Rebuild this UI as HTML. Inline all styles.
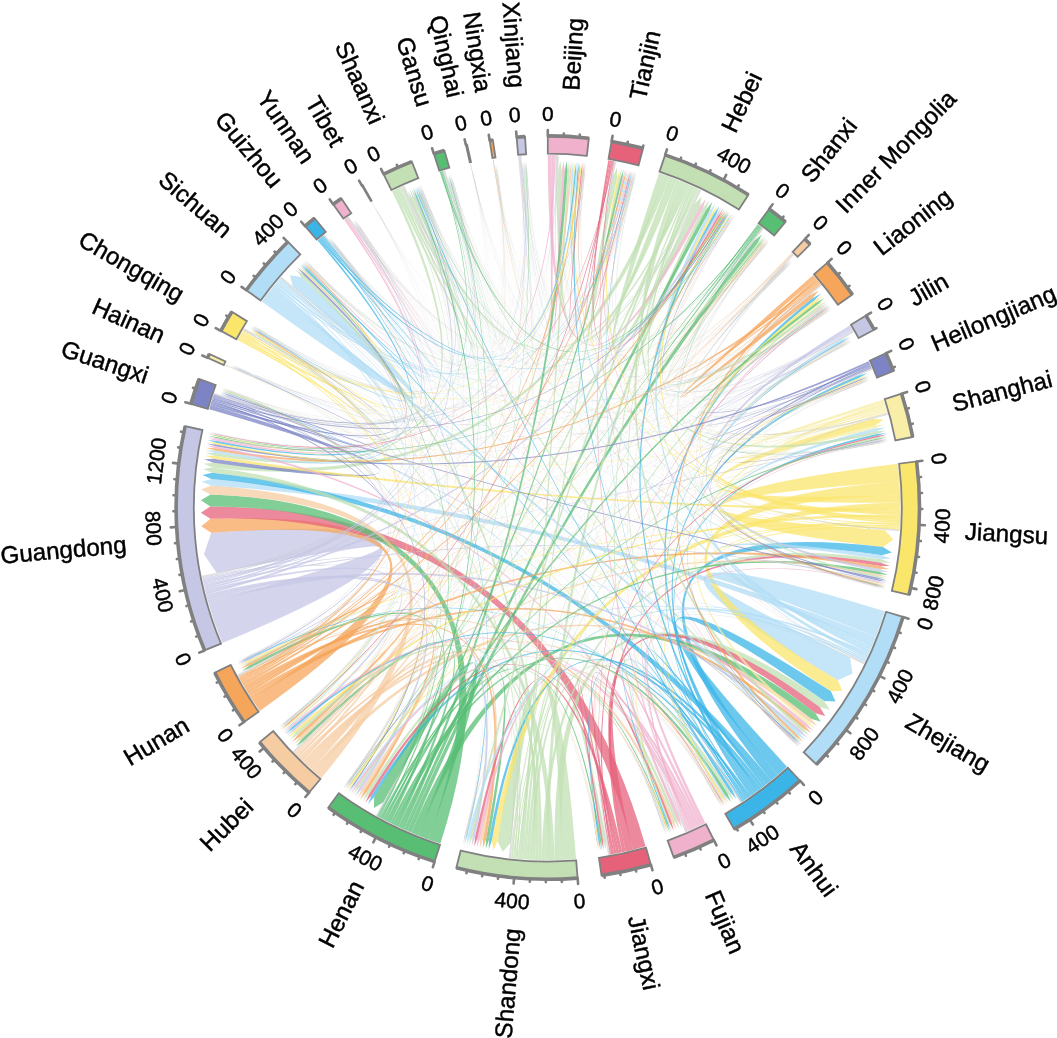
<!DOCTYPE html>
<html><head><meta charset="utf-8"><title>Chord diagram</title>
<style>html,body{margin:0;padding:0;background:#fff;overflow:hidden}svg{display:block}</style>
</head><body>
<svg width="1057" height="1038" viewBox="0 0 1057 1038">
<rect width="1057" height="1038" fill="#fff"/>
<g fill-opacity="0.75" stroke="none">
<path fill="#C6C7E5" d="M222.28 643.1A352.6 352.6 0 0 1 208.35 603.01Q547.48 507.61 216.68 572.91L203.94 554.14L211.23 532.66Q548.12 507.59 222.28 643.1Z"/>
<path fill="#B1DDF6" d="M884.79 611.34A352.6 352.6 0 0 1 875.84 636.89Q547.93 507.7 850.15 657.57L852.51 673.61L837.75 680.32Q547.67 507.5 884.79 611.34Z"/>
<path fill="#FBE66C" d="M897.67 463.83A352.6 352.6 0 0 1 899.44 481.59Q547.93 507.63 884.55 530.08L893.33 539.46L882.98 547.08Q547.67 507.57 897.67 463.83Z"/>
<path fill="#F5A65B" d="M259.75 710.95A352.6 352.6 0 0 1 251.65 698.97Q547.52 507.67 211.23 532.66L201.3 526.27L210.49 518.84Q548.08 507.53 259.75 710.95Z"/>
<path fill="#FBE66C" d="M899.44 481.59A352.6 352.6 0 0 1 900.18 495.11Q548.08 507.69 837.75 680.32L842.45 690.87L830.91 691.32Q547.52 507.51 899.44 481.59Z"/>
<path fill="#C2E0B4" d="M576.08 859.06A352.6 352.6 0 0 1 562.57 859.89Q547.78 507.69 510.48 843.03L502.82 851.67L497.63 841.35Q547.82 507.51 576.08 859.06Z"/>
<path fill="#B1DDF6" d="M261.78 301.39A352.6 352.6 0 0 1 269.91 290.57Q547.78 507.55 292.77 286.54L290.01 275.33L301.45 276.91Q547.82 507.65 261.78 301.39Z"/>
<path fill="#E6627B" d="M645.58 846.37A352.6 352.6 0 0 1 633.1 849.73Q547.34 508.19 210.49 518.84L200.84 512.8L210.3 506.47Q548.26 507.01 645.58 846.37Z"/>
<path fill="#57BE74" d="M440.42 843.45A352.6 352.6 0 0 1 428.48 839.4Q547.34 507.9 210.3 506.47L200.88 500.23L210.56 494.4Q548.26 507.3 440.42 843.45Z"/>
<path fill="#3BB5E7" d="M786.96 766.69A352.6 352.6 0 0 1 777.78 774.88Q547.7 507.54 830.91 691.32L835.54 701.55L824.33 701.09Q547.9 507.66 786.96 766.69Z"/>
<path fill="#57BE74" d="M428.48 839.4A352.6 352.6 0 0 1 418.11 835.48Q547.76 507.65 383.29 802.29L373.93 807.89L374.12 796.98Q547.84 507.55 428.48 839.4Z"/>
<path fill="#F6CCA3" d="M321.39 777.9A352.6 352.6 0 0 1 314.39 771.89Q547.52 507.71 210.56 494.4L201.27 489.49L211.02 485.58Q548.08 507.49 321.39 777.9Z"/>
<path fill="#3BB5E7" d="M777.78 774.88A352.6 352.6 0 0 1 771.18 780.42Q547.59 507.5 882.98 547.08L891.9 552.4L881.92 555.26Q548.01 507.7 777.78 774.88Z"/>
<path fill="#C2E0B4" d="M562.57 859.89A352.6 352.6 0 0 1 554.57 860.14Q547.67 507.38 824.33 701.09L829.83 709.75L819.87 707.32Q547.93 507.82 562.57 859.89Z"/>
<path fill="#E6627B" d="M633.1 849.73A352.6 352.6 0 0 1 625.62 851.51Q547.69 507.45 819.87 707.32L825.27 715.98L815.44 713.2Q547.91 507.75 633.1 849.73Z"/>
<path fill="#FBE66C" d="M900.18 495.11A352.6 352.6 0 0 1 900.36 502.49Q547.74 507.62 873.36 418.63L883.46 419.63L875.15 425.46Q547.86 507.58 900.18 495.11Z"/>
<path fill="#57BE74" d="M418.11 835.48A352.6 352.6 0 0 1 411.28 832.7Q547.71 507.29 815.44 713.2L820.75 721.86L811.08 718.76Q547.89 507.91 418.11 835.48Z"/>
<path fill="#B1DDF6" d="M875.84 636.89A352.6 352.6 0 0 1 873.3 643.16Q547.69 508.08 211.02 485.58L201.77 481.63L211.5 479.12Q547.91 507.12 875.84 636.89Z"/>
<path fill="#3BB5E7" d="M771.18 780.42A352.6 352.6 0 0 1 765.9 784.66Q547.58 508 211.5 479.12L202.34 475L212.11 472.66Q548.02 507.2 771.18 780.42Z"/>
<path fill="#C2E0B4" d="M659.1 173.03A352.6 352.6 0 0 1 664.92 175.02Q547.82 507.58 694.68 203.74L701.53 196.51L699.96 206.35Q547.78 507.62 659.1 173.03Z"/>
<path fill="#FBE66C" d="M900.36 502.49A352.6 352.6 0 0 1 900.4 508.65Q548.02 507.87 497.63 841.35L493.23 850.28L491.82 840.42Q547.58 507.33 900.36 502.49Z"/>
<path fill="#C2E0B4" d="M554.57 860.14A352.6 352.6 0 0 1 549.03 860.2Q547.57 507.8 212.11 472.66L202.96 468.97L212.7 467.4Q548.03 507.4 554.57 860.14Z"/>
<path fill="#C2E0B4" d="M664.92 175.02A352.6 352.6 0 0 1 669.55 176.69Q547.95 507.84 212.7 467.4L203.57 463.86L213.3 462.72Q547.65 507.36 664.92 175.02Z"/>
<path fill="#C2E0B4" d="M669.55 176.69A352.6 352.6 0 0 1 673.59 178.2Q547.8 507.63 613.14 176.48L617.05 167.58L617.18 177.31Q547.8 507.57 669.55 176.69Z"/>
<path fill="#F5A65B" d="M813.02 275.25A352.6 352.6 0 0 1 815.84 278.51Q547.81 507.6 809.9 294.98L818.61 290.64L812.48 298.19Q547.79 507.6 813.02 275.25Z"/>
<path fill="#B1DDF6" d="M873.3 643.16A352.6 352.6 0 0 1 871.62 647.13Q547.76 507.6 881.92 555.26L891.02 558.7L881.31 559.34Q547.84 507.6 873.3 643.16Z"/>
<path fill="#57BE74" d="M411.28 832.7A352.6 352.6 0 0 1 407.31 831Q547.53 507.44 754.35 240.68L761.83 234.47L757.59 243.23Q548.07 507.76 411.28 832.7Z"/>
<path fill="#7C84C6" d="M209.22 409.17A352.6 352.6 0 0 1 210.45 405.04Q547.82 507.6 213.3 462.72L204.17 459.36L213.87 458.64Q547.78 507.6 209.22 409.17Z"/>
<path fill="#F0B1CD" d="M547.8 155L551.49 155.02Q547.82 507.54 699.96 206.35L705.86 198.69L703.1 207.96Q547.78 507.66 547.8 155Z"/>
<path fill="#C2E0B4" d="M673.59 178.2A352.6 352.6 0 0 1 677.03 179.53Q547.8 507.65 558.26 170.26L560.37 160.83L561.79 170.39Q547.8 507.55 673.59 178.2Z"/>
<path fill="#C2E0B4" d="M549.03 860.2L545.34 860.19Q547.54 507.54 703.1 207.96L709.09 200.36L706.23 209.6Q548.06 507.66 549.03 860.2Z"/>
<path fill="#C2E0B4" d="M545.34 860.19L541.65 860.15Q547.68 507.47 881.31 559.34L890.42 562.59L880.75 562.83Q547.92 507.73 545.34 860.19Z"/>
<path fill="#57BE74" d="M407.31 831L403.94 829.52Q547.56 507.48 706.23 209.6L712.3 202.07L709.35 211.27Q548.04 507.72 407.31 831Z"/>
<path fill="#F6CCA3" d="M314.39 771.89L311.64 769.43Q547.78 507.4 811.08 718.76L817.35 726.12L808.85 721.51Q547.82 507.8 314.39 771.89Z"/>
<path fill="#E6627B" d="M625.62 851.51L622.31 852.24Q547.7 507.51 880.75 562.83L889.85 566.03L880.2 566.02Q547.9 507.69 625.62 851.51Z"/>
<path fill="#F0B1CD" d="M551.49 155.02L554.57 155.06Q547.81 507.6 561.79 170.39L563.69 160.96L564.73 170.52Q547.79 507.6 551.49 155.02Z"/>
<path fill="#F8EEA7" d="M883.43 399.52L884.36 402.45Q547.81 507.6 875.15 425.46L884.73 424.62L875.86 428.32Q547.79 507.6 883.43 399.52Z"/>
<path fill="#F8EEA7" d="M884.36 402.45L885.26 405.39Q547.9 507.63 808.85 721.51L815.24 728.7L806.98 723.78Q547.7 507.57 884.36 402.45Z"/>
<path fill="#FBE66C" d="M900.4 508.65L900.38 511.72Q547.78 507.82 213.87 458.64L204.69 455.76L214.31 455.73Q547.82 507.38 900.4 508.65Z"/>
<path fill="#B1DDF6" d="M871.62 647.13L870.39 649.95Q547.73 507.6 875.86 428.32L885.44 427.56L876.54 431.19Q547.87 507.6 871.62 647.13Z"/>
<path fill="#3BB5E7" d="M765.9 784.66L763.47 786.55Q547.8 507.61 732.32 790.19L736.24 798.97L729.85 791.79Q547.8 507.59 765.9 784.66Z"/>
<path fill="#3BB5E7" d="M763.47 786.55L761.03 788.42Q547.82 507.69 491.82 840.42L488.75 849.54L488.91 839.92Q547.78 507.51 763.47 786.55Z"/>
<path fill="#3BB5E7" d="M761.03 788.42L758.57 790.27Q547.8 507.73 374.12 796.98L367.93 804.34L371.6 795.45Q547.8 507.47 761.03 788.42Z"/>
<path fill="#F0B1CD" d="M705.35 823.04L702.59 824.41Q547.77 507.57 806.98 723.78L813.3 731.03L805.08 726.03Q547.83 507.63 705.35 823.04Z"/>
<path fill="#F0B1CD" d="M702.59 824.41L699.82 825.75Q547.8 507.61 679.61 818.3L681.93 827.63L676.9 819.43Q547.8 507.59 702.59 824.41Z"/>
<path fill="#E6627B" d="M622.31 852.24L619.3 852.87Q547.78 507.68 371.6 795.45L365.35 802.76L369.09 793.91Q547.82 507.52 622.31 852.24Z"/>
<path fill="#57BE74" d="M403.94 829.52L401.13 828.25Q547.58 507.55 564.73 170.52L566.72 161.12L567.67 170.69Q548.02 507.65 403.94 829.52Z"/>
<path fill="#57BE74" d="M401.13 828.25L398.34 826.96Q547.8 507.57 488.91 839.92L485.77 849.01L486.02 839.4Q547.8 507.63 401.13 828.25Z"/>
<path fill="#57BE74" d="M398.34 826.96L395.56 825.64Q547.77 507.63 303.95 740.93L296.04 746.4L301.92 738.8Q547.83 507.57 398.34 826.96Z"/>
<path fill="#F6CCA3" d="M311.64 769.43L309.36 767.36Q547.79 507.6 301.92 738.8L293.97 744.2L299.92 736.64Q547.81 507.6 311.64 769.43Z"/>
<path fill="#F5A65B" d="M251.65 698.97L249.99 696.38Q547.76 507.39 880.2 566.02L889.3 569.16L879.68 568.92Q547.84 507.81 251.65 698.97Z"/>
<path fill="#F5A65B" d="M249.99 696.38L248.36 693.77Q547.81 507.42 805.08 726.03L811.34 733.33L803.16 728.27Q547.79 507.78 249.99 696.38Z"/>
<path fill="#F5A65B" d="M248.36 693.77L246.74 691.15Q547.81 507.58 299.92 736.64L291.91 741.97L297.93 734.47Q547.79 507.62 248.36 693.77Z"/>
<path fill="#C2E0B4" d="M677.03 179.53L679.89 180.67Q547.88 507.54 876.54 431.19L886.13 430.51L877.19 434.06Q547.72 507.66 677.03 179.53Z"/>
<path fill="#C2E0B4" d="M679.89 180.67L682.73 181.84Q547.98 507.56 803.16 728.27L809.36 735.62L801.23 730.49Q547.62 507.64 679.89 180.67Z"/>
<path fill="#C2E0B4" d="M541.65 860.15L538.57 860.08Q547.61 507.68 301.45 276.91L295.55 269.32L303.47 274.77Q547.99 507.52 541.65 860.15Z"/>
<path fill="#C6C7E5" d="M208.35 603.01L207.54 600.05Q547.84 507.41 801.23 730.49L807.36 737.9L799.27 732.69Q547.76 507.79 208.35 603.01Z"/>
<path fill="#B1DDF6" d="M269.91 290.57L271.81 288.15Q547.95 507.43 799.27 732.69L805.34 740.16L797.3 734.88Q547.65 507.77 269.91 290.57Z"/>
<path fill="#C2E0B4" d="M538.57 860.08L535.49 859.99Q547.76 507.68 297.93 734.47L289.88 739.73L295.96 732.28Q547.84 507.52 538.57 860.08Z"/>
<path fill="#C2E0B4" d="M535.49 859.99L532.42 859.86Q547.78 507.65 369.09 793.91L362.78 801.16L366.6 792.33Q547.82 507.55 535.49 859.99Z"/>
<path fill="#F5A65B" d="M246.74 691.15L245.15 688.52Q547.83 507.56 366.6 792.33L360.23 799.53L364.13 790.74Q547.77 507.64 246.74 691.15Z"/>
<path fill="#F5A65B" d="M245.15 688.52L243.58 685.87Q547.85 507.52 486.02 839.4L482.79 848.46L483.12 838.84Q547.75 507.68 245.15 688.52Z"/>
<path fill="#C2E0B4" d="M532.42 859.86L529.35 859.72Q547.78 507.54 729.85 791.79L733.69 800.61L727.36 793.37Q547.82 507.66 532.42 859.86Z"/>
<path fill="#C2E0B4" d="M529.35 859.72L526.27 859.54Q547.79 507.55 676.9 819.43L679.13 828.79L674.17 820.55Q547.81 507.65 529.35 859.72Z"/>
<path fill="#F6CCA3" d="M309.36 767.36L307.1 765.27Q547.81 507.58 364.13 790.74L357.69 797.89L361.66 789.13Q547.79 507.62 309.36 767.36Z"/>
<path fill="#3BB5E7" d="M758.57 790.27L756.1 792.1Q547.64 507.58 812.48 298.19L820.87 293.49L814.3 300.51Q547.96 507.62 758.57 790.27Z"/>
<path fill="#C6C7E5" d="M207.54 600.05L206.74 597.08Q547.86 507.55 361.66 789.13L355.16 796.22L359.21 787.49Q547.74 507.65 207.54 600.05Z"/>
<path fill="#F6CCA3" d="M307.1 765.27L304.86 763.16Q547.82 507.54 483.12 838.84L479.82 847.88L480.23 838.27Q547.78 507.66 307.1 765.27Z"/>
<path fill="#FBE66C" d="M900.38 511.72L900.33 514.8Q547.73 507.63 814.3 300.51L822.72 295.88L816.09 302.84Q547.87 507.57 900.38 511.72Z"/>
<path fill="#F6CCA3" d="M304.86 763.16L302.66 761.04Q547.82 507.48 674.17 820.55L676.33 829.92L671.46 821.63Q547.78 507.72 304.86 763.16Z"/>
<path fill="#57BE74" d="M395.56 825.64L392.84 824.32Q547.79 507.49 727.36 793.37L731.15 802.2L724.9 794.9Q547.81 507.71 395.56 825.64Z"/>
<path fill="#C6C7E5" d="M849.72 325.47L851.25 328.03Q547.88 507.59 879.68 568.92L888.75 572.09L879.15 571.73Q547.72 507.61 849.72 325.47Z"/>
<path fill="#B1DDF6" d="M870.39 649.95L869.18 652.65Q547.66 507.65 709.35 211.27L715.17 203.63L711.83 212.64Q547.94 507.55 870.39 649.95Z"/>
<path fill="#C2E0B4" d="M526.27 859.54L523.39 859.35Q547.79 507.58 605.75 840.09L605.98 849.69L603.02 840.55Q547.81 507.62 526.27 859.54Z"/>
<path fill="#C2E0B4" d="M392.01 191.28L394.59 190.03Q547.88 507.65 214.31 455.73L205.14 452.87L214.74 453.02Q547.72 507.55 392.01 191.28Z"/>
<path fill="#F0B1CD" d="M699.82 825.75L697.24 826.97Q547.8 507.67 480.23 838.27L476.96 847.29L477.56 837.71Q547.8 507.53 699.82 825.75Z"/>
<path fill="#57BE74" d="M392.84 824.32L390.35 823.1Q547.73 507.46 879.15 571.73L888.22 574.87L878.64 574.33Q547.87 507.74 392.84 824.32Z"/>
<path fill="#B1DDF6" d="M271.81 288.15L273.55 285.99Q547.85 507.62 214.74 453.02L205.59 450.14L215.18 450.4Q547.75 507.58 271.81 288.15Z"/>
<path fill="#E6627B" d="M619.3 852.87L616.6 853.42Q547.8 507.64 477.56 837.71L474.25 846.72L474.98 837.15Q547.8 507.56 619.3 852.87Z"/>
<path fill="#57BE74" d="M390.35 823.1L387.93 821.87Q547.75 507.64 250.68 667.69L241.69 671.02L249.46 665.39Q547.85 507.56 390.35 823.1Z"/>
<path fill="#C6C7E5" d="M206.74 597.08L206.07 594.46Q547.87 507.52 474.98 837.15L471.63 846.14L472.46 836.58Q547.73 507.68 206.74 597.08Z"/>
<path fill="#3BB5E7" d="M756.1 792.1L754.05 793.58Q547.69 507.57 858.35 375.45L867.58 372.88L859.29 377.68Q547.91 507.63 756.1 792.1Z"/>
<path fill="#FBE66C" d="M900.33 514.8L900.27 517.27Q547.86 507.76 295.96 732.28L288.06 737.7L294.39 730.51Q547.74 507.44 900.33 514.8Z"/>
<path fill="#C2E0B4" d="M682.73 181.84L685.01 182.79Q547.97 507.66 472.46 836.58L469.15 845.57L470.16 836.05Q547.63 507.54 682.73 181.84Z"/>
<path fill="#FBE66C" d="M900.27 517.27L900.19 519.73Q547.72 507.65 711.83 212.64L717.5 204.93L713.89 213.79Q547.88 507.55 900.27 517.27Z"/>
<path fill="#B1DDF6" d="M869.18 652.65L868.16 654.89Q547.85 507.7 470.16 836.05L466.8 845.01L467.87 835.5Q547.75 507.5 869.18 652.65Z"/>
<path fill="#3BB5E7" d="M754.05 793.58L752.05 795.02Q547.65 507.61 713.89 213.79L719.61 206.12L715.93 214.96Q547.95 507.59 754.05 793.58Z"/>
<path fill="#F5A65B" d="M243.58 685.87L242.35 683.74Q547.79 507.6 249.46 665.39L240.5 668.76L248.37 663.31Q547.81 507.6 243.58 685.87Z"/>
<path fill="#C2E0B4" d="M394.59 190.03L396.81 188.96Q547.8 507.6 410.26 199.4L407.49 190.23L412.41 198.45Q547.8 507.6 394.59 190.03Z"/>
<path fill="#C6C7E5" d="M206.07 594.46L205.47 592.1Q547.7 507.47 715.93 214.96L721.7 207.32L717.95 216.13Q547.9 507.73 206.07 594.46Z"/>
<path fill="#C6C7E5" d="M205.47 592.1L204.9 589.73Q547.84 507.58 294.39 730.51L286.47 735.88L292.86 728.75Q547.76 507.62 205.47 592.1Z"/>
<path fill="#C2E0B4" d="M685.01 182.79L687.21 183.73Q547.95 507.68 359.21 787.49L352.93 794.71L357.31 786.2Q547.65 507.52 685.01 182.79Z"/>
<path fill="#57BE74" d="M387.93 821.87L385.83 820.8Q547.67 507.49 816.09 302.84L824.35 298L817.45 304.64Q547.93 507.71 387.93 821.87Z"/>
<path fill="#C2E0B4" d="M687.21 183.73L689.35 184.66Q547.8 507.67 412.41 198.45L409.65 189.28L414.46 197.56Q547.8 507.53 687.21 183.73Z"/>
<path fill="#E6627B" d="M616.6 853.42L614.35 853.86Q547.79 507.59 671.46 821.63L673.89 830.88L669.41 822.43Q547.81 507.61 616.6 853.42Z"/>
<path fill="#F5A65B" d="M815.84 278.51L817.27 280.2Q547.91 507.6 797.3 734.88L803.59 742.08L795.87 736.44Q547.69 507.6 815.84 278.51Z"/>
<path fill="#F5A65B" d="M817.27 280.2L818.66 281.85Q547.84 507.74 215.18 450.4L206 447.75L215.54 448.37Q547.76 507.46 817.27 280.2Z"/>
<path fill="#F0B1CD" d="M697.24 826.97L695.28 827.87Q547.71 507.71 215.54 448.37L206.37 445.66L215.91 446.34Q547.89 507.49 697.24 826.97Z"/>
<path fill="#C2E0B4" d="M523.39 859.35L521.24 859.2Q547.64 507.59 567.67 170.69L569.29 161.27L569.73 170.81Q547.96 507.61 523.39 859.35Z"/>
<path fill="#7C84C6" d="M210.45 405.04L211.06 403.04Q547.77 507.58 303.47 274.77L297.3 267.48L304.85 273.33Q547.83 507.62 210.45 405.04Z"/>
<path fill="#F0B1CD" d="M695.28 827.87L693.43 828.72Q547.79 507.67 357.31 786.2L351.12 793.48L355.7 785.1Q547.81 507.53 695.28 827.87Z"/>
<path fill="#C6C7E5" d="M204.9 589.73L204.44 587.78Q547.76 507.59 228.63 397.88L219.97 393.86L229.26 396.06Q547.84 507.61 204.9 589.73Z"/>
<path fill="#F6CCA3" d="M302.66 761.04L301.25 759.67Q547.68 507.54 569.73 170.81L571.31 161.4L571.61 170.94Q547.92 507.66 302.66 761.04Z"/>
<path fill="#7C84C6" d="M868.58 361.21L869.38 362.98Q547.82 507.73 215.91 446.34L206.74 443.68L216.25 444.52Q547.78 507.47 868.58 361.21Z"/>
<path fill="#B1DDF6" d="M868.16 654.89L867.36 656.63Q547.74 507.61 840.62 339.78L849.33 335.87L841.52 341.37Q547.86 507.59 868.16 654.89Z"/>
<path fill="#C2E0B4" d="M396.81 188.96L398.54 188.15Q547.91 507.52 795.87 736.44L802.21 743.57L794.62 737.78Q547.69 507.68 396.81 188.96Z"/>
<path fill="#C2E0B4" d="M689.35 184.66L691.04 185.41Q547.81 507.59 757.59 243.23L764.21 236.35L758.97 244.33Q547.79 507.61 689.35 184.66Z"/>
<path fill="#FBE66C" d="M900.19 519.73L900.12 521.57Q547.73 507.66 617.18 177.31L620.02 168.2L618.9 177.68Q547.87 507.54 900.19 519.73Z"/>
<path fill="#B1DDF6" d="M867.36 656.63L866.57 658.3Q547.7 507.66 571.61 170.94L573.18 161.53L573.37 171.07Q547.9 507.54 867.36 656.63Z"/>
<path fill="#3BB5E7" d="M752.05 795.02L750.54 796.08Q547.73 507.58 877.19 434.06L886.66 432.88L877.57 435.79Q547.87 507.62 752.05 795.02Z"/>
<path fill="#3BB5E7" d="M750.54 796.08L749.03 797.14Q547.79 507.69 292.86 728.75L285.08 734.29L291.7 727.42Q547.81 507.51 750.54 796.08Z"/>
<path fill="#E6627B" d="M614.35 853.86L612.54 854.21Q547.8 507.6 603.02 840.55L603.68 850.07L601.28 840.84Q547.8 507.6 614.35 853.86Z"/>
<path fill="#C2E0B4" d="M521.24 859.2L519.4 859.05Q547.67 507.58 618.9 177.68L621.79 168.58L620.63 178.05Q547.93 507.62 521.24 859.2Z"/>
<path fill="#57BE74" d="M385.83 820.8L384.2 819.95Q547.67 507.55 620.63 178.05L623.57 168.97L622.36 178.44Q547.93 507.65 385.83 820.8Z"/>
<path fill="#F6CCA3" d="M301.25 759.67L299.93 758.38Q547.76 507.49 878.64 574.33L887.77 577.1L878.28 576.06Q547.84 507.71 301.25 759.67Z"/>
<path fill="#FBE66C" d="M237.64 339.89L238.52 338.27Q547.82 507.6 216.25 444.52L207.09 441.85L216.58 442.78Q547.78 507.6 237.64 339.89Z"/>
<path fill="#3BB5E7" d="M317.5 240.6L318.9 239.4Q547.84 507.62 216.58 442.78L207.44 440.07L216.93 441.05Q547.76 507.58 317.5 240.6Z"/>
<path fill="#C2E0B4" d="M691.04 185.41L692.7 186.15Q547.88 507.56 878.28 576.06L887.4 578.86L877.93 577.76Q547.72 507.64 691.04 185.41Z"/>
<path fill="#F8EEA7" d="M885.26 405.39L885.77 407.1Q547.78 507.61 817.45 304.64L825.57 299.63L818.48 306Q547.82 507.59 885.26 405.39Z"/>
<path fill="#F0B1CD" d="M693.43 828.72L691.86 829.43Q547.78 507.67 291.7 727.42L283.94 732.96L290.63 726.16Q547.82 507.53 693.43 828.72Z"/>
<path fill="#C6C7E5" d="M204.44 587.78L204.05 586.1Q547.73 507.56 414.46 197.56L411.49 188.5L415.97 196.91Q547.87 507.64 204.44 587.78Z"/>
<path fill="#B1DDF6" d="M866.57 658.3L865.85 659.83Q547.82 507.63 724.9 794.9L729.18 803.42L723.52 795.75Q547.78 507.57 866.57 658.3Z"/>
<path fill="#E6627B" d="M608.3 160.23L609.95 160.52Q547.81 507.58 717.95 216.13L723.45 208.34L719.33 216.94Q547.79 507.62 608.3 160.23Z"/>
<path fill="#F0B1CD" d="M344.15 219.76L345.51 218.8Q547.84 507.62 216.93 441.05L207.78 438.37L217.25 439.48Q547.76 507.58 344.15 219.76Z"/>
<path fill="#C2E0B4" d="M519.4 859.05L517.75 858.92Q547.7 507.55 818.48 306L826.58 300.99L819.42 307.28Q547.9 507.65 519.4 859.05Z"/>
<path fill="#C2E0B4" d="M692.7 186.15L694.14 186.8Q547.82 507.58 819.42 307.28L827.53 302.27L820.31 308.5Q547.78 507.62 692.7 186.15Z"/>
<path fill="#FBE66C" d="M900.12 521.57L900.06 523.11Q547.74 507.65 573.37 171.07L574.84 161.66L574.84 171.18Q547.86 507.55 900.12 521.57Z"/>
<path fill="#E6627B" d="M612.54 854.21L611.03 854.48Q547.73 507.56 877.57 435.79L887.01 434.5L877.88 437.23Q547.87 507.64 612.54 854.21Z"/>
<path fill="#B1DDF6" d="M865.85 659.83L865.19 661.19Q547.82 507.68 355.7 785.1L349.68 792.48L354.51 784.27Q547.78 507.52 865.85 659.83Z"/>
<path fill="#57BE74" d="M384.2 819.95L382.87 819.25Q547.8 507.57 601.28 840.84L602.05 850.33L599.86 841.06Q547.8 507.63 384.2 819.95Z"/>
<path fill="#FBE66C" d="M238.52 338.27L239.24 336.96Q547.79 507.59 304.85 273.33L298.52 266.21L305.85 272.3Q547.81 507.61 238.52 338.27Z"/>
<path fill="#F6CCA3" d="M299.93 758.38L298.87 757.32Q547.81 507.53 723.52 795.75L727.84 804.24L722.3 796.49Q547.79 507.67 299.93 758.38Z"/>
<path fill="#3BB5E7" d="M749.03 797.14L747.81 797.98Q547.81 507.62 599.86 841.06L600.6 850.56L598.45 841.28Q547.79 507.58 749.03 797.14Z"/>
<path fill="#F5A65B" d="M242.35 683.74L241.61 682.46Q547.73 507.53 719.33 216.94L724.78 209.13L720.54 217.66Q547.87 507.67 242.35 683.74Z"/>
<path fill="#7C84C6" d="M211.06 403.04L211.49 401.66Q547.83 507.5 877.93 577.76L887.07 580.44L877.63 579.13Q547.77 507.7 211.06 403.04Z"/>
<path fill="#C2E0B4" d="M694.14 186.8L695.45 187.4Q547.9 507.6 669.41 822.43L672.17 831.54L668.12 822.92Q547.7 507.6 694.14 186.8Z"/>
<path fill="#57BE74" d="M382.87 819.25L381.6 818.57Q547.7 507.59 415.97 196.91L412.92 187.89L417.25 196.37Q547.9 507.61 382.87 819.25Z"/>
<path fill="#7C84C6" d="M869.38 362.98L869.97 364.3Q547.83 507.6 877.63 579.13L886.77 581.83L877.34 580.47Q547.77 507.6 869.38 362.98Z"/>
<path fill="#F0B1CD" d="M691.86 829.43L690.54 830.02Q547.7 507.61 622.36 178.44L625.15 169.33L623.7 178.75Q547.9 507.59 691.86 829.43Z"/>
<path fill="#FBE66C" d="M900.06 523.11L899.99 524.54Q547.84 507.63 722.3 796.49L726.61 804.98L721.12 797.2Q547.76 507.57 900.06 523.11Z"/>
<path fill="#3BB5E7" d="M318.9 239.4L319.97 238.49Q547.79 507.56 574.84 171.18L576.29 161.77L576.18 171.3Q547.81 507.64 318.9 239.4Z"/>
<path fill="#C6C7E5" d="M204.05 586.1L203.74 584.75Q547.8 507.5 877.34 580.47L886.47 583.19L877.05 581.77Q547.8 507.7 204.05 586.1Z"/>
<path fill="#B1DDF6" d="M273.55 285.99L274.41 284.92Q547.78 507.56 576.18 171.3L577.65 161.89L577.49 171.41Q547.82 507.64 273.55 285.99Z"/>
<path fill="#C2E0B4" d="M517.75 858.92L516.39 858.8Q547.72 507.64 257.21 335.95L249.37 330.54L257.87 334.83Q547.88 507.56 517.75 858.92Z"/>
<path fill="#B1DDF6" d="M274.41 284.92L275.24 283.91Q547.86 507.6 290.63 726.16L282.98 731.83L289.82 725.21Q547.74 507.6 274.41 284.92Z"/>
<path fill="#F5A65B" d="M241.61 682.46L240.98 681.36Q547.73 507.55 623.7 178.75L626.45 169.63L624.89 179.02Q547.87 507.65 241.61 682.46Z"/>
<path fill="#F0B1CD" d="M554.57 155.06L555.83 155.09Q547.84 507.65 217.25 439.48L208.07 436.96L217.49 438.3Q547.76 507.55 554.57 155.06Z"/>
<path fill="#7C84C6" d="M211.49 401.66L211.87 400.46Q547.85 507.58 354.51 784.27L348.56 791.7L353.53 783.58Q547.75 507.62 211.49 401.66Z"/>
<path fill="#FBE66C" d="M239.24 336.96L239.85 335.87Q547.86 507.58 353.53 783.58L347.56 790.99L352.55 782.89Q547.74 507.62 239.24 336.96Z"/>
<path fill="#3BB5E7" d="M747.81 797.98L746.79 798.68Q547.72 507.62 577.49 171.41L578.93 162L578.66 171.51Q547.88 507.58 747.81 797.98Z"/>
<path fill="#C2E0B4" d="M516.39 858.8L515.17 858.69Q547.74 507.55 877.88 437.23L887.3 435.84L878.12 438.38Q547.86 507.65 516.39 858.8Z"/>
<path fill="#57BE74" d="M381.6 818.57L380.51 817.99Q547.75 507.53 878.12 438.38L887.55 437.02L878.36 439.53Q547.85 507.67 381.6 818.57Z"/>
<path fill="#F5A65B" d="M240.98 681.36L240.38 680.28Q547.73 507.56 578.66 171.51L580.14 162.11L579.84 171.62Q547.87 507.64 240.98 681.36Z"/>
<path fill="#7C84C6" d="M211.87 400.46L212.25 399.29Q547.8 507.6 229.26 396.06L220.5 392.35L229.65 394.95Q547.8 507.6 211.87 400.46Z"/>
<path fill="#FBE66C" d="M239.85 335.87L240.45 334.8Q547.8 507.6 257.87 334.83L250.02 329.45L258.48 333.82Q547.8 507.6 239.85 335.87Z"/>
<path fill="#B1DDF6" d="M275.24 283.91L276.02 282.96Q547.79 507.55 624.89 179.02L627.65 169.91L626.03 179.29Q547.81 507.65 275.24 283.91Z"/>
<path fill="#3BB5E7" d="M746.79 798.68L745.78 799.37Q547.8 507.61 668.12 822.92L670.95 832.01L667.03 823.34Q547.8 507.59 746.79 798.68Z"/>
<path fill="#C2E0B4" d="M695.45 187.4L696.56 187.92Q547.88 507.6 721.12 797.2L725.49 805.65L720.12 797.79Q547.72 507.6 695.45 187.4Z"/>
<path fill="#57BE74" d="M380.51 817.99L379.47 817.42Q547.8 507.56 667.03 823.34L669.84 832.43L665.96 823.74Q547.8 507.64 380.51 817.99Z"/>
<path fill="#57BE74" d="M439.72 171.97L440.85 171.61Q547.81 507.56 720.54 217.66L725.91 209.8L721.52 218.24Q547.79 507.64 439.72 171.97Z"/>
<path fill="#FBE66C" d="M240.45 334.8L241.03 333.76Q547.78 507.56 579.84 171.62L581.32 162.22L580.97 171.73Q547.82 507.64 240.45 334.8Z"/>
<path fill="#C6C7E5" d="M203.74 584.75L203.49 583.6Q547.76 507.58 357.16 229.1L352.27 220.93L358.09 228.46Q547.84 507.62 203.74 584.75Z"/>
<path fill="#F5A65B" d="M818.66 281.85L819.41 282.76Q547.79 507.61 721.52 218.24L726.9 210.39L722.48 218.82Q547.81 507.59 818.66 281.85Z"/>
<path fill="#C2E0B4" d="M515.17 858.69L514.01 858.58Q547.78 507.63 248.37 663.31L239.67 667.18L247.86 662.32Q547.82 507.57 515.17 858.69Z"/>
<path fill="#F6CCA3" d="M298.87 757.32L298.06 756.52Q547.73 507.56 626.03 179.29L628.78 170.18L627.1 179.55Q547.87 507.64 298.87 757.32Z"/>
<path fill="#E6627B" d="M609.95 160.52L611.06 160.72Q547.8 507.6 580.97 171.73L582.46 162.33L582.05 171.84Q547.8 507.6 609.95 160.52Z"/>
<path fill="#F0B1CD" d="M690.54 830.02L689.51 830.47Q547.77 507.58 877.05 581.77L886.19 584.4L876.81 582.82Q547.83 507.62 690.54 830.02Z"/>
<path fill="#C6C7E5" d="M203.49 583.6L203.25 582.52Q547.76 507.59 305.85 272.3L299.41 265.29L306.58 271.55Q547.84 507.61 203.49 583.6Z"/>
<path fill="#3BB5E7" d="M319.97 238.49L320.79 237.8Q547.8 507.6 306.58 271.55L300.16 264.53L307.3 270.82Q547.8 507.6 319.97 238.49Z"/>
<path fill="#FBE66C" d="M899.99 524.54L899.94 525.61Q547.78 507.6 859.29 377.68L868.26 374.51L859.69 378.63Q547.82 507.6 899.99 524.54Z"/>
<path fill="#7C84C6" d="M212.25 399.29L212.58 398.27Q547.78 507.54 722.48 218.82L727.85 210.97L723.36 219.35Q547.82 507.66 212.25 399.29Z"/>
<path fill="#C2E0B4" d="M514.01 858.58L512.95 858.47Q547.75 507.56 859.69 378.63L868.67 375.48L860.07 379.57Q547.85 507.64 514.01 858.58Z"/>
<path fill="#B1DDF6" d="M276.02 282.96L276.7 282.15Q547.79 507.58 417.25 196.37L414.05 187.41L418.18 195.98Q547.81 507.62 276.02 282.96Z"/>
<path fill="#F8EEA7" d="M885.77 407.1L886.07 408.1Q547.84 507.67 289.82 725.21L282.23 730.94L289.18 724.44Q547.76 507.53 885.77 407.1Z"/>
<path fill="#F0B1CD" d="M689.51 830.47L688.56 830.89Q547.74 507.59 820.31 308.5L828.29 303.31L820.9 309.3Q547.86 507.61 689.51 830.47Z"/>
<path fill="#FBE66C" d="M241.03 333.76L241.54 332.86Q547.84 507.59 289.18 724.44L281.57 730.16L288.54 723.68Q547.76 507.61 241.03 333.76Z"/>
<path fill="#FBE66C" d="M899.94 525.61L899.89 526.64Q547.83 507.66 352.55 782.89L346.64 790.34L351.75 782.32Q547.77 507.54 899.94 525.61Z"/>
<path fill="#57BE74" d="M757.78 224.34L758.61 224.96Q547.8 507.6 723.36 219.35L728.73 211.5L724.2 219.87Q547.8 507.6 757.78 224.34Z"/>
<path fill="#F5A65B" d="M240.38 680.28L239.88 679.39Q547.76 507.6 258.48 333.82L250.59 328.5L258.98 332.98Q547.84 507.6 240.38 680.28Z"/>
<path fill="#3BB5E7" d="M745.78 799.37L744.94 799.94Q547.73 507.64 418.18 195.98L414.99 187.02L419.08 195.61Q547.87 507.56 745.78 799.37Z"/>
<path fill="#57BE74" d="M379.47 817.42L378.57 816.94Q547.74 507.61 307.3 270.82L300.88 263.8L307.98 270.13Q547.86 507.59 379.47 817.42Z"/>
<path fill="#57BE74" d="M758.61 224.96L759.42 225.56Q547.82 507.66 217.49 438.3L208.3 435.86L217.69 437.35Q547.78 507.54 758.61 224.96Z"/>
<path fill="#C6C7E5" d="M203.25 582.52L203.04 581.54Q547.76 507.55 627.1 179.55L629.81 170.43L628.04 179.78Q547.84 507.65 203.25 582.52Z"/>
<path fill="#3BB5E7" d="M744.94 799.94L744.13 800.48Q547.75 507.65 307.98 270.13L301.57 263.1L308.64 269.46Q547.85 507.55 744.94 799.94Z"/>
<path fill="#FBE66C" d="M899.89 526.64L899.83 527.61Q547.81 507.67 247.86 662.32L239.19 666.25L247.43 661.5Q547.79 507.53 899.89 526.64Z"/>
<path fill="#B1DDF6" d="M276.7 282.15L277.31 281.41Q547.86 507.58 467.87 835.5L465.16 844.62L466.98 835.28Q547.74 507.62 276.7 282.15Z"/>
<path fill="#F0B1CD" d="M345.51 218.8L346.3 218.25Q547.81 507.6 308.64 269.46L302.24 262.43L309.29 268.82Q547.79 507.6 345.51 218.8Z"/>
<path fill="#C2E0B4" d="M512.95 858.47L512 858.38Q547.73 507.61 419.08 195.61L415.89 186.65L419.93 195.26Q547.87 507.59 512.95 858.47Z"/>
<path fill="#F8EEA7" d="M886.07 408.1L886.34 409.02Q547.8 507.67 217.69 437.35L208.5 434.92L217.88 436.46Q547.8 507.53 886.07 408.1Z"/>
<path fill="#F5A65B" d="M239.88 679.39L239.42 678.57Q547.76 507.59 309.29 268.82L302.9 261.77L309.93 268.18Q547.84 507.61 239.88 679.39Z"/>
<path fill="#3BB5E7" d="M744.13 800.48L743.35 801.01Q547.75 507.59 841.52 341.37L850.02 337.09L841.97 342.15Q547.85 507.61 744.13 800.48Z"/>
<path fill="#F8EEA7" d="M886.34 409.02L886.6 409.91Q547.82 507.6 876.81 582.82L885.97 585.39L876.61 583.69Q547.78 507.6 886.34 409.02Z"/>
<path fill="#B1DDF6" d="M277.31 281.41L277.91 280.7Q547.79 507.58 449.34 184.78L447 175.56L450.19 184.52Q547.81 507.62 277.31 281.41Z"/>
<path fill="#E6627B" d="M611.06 160.72L611.97 160.89Q547.8 507.6 628.04 179.78L630.74 170.66L628.9 179.99Q547.8 507.6 611.06 160.72Z"/>
<path fill="#57BE74" d="M759.42 225.56L760.16 226.12Q547.8 507.6 758.97 244.33L765.27 237.2L759.66 244.88Q547.8 507.6 759.42 225.56Z"/>
<path fill="#C6C7E5" d="M851.25 328.03L851.72 328.83Q547.8 507.6 841.97 342.15L850.47 337.89L842.4 342.92Q547.8 507.6 851.25 328.03Z"/>
<path fill="#7C84C6" d="M869.97 364.3L870.34 365.14Q547.8 507.6 860.07 379.57L869.04 376.39L860.41 380.39Q547.8 507.6 869.97 364.3Z"/>
<path fill="#E6627B" d="M611.97 160.89L612.87 161.06Q547.85 507.63 288.54 723.68L280.96 729.42L287.98 723.01Q547.75 507.57 611.97 160.89Z"/>
<path fill="#C2E0B4" d="M512 858.38L511.1 858.28Q547.74 507.58 759.66 244.88L765.97 237.77L760.34 245.43Q547.86 507.62 512 858.38Z"/>
<path fill="#F8EEA7" d="M886.6 409.91L886.84 410.75Q547.8 507.6 860.41 380.39L869.37 377.21L860.72 381.17Q547.8 507.6 886.6 409.91Z"/>
<path fill="#F6CCA3" d="M298.06 756.52L297.46 755.91Q547.79 507.6 247.43 661.5L238.78 665.45L247.06 660.77Q547.81 507.6 298.06 756.52Z"/>
<path fill="#C6C7E5" d="M203.04 581.54L202.86 580.7Q547.81 507.6 247.06 660.77L238.4 664.7L246.69 660.04Q547.79 507.6 203.04 581.54Z"/>
<path fill="#7C84C6" d="M870.34 365.14L870.68 365.9Q547.79 507.61 724.2 219.87L729.51 211.98L724.88 220.28Q547.81 507.59 870.34 365.14Z"/>
<path fill="#C2E0B4" d="M696.56 187.92L697.31 188.27Q547.8 507.62 450.19 184.52L447.83 175.31L450.95 184.3Q547.8 507.58 696.56 187.92Z"/>
<path fill="#57BE74" d="M440.85 171.61L441.64 171.36Q547.82 507.62 217.88 436.46L208.68 434.06L218.05 435.68Q547.78 507.58 440.85 171.61Z"/>
<path fill="#C2E0B4" d="M697.31 188.27L698.06 188.62Q547.85 507.64 287.98 723.01L280.41 728.76L287.48 722.4Q547.75 507.56 697.31 188.27Z"/>
<path fill="#FBE66C" d="M899.83 527.61L899.78 528.43Q547.83 507.62 665.96 823.74L668.91 832.78L665.23 824.01Q547.77 507.58 899.83 527.61Z"/>
<path fill="#C2E0B4" d="M398.54 188.15L399.25 187.82Q547.8 507.57 724.88 220.28L730.19 212.4L725.52 220.68Q547.8 507.63 398.54 188.15Z"/>
<path fill="#F0B1CD" d="M688.56 830.89L687.84 831.2Q547.77 507.58 878.36 439.53L887.75 437.99L878.51 440.26Q547.83 507.62 688.56 830.89Z"/>
<path fill="#F8EEA7" d="M886.84 410.75L887.05 411.5Q547.78 507.61 725.52 220.68L730.84 212.81L726.15 221.07Q547.82 507.59 886.84 410.75Z"/>
<path fill="#C6C7E5" d="M202.86 580.7L202.7 579.95Q547.78 507.55 842.4 342.92L850.87 338.62L842.76 343.57Q547.82 507.65 202.86 580.7Z"/>
<path fill="#C2E0B4" d="M399.25 187.82L399.94 187.5Q547.84 507.61 287.48 722.4L279.91 728.16L287.01 721.84Q547.76 507.59 399.25 187.82Z"/>
<path fill="#3BB5E7" d="M743.35 801.01L742.72 801.42Q547.79 507.64 246.69 660.04L238.04 664L246.36 659.39Q547.81 507.56 743.35 801.01Z"/>
<path fill="#FBE66C" d="M241.54 332.86L241.92 332.21Q547.79 507.56 726.15 221.07L731.48 213.2L726.76 221.45Q547.81 507.64 241.54 332.86Z"/>
<path fill="#F5A65B" d="M239.42 678.57L239.06 677.91Q547.81 507.57 665.23 824.01L668.19 833.05L664.56 824.26Q547.79 507.63 239.42 678.57Z"/>
<path fill="#7C84C6" d="M212.58 398.27L212.81 397.58Q547.83 507.55 794.62 737.78L801.33 744.52L794.15 738.29Q547.77 507.65 212.58 398.27Z"/>
<path fill="#7C84C6" d="M870.68 365.9L870.96 366.56Q547.83 507.61 794.15 738.29L800.84 745.05L793.68 738.8Q547.77 507.59 870.68 365.9Z"/>
<path fill="#57BE74" d="M760.16 226.12L760.73 226.55Q547.84 507.63 351.75 782.32L345.94 789.84L351.19 781.92Q547.76 507.57 760.16 226.12Z"/>
<path fill="#B1DDF6" d="M277.91 280.7L278.37 280.15Q547.8 507.56 820.9 309.3L828.8 304.01L821.3 309.86Q547.8 507.64 277.91 280.7Z"/>
<path fill="#3BB5E7" d="M320.79 237.8L321.33 237.34Q547.8 507.57 726.76 221.45L732.09 213.59L727.34 221.81Q547.8 507.63 320.79 237.8Z"/>
<path fill="#C6C7E5" d="M202.7 579.95L202.56 579.26Q547.79 507.55 878.51 440.26L887.89 438.71L878.65 440.93Q547.81 507.65 202.7 579.95Z"/>
<path fill="#E6627B" d="M611.03 854.48L610.33 854.61Q547.8 507.59 720.12 797.79L724.67 806.14L719.54 798.14Q547.8 507.61 611.03 854.48Z"/>
<path fill="#7C84C6" d="M212.81 397.58L213.02 396.91Q547.82 507.6 246.36 659.39L237.72 663.36L246.06 658.79Q547.78 507.6 212.81 397.58Z"/>
<path fill="#57BE74" d="M378.57 816.94L377.98 816.61Q547.75 507.59 450.95 184.3L448.54 175.1L451.57 184.11Q547.85 507.61 378.57 816.94Z"/>
<path fill="#3BB5E7" d="M321.33 237.34L321.83 236.92Q547.84 507.59 466.98 835.28L464.39 844.43L466.37 835.13Q547.76 507.61 321.33 237.34Z"/>
<path fill="#7C84C6" d="M213.02 396.91L213.23 396.29Q547.8 507.6 239.35 370.61L230.8 366.46L239.61 370.04Q547.8 507.6 213.02 396.91Z"/>
<path fill="#F5A65B" d="M819.41 282.76L819.83 283.26Q547.82 507.6 876.61 583.69L885.79 586.14L876.47 584.3Q547.78 507.6 819.41 282.76Z"/>
<path fill="#B1DDF6" d="M278.37 280.15L278.79 279.66Q547.81 507.6 229.65 394.95L220.81 391.48L229.86 394.36Q547.79 507.6 278.37 280.15Z"/>
<path fill="#F6CCA3" d="M297.46 755.91L297.02 755.46Q547.77 507.57 783.28 265.82L790.13 259.23L783.71 266.24Q547.83 507.63 297.46 755.91Z"/>
<path fill="#F6CCA3" d="M297.02 755.46L296.58 755.02Q547.81 507.58 598.45 841.28L599.58 850.72L597.87 841.37Q547.79 507.62 297.02 755.46Z"/>
<path fill="#7C84C6" d="M213.23 396.29L213.43 395.71Q547.8 507.6 258.98 332.98L251.01 327.81L259.29 332.48Q547.8 507.6 213.23 396.29Z"/>
<path fill="#F0B1CD" d="M346.3 218.25L346.8 217.9Q547.8 507.6 358.09 228.46L353 220.44L358.58 228.13Q547.8 507.6 346.3 218.25Z"/>
<path fill="#C6C7E5" d="M518.23 156.24L518.85 156.19Q547.8 507.6 522.4 171.06L521.98 161.56L522.98 171.01Q547.8 507.6 518.23 156.24Z"/>
<path fill="#F6CCA3" d="M791.63 252.89L792.07 253.32Q547.8 507.6 727.34 221.81L732.64 213.93L727.83 222.13Q547.8 507.6 791.63 252.89Z"/>
<path fill="#F8EEA7" d="M225.06 365.59L225.31 365.04Q547.8 507.6 218.05 435.68L208.83 433.37L218.18 435.12Q547.8 507.6 225.06 365.59Z"/>
<path fill="#F6CCA3" d="M296.58 755.02L296.16 754.59Q547.76 507.59 522.98 171.01L522.58 161.52L523.55 170.97Q547.84 507.61 296.58 755.02Z"/>
<path fill="#C6C7E5" d="M851.72 328.83L852.02 329.33Q547.79 507.61 628.9 179.99L631.46 170.84L629.44 180.12Q547.81 507.59 851.72 328.83Z"/>
<path fill="#E6627B" d="M612.87 161.06L613.44 161.16Q547.82 507.62 218.18 435.12L208.96 432.79L218.3 434.57Q547.78 507.58 612.87 161.06Z"/>
<path fill="#C2E0B4" d="M698.06 188.62L698.59 188.87Q547.8 507.62 309.93 268.18L303.44 261.24L310.33 267.78Q547.8 507.58 698.06 188.62Z"/>
<path fill="#F5A65B" d="M819.83 283.26L820.19 283.7Q547.79 507.61 582.05 171.84L583.29 162.42L582.6 171.9Q547.81 507.59 819.83 283.26Z"/>
<path fill="#F8EEA7" d="M887.05 411.5L887.21 412.05Q547.82 507.63 351.19 781.92L345.42 789.47L350.74 781.6Q547.78 507.57 887.05 411.5Z"/>
<path fill="#F8EEA7" d="M887.21 412.05L887.36 412.6Q547.83 507.61 664.56 824.26L667.58 833.27L664.04 824.45Q547.77 507.59 887.21 412.05Z"/>
<path fill="#F5A65B" d="M820.19 283.7L820.55 284.15Q547.81 507.6 860.72 381.17L869.64 377.87L860.93 381.67Q547.79 507.6 820.19 283.7Z"/>
<path fill="#FBE66C" d="M241.92 332.21L242.2 331.72Q547.8 507.57 821.3 309.86L829.16 304.52L821.62 310.29Q547.8 507.63 241.92 332.21Z"/>
<path fill="#3BB5E7" d="M321.83 236.92L322.26 236.57Q547.8 507.58 629.44 180.12L632.01 170.97L629.96 180.25Q547.8 507.62 321.83 236.92Z"/>
<path fill="#F0B1CD" d="M687.84 831.2L687.33 831.42Q547.8 507.6 719.54 798.14L724.14 806.45L719.08 798.41Q547.8 507.6 687.84 831.2Z"/>
<path fill="#7C84C6" d="M870.96 366.56L871.18 367.07Q547.8 507.6 821.62 310.29L829.48 304.96L821.92 310.72Q547.8 507.6 870.96 366.56Z"/>
<path fill="#7C84C6" d="M213.43 395.71L213.6 395.19Q547.79 507.59 419.93 195.26L416.58 186.37L420.41 195.07Q547.81 507.61 213.43 395.71Z"/>
<path fill="#F6CCA3" d="M296.16 754.59L295.79 754.21Q547.77 507.58 727.83 222.13L733.12 214.23L728.27 222.4Q547.83 507.62 296.16 754.59Z"/>
<path fill="#7C84C6" d="M871.18 367.07L871.4 367.56Q547.8 507.6 878.65 440.93L888.01 439.31L878.75 441.43Q547.8 507.6 871.18 367.07Z"/>
<path fill="#B1DDF6" d="M865.19 661.19L864.95 661.68Q547.78 507.6 821.92 310.72L829.79 305.39L822.22 311.14Q547.82 507.6 865.19 661.19Z"/>
<path fill="#C2E0B4" d="M511.1 858.28L510.57 858.23Q547.76 507.6 523.55 170.97L523.13 161.48L524.06 170.94Q547.84 507.6 511.1 858.28Z"/>
<path fill="#C6C7E5" d="M202.56 579.26L202.45 578.74Q547.78 507.58 524.06 170.94L523.65 161.44L524.57 170.9Q547.82 507.62 202.56 579.26Z"/>
<path fill="#57BE74" d="M760.73 226.55L761.15 226.87Q547.82 507.59 876.47 584.3L885.66 586.71L876.35 584.79Q547.78 507.61 760.73 226.55Z"/>
<path fill="#B1DDF6" d="M864.95 661.68L864.72 662.16Q547.81 507.61 664.04 824.45L667.07 833.46L663.56 824.63Q547.79 507.59 864.95 661.68Z"/>
<path fill="#F5A65B" d="M239.06 677.91L238.81 677.45Q547.78 507.6 229.86 394.36L221 390.93L230.03 393.89Q547.82 507.6 239.06 677.91Z"/>
<path fill="#B1DDF6" d="M278.79 279.66L279.13 279.26Q547.8 507.57 728.27 222.4L733.57 214.51L728.69 222.67Q547.8 507.63 278.79 279.66Z"/>
<path fill="#3BB5E7" d="M742.72 801.42L742.29 801.71Q547.77 507.61 629.96 180.25L632.52 171.1L630.44 180.37Q547.83 507.59 742.72 801.42Z"/>
<path fill="#F0B1CD" d="M555.83 155.09L556.35 155.1Q547.8 507.6 630.44 180.37L633.02 171.23L630.92 180.5Q547.8 507.6 555.83 155.09Z"/>
<path fill="#B1DDF6" d="M279.13 279.26L279.46 278.86Q547.8 507.6 334.03 246.43L328.21 238.92L334.41 246.12Q547.8 507.6 279.13 279.26Z"/>
<path fill="#C6C7E5" d="M202.45 578.74L202.35 578.23Q547.81 507.57 719.08 798.41L723.69 806.72L718.66 798.66Q547.79 507.63 202.45 578.74Z"/>
<path fill="#57BE74" d="M761.15 226.87L761.56 227.18Q547.8 507.6 822.22 311.14L830.09 305.81L822.51 311.54Q547.8 507.6 761.15 226.87Z"/>
<path fill="#3BB5E7" d="M742.29 801.71L741.86 801.99Q547.78 507.63 230.03 393.89L221.17 390.45L230.2 393.43Q547.82 507.57 742.29 801.71Z"/>
<path fill="#F6CCA3" d="M295.79 754.21L295.43 753.85Q547.78 507.6 230.2 393.43L221.34 389.98L230.36 392.98Q547.82 507.6 295.79 754.21Z"/>
<path fill="#F5A65B" d="M820.55 284.15L820.87 284.53Q547.8 507.6 760.34 245.43L766.51 238.21L760.71 245.73Q547.8 507.6 820.55 284.15Z"/>
<path fill="#C6C7E5" d="M852.02 329.33L852.27 329.77Q547.81 507.63 218.3 434.57L209.08 432.27L218.4 434.1Q547.79 507.57 852.02 329.33Z"/>
<path fill="#C2E0B4" d="M698.59 188.87L699.04 189.08Q547.8 507.61 524.57 170.9L524.16 161.41L525.05 170.87Q547.8 507.59 698.59 188.87Z"/>
<path fill="#E6627B" d="M610.33 854.61L609.84 854.7Q547.77 507.59 822.51 311.54L830.38 306.22L822.78 311.92Q547.83 507.61 610.33 854.61Z"/>
<path fill="#B1DDF6" d="M279.46 278.86L279.78 278.49Q547.79 507.59 525.05 170.87L524.65 161.37L525.52 170.84Q547.81 507.61 279.46 278.86Z"/>
<path fill="#F0B1CD" d="M346.8 217.9L347.21 217.62Q547.83 507.6 350.74 781.6L345 789.17L350.36 781.32Q547.77 507.6 346.8 217.9Z"/>
<path fill="#FBE66C" d="M899.78 528.43L899.76 528.91Q547.82 507.62 597.87 841.37L599.04 850.8L597.41 841.43Q547.78 507.58 899.78 528.43Z"/>
<path fill="#B1DDF6" d="M279.78 278.49L280.09 278.12Q547.8 507.6 239.61 370.04L231.03 365.95L239.79 369.62Q547.8 507.6 279.78 278.49Z"/>
<path fill="#3BB5E7" d="M322.26 236.57L322.62 236.27Q547.83 507.58 793.68 738.8L800.44 745.47L793.36 739.13Q547.77 507.62 322.26 236.57Z"/>
<path fill="#B1DDF6" d="M864.72 662.16L864.51 662.58Q547.8 507.63 246.06 658.79L237.46 662.84L245.86 658.39Q547.8 507.57 864.72 662.16Z"/>
<path fill="#C2E0B4" d="M399.94 187.5L400.37 187.3Q547.8 507.59 525.52 170.84L525.12 161.34L525.97 170.81Q547.8 507.61 399.94 187.5Z"/>
<path fill="#FBE66C" d="M242.2 331.72L242.43 331.31Q547.82 507.57 793.36 739.13L800.12 745.81L793.06 739.45Q547.78 507.63 242.2 331.72Z"/>
<path fill="#F6CCA3" d="M295.43 753.85L295.11 753.51Q547.78 507.6 310.33 267.78L303.8 260.87L310.64 267.47Q547.82 507.6 295.43 753.85Z"/>
<path fill="#C2E0B4" d="M400.37 187.3L400.79 187.11Q547.8 507.59 630.92 180.5L633.49 171.35L631.36 180.61Q547.8 507.61 400.37 187.3Z"/>
<path fill="#F6CCA3" d="M792.07 253.32L792.4 253.64Q547.8 507.6 822.78 311.92L830.66 306.6L823.04 312.28Q547.8 507.6 792.07 253.32Z"/>
<path fill="#C6C7E5" d="M852.27 329.77L852.5 330.17Q547.79 507.61 728.69 222.67L733.98 214.77L729.07 222.91Q547.81 507.59 852.27 329.77Z"/>
<path fill="#FBE66C" d="M242.43 331.31L242.66 330.91Q547.82 507.58 718.66 798.66L723.27 806.96L718.28 798.88Q547.78 507.62 242.43 331.31Z"/>
<path fill="#C6C7E5" d="M852.5 330.17L852.73 330.56Q547.8 507.6 760.71 245.73L766.88 238.51L761.06 246.01Q547.8 507.6 852.5 330.17Z"/>
<path fill="#C2E0B4" d="M699.04 189.08L699.45 189.28Q547.8 507.61 495.86 174.12L494.63 164.7L496.3 174.05Q547.8 507.59 699.04 189.08Z"/>
<path fill="#57BE74" d="M441.64 171.36L442.08 171.22Q547.82 507.58 876.35 584.79L885.55 587.19L876.25 585.22Q547.78 507.62 441.64 171.36Z"/>
<path fill="#3BB5E7" d="M322.62 236.27L322.98 235.97Q547.8 507.6 259.29 332.48L251.29 327.36L259.52 332.1Q547.8 507.6 322.62 236.27Z"/>
<path fill="#E6627B" d="M613.44 161.16L613.89 161.25Q547.82 507.59 876.25 585.22L885.45 587.62L876.15 585.64Q547.78 507.61 613.44 161.16Z"/>
<path fill="#FBE66C" d="M242.66 330.91L242.89 330.52Q547.8 507.58 761.06 246.01L767.23 238.79L761.39 246.29Q547.8 507.62 242.66 330.91Z"/>
<path fill="#C6C7E5" d="M518.85 156.19L519.29 156.15Q547.83 507.59 793.06 739.45L799.81 746.14L792.76 739.77Q547.77 507.61 518.85 156.19Z"/>
<path fill="#E6627B" d="M613.89 161.25L614.32 161.33Q547.83 507.59 792.76 739.77L799.51 746.46L792.47 740.07Q547.77 507.61 613.89 161.25Z"/>
<path fill="#C2E0B4" d="M510.57 858.23L510.13 858.18Q547.77 507.59 783.71 266.24L790.5 259.6L784.01 266.54Q547.83 507.61 510.57 858.23Z"/>
<path fill="#C2E0B4" d="M400.79 187.11L401.19 186.93Q547.8 507.59 582.6 171.9L583.79 162.47L583.01 171.94Q547.8 507.61 400.79 187.11Z"/>
<path fill="#FBE66C" d="M899.76 528.91L899.73 529.35Q547.79 507.6 842.76 343.57L851.16 339.13L842.96 343.93Q547.81 507.6 899.76 528.91Z"/>
<path fill="#F6CCA3" d="M295.11 753.51L294.81 753.21Q547.78 507.58 761.39 246.29L767.56 239.06L761.71 246.54Q547.82 507.62 295.11 753.51Z"/>
<path fill="#57BE74" d="M761.56 227.18L761.9 227.44Q547.8 507.62 420.41 195.07L417.02 186.19L420.79 194.91Q547.8 507.58 761.56 227.18Z"/>
<path fill="#F0B1CD" d="M687.33 831.42L686.94 831.58Q547.77 507.6 729.07 222.91L734.34 215.01L729.41 223.13Q547.83 507.6 687.33 831.42Z"/>
<path fill="#F0B1CD" d="M686.94 831.58L686.56 831.75Q547.77 507.61 420.79 194.91L417.4 186.03L421.16 194.76Q547.83 507.59 686.94 831.58Z"/>
<path fill="#C6C7E5" d="M202.35 578.23L202.26 577.83Q547.79 507.6 259.52 332.1L251.51 326.99L259.72 331.76Q547.81 507.6 202.35 578.23Z"/>
<path fill="#C6C7E5" d="M852.73 330.56L852.94 330.92Q547.8 507.6 823.04 312.28L830.91 306.95L823.27 312.61Q547.8 507.6 852.73 330.56Z"/>
<path fill="#C6C7E5" d="M852.94 330.92L853.15 331.28Q547.82 507.62 350.36 781.32L344.64 788.91L350.04 781.09Q547.78 507.58 852.94 330.92Z"/>
<path fill="#7C84C6" d="M871.4 367.56L871.56 367.93Q547.82 507.62 350.04 781.09L344.31 788.67L349.73 780.87Q547.78 507.58 871.4 367.56Z"/>
<path fill="#F6CCA3" d="M792.4 253.64L792.69 253.92Q547.8 507.61 631.36 180.61L633.9 171.45L631.73 180.7Q547.8 507.59 792.4 253.64Z"/>
<path fill="#F5A65B" d="M238.81 677.45L238.61 677.1Q547.78 507.58 761.71 246.54L767.88 239.32L762 246.78Q547.82 507.62 238.81 677.45Z"/>
<path fill="#C2E0B4" d="M699.45 189.28L699.81 189.45Q547.81 507.59 842.96 343.93L851.36 339.49L843.14 344.26Q547.79 507.61 699.45 189.28Z"/>
<path fill="#57BE74" d="M377.98 816.61L377.64 816.42Q547.78 507.6 259.72 331.76L251.72 326.65L259.92 331.44Q547.82 507.6 377.98 816.61Z"/>
<path fill="#57BE74" d="M442.08 171.22L442.45 171.11Q547.83 507.6 349.73 780.87L344 788.44L349.43 780.65Q547.77 507.6 442.08 171.22Z"/>
<path fill="#FBE66C" d="M899.73 529.35L899.7 529.74Q547.79 507.63 230.36 392.98L221.49 389.57L230.49 392.62Q547.81 507.57 899.73 529.35Z"/>
<path fill="#F5A65B" d="M492.64 159.34L493.03 159.28Q547.8 507.6 583.01 171.94L584.19 162.51L583.38 171.98Q547.8 507.6 492.64 159.34Z"/>
<path fill="#57BE74" d="M377.64 816.42L377.3 816.23Q547.77 507.59 525.97 170.81L525.54 161.31L526.34 170.78Q547.83 507.61 377.64 816.42Z"/>
<path fill="#F6CCA3" d="M294.81 753.21L294.54 752.93Q547.78 507.59 496.3 174.05L495.04 164.64L496.66 174Q547.82 507.61 294.81 753.21Z"/>
<path fill="#7C84C6" d="M871.56 367.93L871.71 368.28Q547.8 507.6 784.01 266.54L790.79 259.88L784.26 266.79Q547.8 507.6 871.56 367.93Z"/>
<path fill="#3BB5E7" d="M322.98 235.97L323.27 235.73Q547.8 507.6 421.16 194.76L417.76 185.89L421.49 194.63Q547.8 507.6 322.98 235.97Z"/>
<path fill="#57BE74" d="M377.3 816.23L376.97 816.06Q547.78 507.61 230.49 392.62L221.62 389.22L230.61 392.29Q547.82 507.59 377.3 816.23Z"/>
<path fill="#7C84C6" d="M213.6 395.19L213.72 394.84Q547.79 507.59 583.38 171.98L584.56 162.55L583.73 172.02Q547.81 507.61 213.6 395.19Z"/>
<path fill="#F6CCA3" d="M294.54 752.93L294.29 752.67Q547.79 507.58 878.75 441.43L888.1 439.74L878.82 441.77Q547.81 507.62 294.54 752.93Z"/>
<path fill="#C2E0B4" d="M699.81 189.45L700.13 189.6Q547.81 507.62 230.61 392.29L221.74 388.88L230.73 391.97Q547.79 507.58 699.81 189.45Z"/>
<path fill="#7C84C6" d="M213.72 394.84L213.83 394.5Q547.79 507.58 631.73 180.7L634.26 171.54L632.06 180.79Q547.81 507.62 213.72 394.84Z"/>
<path fill="#F6CCA3" d="M294.29 752.67L294.05 752.42Q547.78 507.6 421.49 194.63L418.09 185.75L421.8 194.5Q547.82 507.6 294.29 752.67Z"/>
<path fill="#FBE66C" d="M242.89 330.52L243.07 330.22Q547.79 507.59 632.06 180.79L634.6 171.63L632.38 180.87Q547.81 507.61 242.89 330.52Z"/>
<path fill="#F8EEA7" d="M887.36 412.6L887.45 412.93Q547.81 507.61 718.28 798.88L722.93 807.16L718 799.04Q547.79 507.59 887.36 412.6Z"/>
<path fill="#F5A65B" d="M238.61 677.1L238.45 676.8Q547.78 507.6 334.41 246.12L328.54 238.65L334.67 245.91Q547.82 507.6 238.61 677.1Z"/>
<path fill="#F5A65B" d="M238.45 676.8L238.29 676.51Q547.79 507.58 823.27 312.61L831.12 307.25L823.46 312.87Q547.81 507.62 238.45 676.8Z"/>
<path fill="#C6C7E5" d="M519.29 156.15L519.63 156.13Q547.8 507.6 421.8 194.5L418.41 185.63L422.1 194.38Q547.8 507.6 519.29 156.15Z"/>
<path fill="#57BE74" d="M761.9 227.44L762.16 227.64Q547.81 507.6 878.82 441.77L888.17 440.08L878.88 442.08Q547.79 507.6 761.9 227.44Z"/>
<path fill="#57BE74" d="M442.45 171.11L442.76 171.01Q547.8 507.6 422.1 194.38L418.71 185.51L422.39 194.27Q547.8 507.6 442.45 171.11Z"/>
<path fill="#C2E0B4" d="M401.19 186.93L401.48 186.79Q547.82 507.6 466.37 835.13L463.92 844.31L466.07 835.05Q547.78 507.6 401.19 186.93Z"/>
<path fill="#C2E0B4" d="M401.48 186.79L401.77 186.66Q547.8 507.59 823.46 312.87L831.31 307.52L823.63 313.12Q547.8 507.61 401.48 186.79Z"/>
<path fill="#7C84C6" d="M213.83 394.5L213.93 394.21Q547.81 507.6 287.01 721.84L279.58 727.75L286.82 721.6Q547.79 507.6 213.83 394.5Z"/>
<path fill="#C6C7E5" d="M202.26 577.83L202.2 577.52Q547.81 507.58 663.56 824.63L666.68 833.6L663.28 824.73Q547.79 507.62 202.26 577.83Z"/>
<path fill="#F6CCA3" d="M792.69 253.92L792.91 254.13Q547.8 507.6 784.26 266.79L791.03 260.12L784.47 266.99Q547.8 507.6 792.69 253.92Z"/>
<path fill="#3BB5E7" d="M323.27 235.73L323.5 235.54Q547.8 507.6 334.67 245.91L328.78 238.45L334.89 245.73Q547.8 507.6 323.27 235.73Z"/>
<path fill="#57BE74" d="M442.76 171.01L443.06 170.92Q547.8 507.6 451.57 184.11L449.01 174.96L451.85 184.03Q547.8 507.6 442.76 171.01Z"/>
<path fill="#C8C8C8" d="M280.09 278.12L280.29 277.89Q547.81 507.58 876.15 585.64L885.36 587.99L876.08 585.93Q547.79 507.62 280.09 278.12Z"/>
<path fill="#C8C8C8" d="M443.06 170.92L443.35 170.83Q547.8 507.6 310.64 267.47L304.07 260.6L310.85 267.26Q547.8 507.6 443.06 170.92Z"/>
<path fill="#C8C8C8" d="M510.13 858.18L509.83 858.15Q547.79 507.61 230.73 391.97L221.85 388.58L230.82 391.7Q547.81 507.59 510.13 858.18Z"/>
<path fill="#C8C8C8" d="M213.93 394.21L214.03 393.92Q547.79 507.6 358.58 228.13L353.38 220.18L358.82 227.97Q547.81 507.6 213.93 394.21Z"/>
<path fill="#C8C8C8" d="M762.16 227.64L762.4 227.82Q547.8 507.6 632.38 180.87L634.91 171.71L632.66 180.94Q547.8 507.6 762.16 227.64Z"/>
<path fill="#C8C8C8" d="M243.07 330.22L243.22 329.96Q547.8 507.58 860.93 381.67L869.79 378.26L861.03 381.94Q547.8 507.62 243.07 330.22Z"/>
<path fill="#C8C8C8" d="M443.35 170.83L443.63 170.74Q547.8 507.59 632.66 180.94L635.19 171.78L632.93 181.01Q547.8 507.61 443.35 170.83Z"/>
<path fill="#C8C8C8" d="M401.77 186.66L402.04 186.54Q547.8 507.6 451.85 184.03L449.29 174.88L452.12 183.95Q547.8 507.6 401.77 186.66Z"/>
<path fill="#C8C8C8" d="M556.35 155.1L556.64 155.11Q547.81 507.59 876.08 585.93L885.29 588.27L876.02 586.2Q547.79 507.61 556.35 155.1Z"/>
<path fill="#C8C8C8" d="M864.51 662.58L864.39 662.84Q547.78 507.61 526.34 170.78L525.87 161.29L526.61 170.77Q547.82 507.59 864.51 662.58Z"/>
<path fill="#C8C8C8" d="M864.39 662.84L864.26 663.09Q547.79 507.6 762 246.78L768.14 239.53L762.21 246.96Q547.81 507.6 864.39 662.84Z"/>
<path fill="#C8C8C8" d="M280.29 277.89L280.48 277.68Q547.8 507.6 358.82 227.97L353.62 220.02L359.05 227.82Q547.8 507.6 280.29 277.89Z"/>
<path fill="#C8C8C8" d="M376.97 816.06L376.73 815.92Q547.78 507.6 359.05 227.82L353.85 219.87L359.27 227.67Q547.82 507.6 376.97 816.06Z"/>
<path fill="#C8C8C8" d="M347.21 217.62L347.44 217.46Q547.8 507.59 729.41 223.13L734.63 215.19L729.63 223.27Q547.8 507.61 347.21 217.62Z"/>
<path fill="#C8C8C8" d="M762.4 227.82L762.62 227.99Q547.8 507.6 784.47 266.99L791.23 260.32L784.66 267.18Q547.8 507.6 762.4 227.82Z"/>
<path fill="#C8C8C8" d="M402.04 186.54L402.29 186.43Q547.8 507.6 310.85 267.26L304.28 260.4L311.04 267.08Q547.8 507.6 402.04 186.54Z"/>
<path fill="#C8C8C8" d="M294.05 752.42L293.86 752.22Q547.79 507.58 843.14 344.26L851.52 339.78L843.27 344.49Q547.81 507.62 294.05 752.42Z"/>
<path fill="#C8C8C8" d="M238.29 676.51L238.16 676.27Q547.79 507.59 422.39 194.27L418.98 185.4L422.63 194.17Q547.81 507.61 238.29 676.51Z"/>
<path fill="#C8C8C8" d="M509.83 858.15L509.56 858.12Q547.79 507.59 843.27 344.49L851.65 340.01L843.39 344.72Q547.81 507.61 509.83 858.15Z"/>
<path fill="#C8C8C8" d="M509.56 858.12L509.3 858.09Q547.78 507.6 452.12 183.95L449.55 174.8L452.36 183.87Q547.82 507.6 509.56 858.12Z"/>
<path fill="#C8C8C8" d="M376.73 815.92L376.5 815.79Q547.79 507.59 843.39 344.72L851.78 340.24L843.51 344.94Q547.81 507.61 376.73 815.92Z"/>
<path fill="#C8C8C8" d="M609.84 854.7L609.59 854.74Q547.78 507.6 632.93 181.01L635.45 171.85L633.18 181.08Q547.82 507.6 609.84 854.7Z"/>
<path fill="#C8C8C8" d="M741.86 801.99L741.65 802.13Q547.79 507.61 259.92 331.44L251.88 326.38L260.05 331.23Q547.81 507.59 741.86 801.99Z"/>
<path fill="#C8C8C8" d="M519.63 156.13L519.89 156.11Q547.8 507.6 633.18 181.08L635.7 171.92L633.42 181.14Q547.8 507.6 519.63 156.13Z"/>
<path fill="#C8C8C8" d="M202.2 577.52L202.15 577.27Q547.79 507.6 239.79 369.62L231.18 365.62L239.89 369.4Q547.81 507.6 202.2 577.52Z"/>
<path fill="#C8C8C8" d="M238.16 676.27L238.03 676.04Q547.8 507.59 718 799.04L722.68 807.31L717.78 799.17Q547.8 507.61 238.16 676.27Z"/>
<path fill="#C8C8C8" d="M887.45 412.93L887.52 413.18Q547.8 507.6 843.51 344.94L851.9 340.47L843.63 345.15Q547.8 507.6 887.45 412.93Z"/>
<path fill="#C8C8C8" d="M614.32 161.33L614.57 161.38Q547.8 507.61 422.63 194.17L419.22 185.3L422.85 194.08Q547.8 507.59 614.32 161.33Z"/>
<path fill="#C8C8C8" d="M556.64 155.11L556.89 155.12Q547.82 507.59 792.47 740.07L799.27 746.7L792.3 740.24Q547.78 507.61 556.64 155.11Z"/>
<path fill="#C8C8C8" d="M700.13 189.6L700.36 189.71Q547.8 507.6 784.66 267.18L791.42 260.5L784.83 267.35Q547.8 507.6 700.13 189.6Z"/>
<path fill="#C8C8C8" d="M741.65 802.13L741.44 802.27Q547.79 507.61 239.89 369.4L231.28 365.39L239.99 369.18Q547.81 507.59 741.65 802.13Z"/>
<path fill="#C8C8C8" d="M202.15 577.27L202.1 577.03Q547.79 507.59 452.36 183.87L449.8 174.73L452.59 183.81Q547.81 507.61 202.15 577.27Z"/>
<path fill="#C8C8C8" d="M556.89 155.12L557.14 155.12Q547.8 507.59 823.63 313.12L831.47 307.74L823.77 313.31Q547.8 507.61 556.89 155.12Z"/>
<path fill="#C8C8C8" d="M402.29 186.43L402.51 186.33Q547.8 507.6 260.05 331.23L252.01 326.17L260.17 331.04Q547.8 507.6 402.29 186.43Z"/>
<path fill="#C8C8C8" d="M347.44 217.46L347.63 217.32Q547.8 507.6 422.85 194.08L419.45 185.21L423.07 194Q547.8 507.6 347.44 217.46Z"/>
<path fill="#C8C8C8" d="M609.59 854.74L609.35 854.79Q547.78 507.6 762.21 246.96L768.34 239.7L762.39 247.1Q547.82 507.6 609.59 854.74Z"/>
<path fill="#C8C8C8" d="M899.7 529.74L899.69 529.97Q547.79 507.61 311.04 267.08L304.46 260.23L311.2 266.92Q547.81 507.59 899.7 529.74Z"/>
<path fill="#C8C8C8" d="M557.14 155.12L557.37 155.13Q547.81 507.59 878.88 442.08L888.22 440.36L878.92 442.31Q547.79 507.61 557.14 155.12Z"/>
<path fill="#C8C8C8" d="M820.87 284.53L821.02 284.72Q547.8 507.6 784.83 267.35L791.59 260.67L784.99 267.51Q547.8 507.6 820.87 284.53Z"/>
<path fill="#C8C8C8" d="M741.44 802.27L741.24 802.4Q547.79 507.6 762.39 247.1L768.52 239.84L762.56 247.25Q547.81 507.6 741.44 802.27Z"/>
<path fill="#C8C8C8" d="M899.69 529.97L899.67 530.21Q547.79 507.6 784.99 267.51L791.75 260.83L785.16 267.66Q547.81 507.6 899.69 529.97Z"/>
<path fill="#C8C8C8" d="M899.67 530.21L899.66 530.44Q547.79 507.61 423.07 194L419.66 185.12L423.28 193.91Q547.81 507.59 899.67 530.21Z"/>
<path fill="#C8C8C8" d="M509.3 858.09L509.06 858.07Q547.78 507.6 359.27 227.67L354.06 219.72L359.45 227.54Q547.82 507.6 509.3 858.09Z"/>
<path fill="#C8C8C8" d="M864.26 663.09L864.16 663.3Q547.79 507.61 423.28 193.91L419.88 185.04L423.48 193.83Q547.81 507.59 864.26 663.09Z"/>
<path fill="#C8C8C8" d="M243.22 329.96L243.33 329.76Q547.8 507.6 239.99 369.18L231.37 365.18L240.08 368.97Q547.8 507.6 243.22 329.96Z"/>
<path fill="#C8C8C8" d="M280.48 277.68L280.63 277.5Q547.81 507.6 349.43 780.65L343.75 788.26L349.25 780.52Q547.79 507.6 280.48 277.68Z"/>
<path fill="#C8C8C8" d="M792.91 254.13L793.08 254.29Q547.81 507.6 876.02 586.2L885.23 588.52L875.97 586.41Q547.79 507.6 792.91 254.13Z"/>
<path fill="#C8C8C8" d="M293.86 752.22L293.7 752.06Q547.79 507.6 260.17 331.04L252.13 325.97L260.28 330.85Q547.81 507.6 293.86 752.22Z"/>
<path fill="#C8C8C8" d="M238.03 676.04L237.93 675.84Q547.79 507.6 240.08 368.97L231.47 364.97L240.17 368.78Q547.81 507.6 238.03 676.04Z"/>
<path fill="#C8C8C8" d="M614.57 161.38L614.79 161.42Q547.81 507.59 861.03 381.94L869.89 378.5L861.11 382.13Q547.79 507.61 614.57 161.38Z"/>
<path fill="#C8C8C8" d="M243.33 329.76L243.44 329.57Q547.8 507.6 423.48 193.83L420.09 184.96L423.68 193.75Q547.8 507.6 243.33 329.76Z"/>
<path fill="#C8C8C8" d="M323.5 235.54L323.67 235.4Q547.81 507.6 349.25 780.52L343.57 788.13L349.08 780.39Q547.79 507.6 323.5 235.54Z"/>
<path fill="#C8C8C8" d="M871.71 368.28L871.79 368.48Q547.8 507.61 633.42 181.14L635.93 171.98L633.62 181.19Q547.8 507.59 871.71 368.28Z"/>
<path fill="#C8C8C8" d="M243.44 329.57L243.55 329.39Q547.81 507.59 466.07 835.05L463.66 844.25L465.87 835Q547.79 507.61 243.44 329.57Z"/>
<path fill="#C8C8C8" d="M853.15 331.28L853.25 331.46Q547.81 507.6 792.3 740.24L799.11 746.87L792.16 740.39Q547.79 507.6 853.15 331.28Z"/>
<path fill="#C8C8C8" d="M202.1 577.03L202.06 576.82Q547.81 507.59 597.41 841.43L598.7 850.85L597.2 841.46Q547.79 507.61 202.1 577.03Z"/>
<path fill="#C8C8C8" d="M864.16 663.3L864.07 663.49Q547.8 507.61 286.82 721.6L279.41 727.55L286.7 721.45Q547.8 507.59 864.16 663.3Z"/>
<path fill="#C8C8C8" d="M762.62 227.99L762.78 228.12Q547.81 507.6 792.16 740.39L798.97 747.02L792.02 740.54Q547.79 507.6 762.62 227.99Z"/>
<path fill="#C8C8C8" d="M614.79 161.42L614.99 161.46Q547.81 507.61 349.08 780.39L343.4 788.01L348.91 780.27Q547.79 507.59 614.79 161.42Z"/>
<path fill="#C8C8C8" d="M202.06 576.82L202.02 576.61Q547.79 507.59 496.66 174L495.32 164.59L496.86 173.97Q547.81 507.61 202.06 576.82Z"/>
<path fill="#C8C8C8" d="M293.7 752.06L293.56 751.91Q547.79 507.59 823.77 313.31L831.59 307.92L823.88 313.47Q547.81 507.61 293.7 752.06Z"/>
<path fill="#C8C8C8" d="M887.52 413.18L887.58 413.37Q547.8 507.6 762.56 247.25L768.68 239.98L762.71 247.37Q547.8 507.6 887.52 413.18Z"/>
<path fill="#C8C8C8" d="M762.78 228.12L762.94 228.24Q547.8 507.6 583.73 172.02L584.84 162.58L583.92 172.04Q547.8 507.6 762.78 228.12Z"/>
<path fill="#C8C8C8" d="M443.63 170.74L443.82 170.68Q547.8 507.6 334.89 245.73L328.98 238.29L335.04 245.61Q547.8 507.6 443.63 170.74Z"/>
<path fill="#C8C8C8" d="M793.08 254.29L793.22 254.43Q547.8 507.61 218.4 434.1L209.15 431.94L218.44 433.91Q547.8 507.59 793.08 254.29Z"/>
<path fill="#C8C8C8" d="M741.24 802.4L741.08 802.51Q547.79 507.6 785.16 267.66L791.91 260.98L785.29 267.8Q547.81 507.6 741.24 802.4Z"/>
<path fill="#C8C8C8" d="M402.51 186.33L402.69 186.25Q547.81 507.59 878.92 442.31L888.26 440.57L878.96 442.49Q547.79 507.61 402.51 186.33Z"/>
<path fill="#C8C8C8" d="M741.08 802.51L740.91 802.62Q547.79 507.61 496.86 173.97L495.52 164.56L497.05 173.94Q547.81 507.59 741.08 802.51Z"/>
<path fill="#C8C8C8" d="M557.37 155.13L557.57 155.14Q547.81 507.61 286.7 721.45L279.29 727.39L286.58 721.3Q547.79 507.59 557.37 155.13Z"/>
<path fill="#C8C8C8" d="M243.55 329.39L243.65 329.22Q547.81 507.59 663.28 824.73L666.44 833.69L663.11 824.79Q547.79 507.61 243.55 329.39Z"/>
<path fill="#C8C8C8" d="M347.63 217.32L347.79 217.21Q547.8 507.59 762.71 247.37L768.83 240.11L762.85 247.49Q547.8 507.61 347.63 217.32Z"/>
<path fill="#C8C8C8" d="M762.94 228.24L763.09 228.36Q547.81 507.61 465.87 835L463.47 844.2L465.69 834.96Q547.79 507.59 762.94 228.24Z"/>
<path fill="#C8C8C8" d="M243.65 329.22L243.75 329.06Q547.8 507.6 452.59 183.81L450 174.67L452.77 183.76Q547.8 507.6 243.65 329.22Z"/>
<path fill="#C8C8C8" d="M519.89 156.11L520.07 156.09Q547.8 507.6 729.63 223.27L734.83 215.32L729.78 223.37Q547.8 507.6 519.89 156.11Z"/>
<path fill="#C8C8C8" d="M402.69 186.25L402.86 186.17Q547.81 507.59 663.11 824.79L666.27 833.75L662.94 824.85Q547.79 507.61 402.69 186.25Z"/>
<path fill="#C8C8C8" d="M887.58 413.37L887.63 413.55Q547.8 507.61 583.92 172.04L585.03 162.6L584.1 172.06Q547.8 507.59 887.58 413.37Z"/>
<path fill="#C8C8C8" d="M520.07 156.09L520.26 156.08Q547.8 507.59 823.88 313.47L831.7 308.08L823.98 313.62Q547.8 507.61 520.07 156.09Z"/>
<path fill="#C8C8C8" d="M864.07 663.49L863.98 663.66Q547.79 507.6 633.62 181.19L636.12 172.03L633.79 181.24Q547.81 507.6 864.07 663.49Z"/>
<path fill="#C8C8C8" d="M700.36 189.71L700.52 189.79Q547.8 507.6 861.11 382.13L869.96 378.68L861.18 382.3Q547.8 507.6 700.36 189.71Z"/>
<path fill="#C8C8C8" d="M237.93 675.84L237.84 675.68Q547.8 507.59 878.96 442.49L888.3 440.75L878.99 442.67Q547.8 507.61 237.93 675.84Z"/>
<path fill="#C8C8C8" d="M237.84 675.68L237.76 675.53Q547.79 507.59 861.18 382.3L870.03 378.85L861.24 382.46Q547.81 507.61 237.84 675.68Z"/>
<path fill="#C8C8C8" d="M443.82 170.68L443.99 170.63Q547.8 507.59 823.98 313.62L831.81 308.23L824.08 313.76Q547.8 507.61 443.82 170.68Z"/>
<path fill="#C8C8C8" d="M700.52 189.79L700.69 189.87Q547.8 507.61 359.45 227.54L354.23 219.61L359.6 227.45Q547.8 507.59 700.52 189.79Z"/>
<path fill="#C8C8C8" d="M280.63 277.5L280.74 277.36Q547.8 507.6 260.28 330.85L252.24 325.8L260.37 330.71Q547.8 507.6 280.63 277.5Z"/>
<path fill="#C8C8C8" d="M887.63 413.55L887.67 413.72Q547.8 507.61 423.68 193.75L420.27 184.89L423.84 193.69Q547.8 507.59 887.63 413.55Z"/>
<path fill="#C8C8C8" d="M402.86 186.17L403.02 186.1Q547.8 507.59 762.85 247.49L768.97 240.22L762.98 247.6Q547.8 507.61 402.86 186.17Z"/>
<path fill="#C8C8C8" d="M520.26 156.08L520.44 156.06Q547.8 507.6 584.1 172.06L585.21 162.62L584.27 172.08Q547.8 507.6 520.26 156.08Z"/>
<path fill="#C8C8C8" d="M323.67 235.4L323.81 235.29Q547.8 507.6 230.82 391.7L221.93 388.36L230.88 391.54Q547.8 507.6 323.67 235.4Z"/>
<path fill="#C8C8C8" d="M237.76 675.53L237.67 675.37Q547.8 507.59 597.2 841.46L598.51 850.87L597.04 841.49Q547.8 507.61 237.76 675.53Z"/>
<path fill="#C8C8C8" d="M899.66 530.44L899.65 530.62Q547.8 507.61 260.37 330.71L252.33 325.65L260.46 330.56Q547.8 507.59 899.66 530.44Z"/>
<path fill="#C8C8C8" d="M443.99 170.63L444.16 170.58Q547.81 507.59 878.99 442.67L888.33 440.92L879.03 442.83Q547.79 507.61 443.99 170.63Z"/>
<path fill="#C8C8C8" d="M376.5 815.79L376.35 815.71Q547.79 507.59 861.24 382.46L870.1 379.01L861.3 382.61Q547.81 507.61 376.5 815.79Z"/>
<path fill="#C8C8C8" d="M557.57 155.14L557.74 155.14Q547.8 507.6 335.04 245.61L329.12 238.18L335.17 245.5Q547.8 507.6 557.57 155.14Z"/>
<path fill="#C8C8C8" d="M293.56 751.91L293.44 751.79Q547.79 507.59 861.3 382.61L870.16 379.17L861.36 382.76Q547.81 507.61 293.56 751.91Z"/>
<path fill="#C8C8C8" d="M609.35 854.79L609.18 854.82Q547.79 507.6 584.27 172.08L585.38 162.64L584.43 172.09Q547.81 507.6 609.35 854.79Z"/>
<path fill="#C8C8C8" d="M243.75 329.06L243.83 328.91Q547.8 507.6 230.88 391.54L221.99 388.2L230.94 391.39Q547.8 507.6 243.75 329.06Z"/>
<path fill="#C8C8C8" d="M686.56 831.75L686.41 831.81Q547.8 507.61 245.86 658.39L237.32 662.56L245.79 658.24Q547.8 507.59 686.56 831.75Z"/>
<path fill="#C8C8C8" d="M243.83 328.91L243.92 328.77Q547.8 507.6 335.17 245.5L329.25 238.07L335.29 245.4Q547.8 507.6 243.83 328.91Z"/>
<path fill="#C8C8C8" d="M376.35 815.71L376.2 815.63Q547.79 507.59 785.29 267.8L792.03 261.11L785.4 267.91Q547.81 507.61 376.35 815.71Z"/>
<path fill="#C8C8C8" d="M403.02 186.1L403.17 186.03Q547.81 507.59 875.97 586.41L885.19 588.71L875.93 586.56Q547.79 507.61 403.02 186.1Z"/>
<path fill="#C8C8C8" d="M202.02 576.61L201.99 576.45Q547.79 507.59 584.43 172.09L585.54 162.66L584.58 172.11Q547.81 507.61 202.02 576.61Z"/>
<path fill="#C8C8C8" d="M871.79 368.48L871.86 368.63Q547.8 507.6 762.98 247.6L769.1 240.33L763.1 247.69Q547.8 507.6 871.79 368.48Z"/>
<path fill="#C8C8C8" d="M614.99 161.46L615.15 161.49Q547.8 507.6 843.63 345.15L852 340.65L843.7 345.28Q547.8 507.6 614.99 161.46Z"/>
<path fill="#C8C8C8" d="M280.74 277.36L280.85 277.24Q547.8 507.59 843.7 345.28L852.07 340.78L843.78 345.42Q547.8 507.61 280.74 277.36Z"/>
<path fill="#C8C8C8" d="M686.41 831.81L686.26 831.88Q547.79 507.6 584.58 172.11L585.69 162.68L584.73 172.13Q547.81 507.6 686.41 831.81Z"/>
<path fill="#C8C8C8" d="M793.22 254.43L793.33 254.54Q547.8 507.6 763.1 247.69L769.22 240.43L763.22 247.79Q547.8 507.6 793.22 254.43Z"/>
<path fill="#C8C8C8" d="M280.85 277.24L280.95 277.13Q547.81 507.6 245.79 658.24L237.25 662.42L245.72 658.11Q547.79 507.6 280.85 277.24Z"/>
<path fill="#C8C8C8" d="M214.03 393.92L214.08 393.78Q547.8 507.59 879.03 442.83L888.36 441.08L879.05 442.97Q547.8 507.61 214.03 393.92Z"/>
<path fill="#C8C8C8" d="M609.18 854.82L609.03 854.84Q547.79 507.6 861.36 382.76L870.22 379.32L861.42 382.9Q547.81 507.6 609.18 854.82Z"/>
<path fill="#C8C8C8" d="M403.17 186.03L403.31 185.97Q547.81 507.6 348.91 780.27L343.26 787.9L348.8 780.19Q547.79 507.6 403.17 186.03Z"/>
<path fill="#C8C8C8" d="M740.91 802.62L740.78 802.7Q547.79 507.6 452.77 183.76L450.16 174.62L452.91 183.72Q547.81 507.6 740.91 802.62Z"/>
<path fill="#C8C8C8" d="M557.74 155.14L557.89 155.14Q547.8 507.6 763.22 247.79L769.34 240.53L763.33 247.88Q547.8 507.6 557.74 155.14Z"/>
<path fill="#C8C8C8" d="M821.02 284.72L821.12 284.84Q547.8 507.6 843.78 345.42L852.15 340.92L843.85 345.55Q547.8 507.6 821.02 284.72Z"/>
<path fill="#C8C8C8" d="M403.31 185.97L403.44 185.9Q547.81 507.59 717.78 799.17L722.5 807.41L717.66 799.24Q547.79 507.61 403.31 185.97Z"/>
<path fill="#C8C8C8" d="M201.99 576.45L201.96 576.31Q547.8 507.59 861.42 382.9L870.27 379.46L861.47 383.03Q547.8 507.61 201.99 576.45Z"/>
<path fill="#C8C8C8" d="M853.25 331.46L853.33 331.59Q547.81 507.6 662.94 824.85L666.11 833.81L662.81 824.9Q547.79 507.6 853.25 331.46Z"/>
<path fill="#C8C8C8" d="M863.98 663.66L863.92 663.79Q547.8 507.6 861.47 383.03L870.33 379.59L861.52 383.16Q547.8 507.6 863.98 663.66Z"/>
<path fill="#C8C8C8" d="M347.79 217.21L347.92 217.13Q547.8 507.6 260.46 330.56L252.41 325.52L260.54 330.44Q547.8 507.6 347.79 217.21Z"/>
<path fill="#C8C8C8" d="M237.67 675.37L237.6 675.24Q547.79 507.59 785.4 267.91L792.14 261.21L785.5 268.01Q547.81 507.61 237.67 675.37Z"/>
<path fill="#C8C8C8" d="M280.95 277.13L281.05 277.01Q547.81 507.59 662.81 824.9L665.98 833.86L662.67 824.95Q547.79 507.61 280.95 277.13Z"/>
<path fill="#C8C8C8" d="M201.96 576.31L201.93 576.16Q547.8 507.59 824.08 313.76L831.9 308.36L824.16 313.87Q547.8 507.61 201.96 576.31Z"/>
<path fill="#C8C8C8" d="M686.26 831.88L686.13 831.93Q547.79 507.6 861.52 383.16L870.38 379.73L861.57 383.29Q547.81 507.6 686.26 831.88Z"/>
<path fill="#C8C8C8" d="M793.33 254.54L793.43 254.64Q547.81 507.6 792.02 740.54L798.85 747.15L791.93 740.64Q547.79 507.6 793.33 254.54Z"/>
<path fill="#C8C8C8" d="M237.6 675.24L237.53 675.12Q547.79 507.6 497.05 173.94L495.68 164.54L497.18 173.92Q547.81 507.6 237.6 675.24Z"/>
<path fill="#C8C8C8" d="M887.67 413.72L887.71 413.86Q547.8 507.6 633.79 181.24L636.28 172.07L633.92 181.27Q547.8 507.6 887.67 413.72Z"/>
<path fill="#C8C8C8" d="M293.44 751.79L293.34 751.69Q547.79 507.6 335.29 245.4L329.37 237.98L335.4 245.32Q547.81 507.6 293.44 751.79Z"/>
<path fill="#C8C8C8" d="M376.2 815.63L376.08 815.56Q547.79 507.6 335.4 245.32L329.47 237.89L335.5 245.24Q547.81 507.6 376.2 815.63Z"/>
<path fill="#C8C8C8" d="M243.92 328.77L243.99 328.65Q547.8 507.6 245.72 658.11L237.19 662.29L245.66 657.99Q547.8 507.6 243.92 328.77Z"/>
<path fill="#C8C8C8" d="M871.86 368.63L871.91 368.75Q547.81 507.6 662.67 824.95L665.85 833.9L662.55 824.99Q547.79 507.6 871.86 368.63Z"/>
<path fill="#C8C8C8" d="M615.15 161.49L615.28 161.52Q547.8 507.6 311.2 266.92L304.59 260.1L311.29 266.83Q547.8 507.6 615.15 161.49Z"/>
<path fill="#C8C8C8" d="M323.81 235.29L323.91 235.2Q547.8 507.6 452.91 183.72L450.3 174.58L453.03 183.68Q547.8 507.6 323.81 235.29Z"/>
<path fill="#C8C8C8" d="M557.89 155.14L558.02 155.15Q547.8 507.6 423.84 193.69L420.41 184.83L423.96 193.64Q547.8 507.6 557.89 155.14Z"/>
<path fill="#C8C8C8" d="M520.44 156.06L520.57 156.05Q547.81 507.6 465.69 834.96L463.32 844.16L465.57 834.93Q547.79 507.6 520.44 156.06Z"/>
<path fill="#C8C8C8" d="M243.99 328.65L244.05 328.54Q547.8 507.59 875.93 586.56L885.15 588.85L875.9 586.68Q547.8 507.61 243.99 328.65Z"/>
<path fill="#C8C8C8" d="M871.91 368.75L871.96 368.87Q547.8 507.61 286.58 721.3L279.18 727.27L286.5 721.21Q547.8 507.59 871.91 368.75Z"/>
<path fill="#C8C8C8" d="M615.28 161.52L615.41 161.54Q547.8 507.61 230.94 391.39L222.04 388.06L230.98 391.27Q547.8 507.59 615.28 161.52Z"/>
<path fill="#C8C8C8" d="M403.44 185.9L403.56 185.85Q547.8 507.6 359.6 227.45L354.35 219.52L359.7 227.38Q547.8 507.6 403.44 185.9Z"/>
<path fill="#C8C8C8" d="M444.16 170.58L444.28 170.54Q547.81 507.6 662.55 824.99L665.72 833.95L662.44 825.03Q547.79 507.6 444.16 170.58Z"/>
<path fill="#C8C8C8" d="M281.05 277.01L281.13 276.92Q547.8 507.6 379.3 215.17L374.61 206.91L379.41 215.11Q547.8 507.6 281.05 277.01Z"/>
<path fill="#C8C8C8" d="M293.34 751.69L293.26 751.6Q547.79 507.6 453.03 183.68L450.42 174.54L453.14 183.65Q547.81 507.6 293.34 751.69Z"/>
<path fill="#C8C8C8" d="M871.96 368.87L872.01 368.98Q547.81 507.61 465.57 834.93L463.2 844.13L465.46 834.9Q547.79 507.59 871.96 368.87Z"/>
<path fill="#C8C8C8" d="M700.69 189.87L700.8 189.92Q547.8 507.61 260.54 330.44L252.48 325.4L260.6 330.34Q547.8 507.59 700.69 189.87Z"/>
<path fill="#C8C8C8" d="M853.33 331.59L853.39 331.7Q547.8 507.6 785.5 268.01L792.24 261.31L785.59 268.09Q547.8 507.6 853.33 331.59Z"/>
<path fill="#C8C8C8" d="M700.8 189.92L700.91 189.98Q547.8 507.6 474 178.27L471.98 168.99L474.11 178.24Q547.8 507.6 700.8 189.92Z"/>
<path fill="#C8C8C8" d="M887.71 413.86L887.74 413.97Q547.8 507.6 785.59 268.09L792.32 261.39L785.67 268.17Q547.8 507.6 887.71 413.86Z"/>
<path fill="#C8C8C8" d="M214.08 393.78L214.12 393.66Q547.81 507.6 465.46 834.9L463.08 844.1L465.34 834.87Q547.79 507.6 214.08 393.78Z"/>
<path fill="#C8C8C8" d="M281.13 276.92L281.21 276.83Q547.8 507.59 879.05 442.97L888.39 441.21L879.08 443.08Q547.8 507.61 281.13 276.92Z"/>
<path fill="#C8C8C8" d="M444.28 170.54L444.39 170.5Q547.81 507.6 465.34 834.87L462.97 844.07L465.24 834.85Q547.79 507.6 444.28 170.54Z"/>
<path fill="#C8C8C8" d="M470.1 163.67L470.21 163.64Q547.8 507.6 633.92 181.27L636.4 172.1L634.02 181.3Q547.8 507.6 470.1 163.67Z"/>
<path fill="#C8C8C8" d="M615.41 161.54L615.52 161.56Q547.8 507.6 824.16 313.87L831.97 308.47L824.22 313.96Q547.8 507.6 615.41 161.54Z"/>
<path fill="#C8C8C8" d="M293.26 751.6L293.18 751.52Q547.79 507.6 379.41 215.11L374.71 206.85L379.5 215.06Q547.81 507.6 293.26 751.6Z"/>
<path fill="#C8C8C8" d="M853.39 331.7L853.44 331.79Q547.81 507.6 717.66 799.24L722.39 807.48L717.56 799.3Q547.79 507.6 853.39 331.7Z"/>
<path fill="#C8C8C8" d="M872.01 368.98L872.05 369.08Q547.8 507.6 584.73 172.13L585.83 162.69L584.84 172.14Q547.8 507.6 872.01 368.98Z"/>
<path fill="#C8C8C8" d="M863.92 663.79L863.87 663.89Q547.8 507.61 260.6 330.34L252.54 325.31L260.65 330.25Q547.8 507.59 863.92 663.79Z"/>
<path fill="#C8C8C8" d="M201.93 576.16L201.91 576.05Q547.8 507.6 335.5 245.24L329.57 237.82L335.58 245.17Q547.8 507.6 201.93 576.16Z"/>
<path fill="#C8C8C8" d="M821.12 284.84L821.19 284.92Q547.81 507.61 286.5 721.21L279.11 727.18L286.43 721.13Q547.79 507.59 821.12 284.84Z"/>
<path fill="#C8C8C8" d="M872.05 369.08L872.1 369.19Q547.8 507.6 843.85 345.55L852.21 341.03L843.9 345.64Q547.8 507.6 872.05 369.08Z"/>
<path fill="#C8C8C8" d="M403.56 185.85L403.66 185.81Q547.8 507.6 240.17 368.78L231.53 364.82L240.21 368.68Q547.8 507.6 403.56 185.85Z"/>
<path fill="#C8C8C8" d="M347.92 217.13L348.01 217.07Q547.8 507.6 634.02 181.3L636.5 172.13L634.12 181.33Q547.8 507.6 347.92 217.13Z"/>
<path fill="#C8C8C8" d="M686.13 831.93L686.03 831.98Q547.79 507.6 453.14 183.65L450.53 174.51L453.24 183.62Q547.81 507.6 686.13 831.93Z"/>
<path fill="#C8C8C8" d="M558.02 155.15L558.13 155.15Q547.81 507.6 465.24 834.85L462.86 844.04L465.14 834.82Q547.79 507.6 558.02 155.15Z"/>
<path fill="#C8C8C8" d="M509.06 858.07L508.96 858.05Q547.79 507.6 240.21 368.68L231.58 364.73L240.26 368.59Q547.81 507.6 509.06 858.07Z"/>
<path fill="#C8C8C8" d="M686.03 831.98L685.93 832.02Q547.8 507.61 230.98 391.27L222.08 387.95L231.02 391.18Q547.8 507.59 686.03 831.98Z"/>
<path fill="#C8C8C8" d="M214.12 393.66L214.15 393.56Q547.8 507.59 824.22 313.96L832.03 308.55L824.28 314.04Q547.8 507.61 214.12 393.66Z"/>
<path fill="#C8C8C8" d="M323.91 235.2L323.99 235.13Q547.8 507.59 824.28 314.04L832.09 308.64L824.34 314.13Q547.8 507.61 323.91 235.2Z"/>
<path fill="#C8C8C8" d="M899.65 530.62L899.64 530.73Q547.8 507.61 453.24 183.62L450.63 174.48L453.34 183.59Q547.8 507.59 899.65 530.62Z"/>
<path fill="#C8C8C8" d="M609.03 854.84L608.93 854.86Q547.8 507.6 245.66 657.99L237.13 662.18L245.62 657.9Q547.8 507.6 609.03 854.84Z"/>
<path fill="#C8C8C8" d="M608.93 854.86L608.83 854.88Q547.8 507.6 286.43 721.13L279.04 727.1L286.37 721.05Q547.8 507.6 608.93 854.86Z"/>
<path fill="#C8C8C8" d="M899.64 530.73L899.63 530.83Q547.8 507.6 763.33 247.88L769.44 240.61L763.41 247.95Q547.8 507.6 899.64 530.73Z"/>
<path fill="#C8C8C8" d="M887.74 413.97L887.77 414.07Q547.8 507.6 453.34 183.59L450.73 174.45L453.44 183.56Q547.8 507.6 887.74 413.97Z"/>
<path fill="#C8C8C8" d="M887.77 414.07L887.8 414.17Q547.8 507.6 465.14 834.82L462.76 844.02L465.04 834.8Q547.8 507.6 887.77 414.07Z"/>
<path fill="#C8C8C8" d="M403.66 185.81L403.75 185.77Q547.8 507.6 497.18 173.92L495.8 164.52L497.27 173.9Q547.8 507.6 403.66 185.81Z"/>
<path fill="#C8C8C8" d="M863.87 663.89L863.82 663.98Q547.8 507.61 311.29 266.83L304.67 260.02L311.36 266.76Q547.8 507.59 863.87 663.89Z"/>
<path fill="#C8C8C8" d="M520.57 156.05L520.67 156.05Q547.81 507.6 348.8 780.19L343.15 787.83L348.72 780.13Q547.79 507.6 520.57 156.05Z"/>
<path fill="#C8C8C8" d="M685.93 832.02L685.84 832.06Q547.8 507.6 597.04 841.49L598.37 850.89L596.94 841.5Q547.8 507.6 685.93 832.02Z"/>
<path fill="#C8C8C8" d="M376.08 815.56L376 815.51Q547.8 507.6 240.26 368.59L231.62 364.63L240.3 368.5Q547.8 507.6 376.08 815.56Z"/>
<path fill="#C8C8C8" d="M887.8 414.17L887.82 414.26Q547.8 507.61 311.36 266.76L304.74 259.95L311.43 266.7Q547.8 507.59 887.8 414.17Z"/>
<path fill="#C8C8C8" d="M853.44 331.79L853.49 331.88Q547.8 507.6 423.96 193.64L420.51 184.79L424.04 193.61Q547.8 507.6 853.44 331.79Z"/>
<path fill="#C8C8C8" d="M899.63 530.83L899.63 530.92Q547.8 507.61 359.7 227.38L354.44 219.46L359.78 227.33Q547.8 507.59 899.63 530.83Z"/>
<path fill="#C8C8C8" d="M740.78 802.7L740.7 802.75Q547.79 507.6 359.78 227.33L354.52 219.41L359.85 227.28Q547.81 507.6 740.78 802.7Z"/>
<path fill="#C8C8C8" d="M348.01 217.07L348.08 217.01Q547.81 507.6 791.93 740.64L798.77 747.23L791.87 740.7Q547.79 507.6 348.01 217.07Z"/>
<path fill="#C8C8C8" d="M237.53 675.12L237.49 675.03Q547.8 507.6 359.85 227.28L354.6 219.36L359.93 227.23Q547.8 507.6 237.53 675.12Z"/>
<path fill="#C8C8C8" d="M793.43 254.64L793.5 254.7Q547.81 507.6 348.72 780.13L343.08 787.77L348.65 780.08Q547.79 507.6 793.43 254.64Z"/>
<path fill="#C8C8C8" d="M201.91 576.05L201.89 575.96Q547.8 507.59 763.41 247.95L769.51 240.67L763.48 248Q547.8 507.61 201.91 576.05Z"/>
<path fill="#C8C8C8" d="M615.52 161.56L615.61 161.58Q547.8 507.6 879.08 443.08L888.41 441.31L879.09 443.17Q547.8 507.6 615.52 161.56Z"/>
<path fill="#C8C8C8" d="M493.03 159.28L493.12 159.27Q547.8 507.6 311.43 266.7L304.81 259.88L311.49 266.63Q547.8 507.6 493.03 159.28Z"/>
<path fill="#C8C8C8" d="M444.39 170.5L444.48 170.48Q547.8 507.6 359.93 227.23L354.68 219.31L360 227.18Q547.8 507.6 444.39 170.5Z"/>
<path fill="#C8C8C8" d="M700.91 189.98L700.99 190.02Q547.8 507.6 240.3 368.5L231.66 364.55L240.33 368.42Q547.8 507.6 700.91 189.98Z"/>
<path fill="#C8C8C8" d="M700.99 190.02L701.07 190.06Q547.8 507.6 379.5 215.06L374.8 206.8L379.57 215.01Q547.8 507.6 700.99 190.02Z"/>
<path fill="#C8C8C8" d="M493.12 159.27L493.21 159.25Q547.8 507.6 218.44 433.91L209.18 431.8L218.46 433.83Q547.8 507.6 493.12 159.27Z"/>
<path fill="#C8C8C8" d="M403.75 185.77L403.84 185.73Q547.8 507.6 231.02 391.18L222.11 387.86L231.05 391.1Q547.8 507.6 403.75 185.77Z"/>
<path fill="#C8C8C8" d="M701.07 190.06L701.15 190.09Q547.8 507.6 335.58 245.17L329.64 237.75L335.65 245.12Q547.8 507.6 701.07 190.06Z"/>
<path fill="#C8C8C8" d="M608.83 854.88L608.74 854.89Q547.79 507.6 311.49 266.63L304.87 259.82L311.55 266.58Q547.81 507.6 608.83 854.88Z"/>
<path fill="#C8C8C8" d="M214.15 393.56L214.18 393.48Q547.8 507.6 717.56 799.3L722.31 807.53L717.49 799.34Q547.8 507.6 214.15 393.56Z"/>
<path fill="#C8C8C8" d="M558.13 155.15L558.22 155.15Q547.8 507.6 311.55 266.58L304.93 259.76L311.61 266.52Q547.8 507.6 558.13 155.15Z"/>
<path fill="#C8C8C8" d="M323.99 235.13L324.06 235.08Q547.8 507.6 360 227.18L354.75 219.26L360.07 227.13Q547.8 507.6 323.99 235.13Z"/>
<path fill="#C8C8C8" d="M214.18 393.48L214.21 393.4Q547.8 507.6 335.65 245.12L329.71 237.7L335.71 245.06Q547.8 507.6 214.18 393.48Z"/>
<path fill="#C8C8C8" d="M324.06 235.08L324.12 235.03Q547.8 507.6 497.27 173.9L495.89 164.5L497.35 173.89Q547.8 507.6 324.06 235.08Z"/>
<path fill="#C8C8C8" d="M853.49 331.88L853.53 331.95Q547.8 507.6 861.57 383.29L870.42 379.83L861.6 383.36Q547.8 507.6 853.49 331.88Z"/>
<path fill="#C8C8C8" d="M520.67 156.05L520.75 156.04Q547.8 507.6 218.46 433.83L209.2 431.71L218.48 433.75Q547.8 507.6 520.67 156.05Z"/>
<path fill="#C8C8C8" d="M225.31 365.04L225.34 364.96Q547.8 507.6 260.65 330.25L252.59 325.23L260.69 330.19Q547.8 507.6 225.31 365.04Z"/>
<path fill="#C8C8C8" d="M887.82 414.26L887.84 414.34Q547.8 507.61 260.69 330.19L252.63 325.16L260.73 330.12Q547.8 507.59 887.82 414.26Z"/>
<path fill="#C8C8C8" d="M763.09 228.36L763.16 228.41Q547.8 507.6 311.61 266.52L304.99 259.7L311.66 266.46Q547.8 507.6 763.09 228.36Z"/>
<path fill="#C8C8C8" d="M821.19 284.92L821.24 284.98Q547.8 507.6 662.44 825.03L665.63 833.98L662.37 825.06Q547.8 507.6 821.19 284.92Z"/>
<path fill="#C8C8C8" d="M293.18 751.52L293.13 751.46Q547.8 507.6 240.33 368.42L231.69 364.47L240.36 368.36Q547.8 507.6 293.18 751.52Z"/>
<path fill="#C8C8C8" d="M608.74 854.89L608.66 854.91Q547.79 507.6 729.78 223.37L734.94 215.39L729.85 223.41Q547.81 507.6 608.74 854.89Z"/>
<path fill="#C8C8C8" d="M740.7 802.75L740.64 802.79Q547.8 507.6 335.71 245.06L329.77 237.65L335.77 245.02Q547.8 507.6 740.7 802.75Z"/>
<path fill="#C8C8C8" d="M293.13 751.46L293.07 751.41Q547.8 507.6 360.07 227.13L354.81 219.22L360.13 227.09Q547.8 507.6 293.13 751.46Z"/>
<path fill="#C8C8C8" d="M763.16 228.41L763.22 228.45Q547.8 507.6 286.37 721.05L278.99 727.03L286.32 720.99Q547.8 507.6 763.16 228.41Z"/>
<path fill="#C8C8C8" d="M793.5 254.7L793.56 254.75Q547.8 507.6 879.09 443.17L888.43 441.39L879.11 443.24Q547.8 507.6 793.5 254.7Z"/>
<path fill="#C8C8C8" d="M324.12 235.03L324.18 234.98Q547.8 507.6 717.49 799.34L722.24 807.57L717.43 799.37Q547.8 507.6 324.12 235.03Z"/>
<path fill="#C8C8C8" d="M821.24 284.98L821.29 285.04Q547.8 507.6 424.04 193.61L420.59 184.76L424.11 193.58Q547.8 507.6 821.24 284.98Z"/>
<path fill="#C8C8C8" d="M371.5 202.24L371.57 202.2Q547.8 507.6 218.48 433.75L209.22 431.64L218.49 433.68Q547.8 507.6 371.5 202.24Z"/>
<path fill="#C8C8C8" d="M821.29 285.04L821.33 285.1Q547.8 507.6 634.12 181.33L636.59 172.15L634.19 181.34Q547.8 507.6 821.29 285.04Z"/>
<path fill="#C8C8C8" d="M237.49 675.03L237.45 674.97Q547.8 507.6 453.44 183.56L450.82 174.43L453.5 183.54Q547.8 507.6 237.49 675.03Z"/>
<path fill="#C8C8C8" d="M793.56 254.75L793.61 254.81Q547.8 507.6 584.84 172.14L585.92 162.7L584.91 172.15Q547.8 507.6 793.56 254.75Z"/>
<path fill="#C8C8C8" d="M403.84 185.73L403.9 185.7Q547.8 507.6 861.6 383.36L870.45 379.9L861.63 383.43Q547.8 507.6 403.84 185.73Z"/>
<path fill="#C8C8C8" d="M324.18 234.98L324.24 234.93Q547.8 507.6 286.32 720.99L278.94 726.97L286.28 720.94Q547.8 507.6 324.18 234.98Z"/>
<path fill="#C8C8C8" d="M887.84 414.34L887.86 414.41Q547.8 507.6 596.94 841.5L598.29 850.91L596.87 841.51Q547.8 507.6 887.84 414.34Z"/>
<path fill="#C8C8C8" d="M821.33 285.1L821.38 285.16Q547.8 507.6 311.66 266.46L305.04 259.65L311.71 266.42Q547.8 507.6 821.33 285.1Z"/>
<path fill="#C8C8C8" d="M863.82 663.98L863.79 664.05Q547.8 507.6 596.87 841.51L598.22 850.92L596.8 841.52Q547.8 507.6 863.82 663.98Z"/>
<path fill="#C8C8C8" d="M821.38 285.16L821.43 285.21Q547.8 507.6 879.11 443.24L888.44 441.47L879.12 443.31Q547.8 507.6 821.38 285.16Z"/>
<path fill="#C8C8C8" d="M214.21 393.4L214.23 393.33Q547.8 507.6 526.61 170.77L526.05 161.28L526.68 170.76Q547.8 507.6 214.21 393.4Z"/>
<path fill="#C8C8C8" d="M348.08 217.01L348.14 216.97Q547.8 507.6 843.9 345.64L852.25 341.11L843.93 345.7Q547.8 507.6 348.08 217.01Z"/>
<path fill="#C8C8C8" d="M763.22 228.45L763.27 228.5Q547.8 507.6 717.43 799.37L722.17 807.6L717.37 799.41Q547.8 507.6 763.22 228.45Z"/>
<path fill="#C8C8C8" d="M324.24 234.93L324.3 234.89Q547.8 507.6 843.93 345.7L852.28 341.17L843.96 345.76Q547.8 507.6 324.24 234.93Z"/>
<path fill="#C8C8C8" d="M444.48 170.48L444.54 170.46Q547.8 507.6 584.91 172.15L585.99 162.71L584.98 172.15Q547.8 507.6 444.48 170.48Z"/>
<path fill="#C8C8C8" d="M348.14 216.97L348.2 216.93Q547.8 507.6 717.37 799.41L722.11 807.64L717.31 799.44Q547.8 507.6 348.14 216.97Z"/>
<path fill="#C8C8C8" d="M821.43 285.21L821.47 285.27Q547.8 507.6 465.04 834.8L462.68 844L464.98 834.78Q547.8 507.6 821.43 285.21Z"/>
<path fill="#C8C8C8" d="M615.61 161.58L615.68 161.6Q547.8 507.6 453.5 183.54L450.88 174.41L453.57 183.52Q547.8 507.6 615.61 161.58Z"/>
<path fill="#C8C8C8" d="M520.75 156.04L520.81 156.03Q547.8 507.6 453.57 183.52L450.95 174.39L453.63 183.5Q547.8 507.6 520.75 156.04Z"/>
<path fill="#C8C8C8" d="M853.53 331.95L853.57 332.01Q547.8 507.6 879.12 443.31L888.45 441.53L879.13 443.37Q547.8 507.6 853.53 331.95Z"/>
<path fill="#C8C8C8" d="M214.23 393.33L214.25 393.27Q547.8 507.6 453.63 183.5L451.01 174.37L453.69 183.49Q547.8 507.6 214.23 393.33Z"/>
<path fill="#C8C8C8" d="M872.1 369.19L872.12 369.25Q547.8 507.6 717.31 799.44L722.06 807.67L717.26 799.47Q547.8 507.6 872.1 369.19Z"/>
<path fill="#C8C8C8" d="M470.21 163.64L470.28 163.63Q547.8 507.6 791.87 740.7L798.71 747.29L791.82 740.75Q547.8 507.6 470.21 163.64Z"/>
<path fill="#C8C8C8" d="M508.96 858.05L508.89 858.05Q547.8 507.6 497.35 173.89L495.97 164.49L497.42 173.88Q547.8 507.6 508.96 858.05Z"/>
<path fill="#C8C8C8" d="M444.54 170.46L444.61 170.44Q547.8 507.6 763.48 248L769.57 240.72L763.53 248.05Q547.8 507.6 444.54 170.46Z"/>
<path fill="#C8C8C8" d="M214.25 393.27L214.27 393.2Q547.8 507.6 497.42 173.88L496.03 164.48L497.48 173.87Q547.8 507.6 214.25 393.27Z"/>
<path fill="#C8C8C8" d="M201.89 575.96L201.88 575.9Q547.8 507.6 785.67 268.17L792.39 261.46L785.71 268.22Q547.8 507.6 201.89 575.96Z"/>
<path fill="#C8C8C8" d="M887.86 414.41L887.88 414.48Q547.8 507.6 335.77 245.02L329.83 237.61L335.82 244.98Q547.8 507.6 887.86 414.41Z"/>
<path fill="#C8C8C8" d="M348.2 216.93L348.25 216.9Q547.8 507.6 286.28 720.94L278.9 726.92L286.24 720.89Q547.8 507.6 348.2 216.93Z"/>
<path fill="#C8C8C8" d="M701.15 190.09L701.21 190.12Q547.8 507.6 596.8 841.52L598.15 850.93L596.74 841.53Q547.8 507.6 701.15 190.09Z"/>
<path fill="#C8C8C8" d="M520.81 156.03L520.88 156.03Q547.8 507.6 286.24 720.89L278.86 726.87L286.2 720.84Q547.8 507.6 520.81 156.03Z"/>
<path fill="#C8C8C8" d="M863.79 664.05L863.76 664.11Q547.8 507.6 360.13 227.09L354.87 219.18L360.18 227.06Q547.8 507.6 863.79 664.05Z"/>
<path fill="#C8C8C8" d="M348.25 216.9L348.31 216.86Q547.8 507.6 464.98 834.78L462.62 843.98L464.92 834.76Q547.8 507.6 348.25 216.9Z"/>
<path fill="#C8C8C8" d="M685.84 832.06L685.78 832.08Q547.8 507.6 843.96 345.76L852.32 341.23L843.99 345.81Q547.8 507.6 685.84 832.06Z"/>
<path fill="#C8C8C8" d="M608.66 854.91L608.6 854.92Q547.8 507.6 424.11 193.58L420.66 184.73L424.17 193.56Q547.8 507.6 608.66 854.91Z"/>
<path fill="#C8C8C8" d="M281.21 276.83L281.25 276.78Q547.8 507.6 785.71 268.22L792.43 261.5L785.76 268.26Q547.8 507.6 281.21 276.83Z"/>
<path fill="#C8C8C8" d="M225.34 364.96L225.36 364.91Q547.8 507.6 231.05 391.1L222.14 387.79L231.07 391.04Q547.8 507.6 225.34 364.96Z"/>
<path fill="#C8C8C8" d="M214.27 393.2L214.29 393.14Q547.8 507.6 785.76 268.26L792.48 261.55L785.8 268.3Q547.8 507.6 214.27 393.2Z"/>
<path fill="#C8C8C8" d="M470.28 163.63L470.34 163.61Q547.8 507.6 875.9 586.68L885.13 588.94L875.89 586.74Q547.8 507.6 470.28 163.63Z"/>
<path fill="#C8C8C8" d="M470.34 163.61L470.4 163.6Q547.8 507.6 729.85 223.41L735 215.42L729.9 223.44Q547.8 507.6 470.34 163.61Z"/>
<path fill="#C8C8C8" d="M608.6 854.92L608.54 854.93Q547.8 507.6 231.07 391.04L222.16 387.73L231.09 390.98Q547.8 507.6 608.6 854.92Z"/>
<path fill="#C8C8C8" d="M821.47 285.27L821.51 285.31Q547.8 507.6 348.65 780.08L343.02 787.73L348.6 780.04Q547.8 507.6 821.47 285.27Z"/>
<path fill="#C8C8C8" d="M899.63 530.92L899.62 530.99Q547.8 507.6 474.11 178.24L472.06 168.97L474.17 178.23Q547.8 507.6 899.63 530.92Z"/>
<path fill="#C8C8C8" d="M520.88 156.03L520.94 156.02Q547.8 507.6 785.8 268.3L792.52 261.59L785.84 268.34Q547.8 507.6 520.88 156.03Z"/>
<path fill="#C8C8C8" d="M214.29 393.14L214.31 393.09Q547.8 507.6 861.63 383.43L870.47 379.96L861.65 383.48Q547.8 507.6 214.29 393.14Z"/>
<path fill="#C8C8C8" d="M872.12 369.25L872.15 369.3Q547.8 507.6 311.71 266.42L305.09 259.61L311.76 266.38Q547.8 507.6 872.12 369.25Z"/>
<path fill="#C8C8C8" d="M225.36 364.91L225.39 364.85Q547.8 507.6 875.89 586.74L885.12 589L875.88 586.8Q547.8 507.6 225.36 364.91Z"/>
<path fill="#C8C8C8" d="M615.68 161.6L615.73 161.61Q547.8 507.6 717.26 799.47L722 807.7L717.21 799.5Q547.8 507.6 615.68 161.6Z"/>
<path fill="#C8C8C8" d="M887.88 414.48L887.9 414.53Q547.8 507.6 245.62 657.9L237.1 662.11L245.59 657.85Q547.8 507.6 887.88 414.48Z"/>
<path fill="#C8C8C8" d="M685.78 832.08L685.73 832.1Q547.8 507.6 335.82 244.98L329.87 237.57L335.86 244.94Q547.8 507.6 685.78 832.08Z"/>
<path fill="#C8C8C8" d="M225.39 364.85L225.41 364.8Q547.8 507.6 464.92 834.76L462.56 843.97L464.87 834.75Q547.8 507.6 225.39 364.85Z"/>
<path fill="#C8C8C8" d="M763.27 228.5L763.32 228.53Q547.8 507.6 843.99 345.81L852.34 341.28L844.02 345.86Q547.8 507.6 763.27 228.5Z"/>
<path fill="#C8C8C8" d="M558.22 155.15L558.28 155.16Q547.8 507.6 662.37 825.06L665.57 834L662.32 825.08Q547.8 507.6 558.22 155.15Z"/>
<path fill="#C8C8C8" d="M444.61 170.44L444.66 170.42Q547.8 507.6 286.2 720.84L278.82 726.82L286.16 720.8Q547.8 507.6 444.61 170.44Z"/>
<path fill="#C8C8C8" d="M470.4 163.6L470.46 163.59Q547.8 507.6 218.49 433.68L209.23 431.58L218.51 433.63Q547.8 507.6 470.4 163.6Z"/>
<path fill="#C8C8C8" d="M520.94 156.02L520.99 156.02Q547.8 507.6 875.88 586.8L885.1 589.05L875.86 586.85Q547.8 507.6 520.94 156.02Z"/>
<path fill="#C8C8C8" d="M685.73 832.1L685.68 832.13Q547.8 507.6 260.73 330.12L252.67 325.1L260.76 330.08Q547.8 507.6 685.73 832.1Z"/>
<path fill="#C8C8C8" d="M225.41 364.8L225.43 364.75Q547.8 507.6 729.9 223.44L735.05 215.46L729.94 223.47Q547.8 507.6 225.41 364.8Z"/>
<path fill="#C8C8C8" d="M558.28 155.16L558.33 155.16Q547.8 507.6 260.76 330.08L252.7 325.06L260.79 330.03Q547.8 507.6 558.28 155.16Z"/>
<path fill="#C8C8C8" d="M403.9 185.7L403.95 185.68Q547.8 507.6 785.84 268.34L792.56 261.63L785.88 268.38Q547.8 507.6 403.9 185.7Z"/>
<path fill="#C8C8C8" d="M863.76 664.11L863.74 664.16Q547.8 507.6 785.88 268.38L792.6 261.66L785.91 268.42Q547.8 507.6 863.76 664.11Z"/>
<path fill="#C8C8C8" d="M558.33 155.16L558.38 155.16Q547.8 507.6 526.68 170.76L526.11 161.28L526.73 170.76Q547.8 507.6 558.33 155.16Z"/>
<path fill="#C8C8C8" d="M493.21 159.25L493.26 159.24Q547.8 507.6 791.82 740.75L798.67 747.33L791.79 740.79Q547.8 507.6 493.21 159.25Z"/>
<path fill="#C8C8C8" d="M444.66 170.42L444.71 170.41Q547.8 507.6 791.79 740.79L798.64 747.37L791.75 740.82Q547.8 507.6 444.66 170.42Z"/>
<path fill="#C8C8C8" d="M244.05 328.54L244.08 328.49Q547.8 507.6 785.91 268.42L792.63 261.7L785.95 268.45Q547.8 507.6 244.05 328.54Z"/>
<path fill="#C8C8C8" d="M872.15 369.3L872.17 369.35Q547.8 507.6 424.17 193.56L420.71 184.71L424.21 193.54Q547.8 507.6 872.15 369.3Z"/>
<path fill="#C8C8C8" d="M348.31 216.86L348.35 216.83Q547.8 507.6 453.69 183.49L451.07 174.36L453.74 183.47Q547.8 507.6 348.31 216.86Z"/>
<path fill="#C8C8C8" d="M863.74 664.16L863.72 664.2Q547.8 507.6 231.09 390.98L222.18 387.68L231.1 390.94Q547.8 507.6 863.74 664.16Z"/>
<path fill="#C8C8C8" d="M348.35 216.83L348.39 216.8Q547.8 507.6 231.1 390.94L222.2 387.63L231.12 390.89Q547.8 507.6 348.35 216.83Z"/>
<path fill="#C8C8C8" d="M348.39 216.8L348.43 216.77Q547.8 507.6 335.86 244.94L329.92 237.53L335.9 244.91Q547.8 507.6 348.39 216.8Z"/>
<path fill="#C8C8C8" d="M740.64 802.79L740.6 802.82Q547.8 507.6 526.73 170.76L526.16 161.28L526.78 170.76Q547.8 507.6 740.64 802.79Z"/>
<path fill="#C8C8C8" d="M237.45 674.97L237.43 674.92Q547.8 507.6 474.17 178.23L472.12 168.95L474.21 178.22Q547.8 507.6 237.45 674.97Z"/>
<path fill="#C8C8C8" d="M214.31 393.09L214.33 393.04Q547.8 507.6 763.53 248.05L769.62 240.75L763.56 248.08Q547.8 507.6 214.31 393.09Z"/>
<path fill="#C8C8C8" d="M348.43 216.77L348.47 216.75Q547.8 507.6 245.59 657.85L237.07 662.06L245.57 657.81Q547.8 507.6 348.43 216.77Z"/>
<path fill="#C8C8C8" d="M763.32 228.53L763.36 228.56Q547.8 507.6 526.78 170.76L526.21 161.27L526.83 170.75Q547.8 507.6 763.32 228.53Z"/>
<path fill="#C8C8C8" d="M281.25 276.78L281.28 276.75Q547.8 507.6 497.48 173.87L496.09 164.48L497.52 173.87Q547.8 507.6 281.25 276.78Z"/>
<path fill="#C8C8C8" d="M201.88 575.9L201.87 575.85Q547.8 507.6 379.57 215.01L374.86 206.77L379.61 214.99Q547.8 507.6 201.88 575.9Z"/>
<path fill="#C8C8C8" d="M225.43 364.75L225.45 364.71Q547.8 507.6 634.19 181.34L636.65 172.17L634.24 181.36Q547.8 507.6 225.43 364.75Z"/>
<path fill="#C8C8C8" d="M244.08 328.49L244.1 328.45Q547.8 507.6 360.18 227.06L354.92 219.15L360.22 227.03Q547.8 507.6 244.08 328.49Z"/>
<path fill="#C8C8C8" d="M293.07 751.41L293.04 751.37Q547.8 507.6 474.21 178.22L472.16 168.94L474.26 178.21Q547.8 507.6 293.07 751.41Z"/>
<path fill="#C8C8C8" d="M615.73 161.61L615.78 161.62Q547.8 507.6 260.79 330.03L252.72 325.01L260.81 329.99Q547.8 507.6 615.73 161.61Z"/>
<path fill="#C8C8C8" d="M821.51 285.31L821.54 285.35Q547.8 507.6 260.81 329.99L252.75 324.98L260.83 329.96Q547.8 507.6 821.51 285.31Z"/>
<path fill="#C8C8C8" d="M225.45 364.71L225.47 364.67Q547.8 507.6 791.75 740.82L798.6 747.4L791.72 740.85Q547.8 507.6 225.45 364.71Z"/>
<path fill="#C8C8C8" d="M853.57 332.01L853.59 332.05Q547.8 507.6 260.83 329.96L252.77 324.94L260.86 329.92Q547.8 507.6 853.57 332.01Z"/>
<path fill="#C8C8C8" d="M558.38 155.16L558.43 155.16Q547.8 507.6 240.36 368.36L231.72 364.42L240.38 368.32Q547.8 507.6 558.38 155.16Z"/>
<path fill="#C8C8C8" d="M887.9 414.53L887.91 414.58Q547.8 507.6 360.22 227.03L354.96 219.12L360.25 227.01Q547.8 507.6 887.9 414.53Z"/>
<path fill="#C8C8C8" d="M608.54 854.93L608.5 854.94Q547.8 507.6 526.83 170.75L526.26 161.27L526.87 170.75Q547.8 507.6 608.54 854.93Z"/>
<path fill="#C8C8C8" d="M281.28 276.75L281.31 276.71Q547.8 507.6 717.21 799.5L721.96 807.73L717.17 799.52Q547.8 507.6 281.28 276.75Z"/>
<path fill="#C8C8C8" d="M508.89 858.05L508.85 858.04Q547.8 507.6 379.61 214.99L374.9 206.75L379.65 214.97Q547.8 507.6 508.89 858.05Z"/>
<path fill="#C8C8C8" d="M793.61 254.81L793.64 254.84Q547.8 507.6 526.87 170.75L526.3 161.27L526.91 170.75Q547.8 507.6 793.61 254.81Z"/>
<path fill="#C8C8C8" d="M872.17 369.35L872.18 369.39Q547.8 507.6 453.74 183.47L451.11 174.34L453.78 183.46Q547.8 507.6 872.17 369.35Z"/>
<path fill="#C8C8C8" d="M763.36 228.56L763.39 228.59Q547.8 507.6 231.12 390.89L222.21 387.59L231.13 390.85Q547.8 507.6 763.36 228.56Z"/>
<path fill="#C8C8C8" d="M701.21 190.12L701.25 190.14Q547.8 507.6 245.57 657.81L237.05 662.02L245.55 657.77Q547.8 507.6 701.21 190.12Z"/>
<path fill="#C8C8C8" d="M558.43 155.16L558.47 155.16Q547.8 507.6 360.25 227.01L354.99 219.1L360.29 226.98Q547.8 507.6 558.43 155.16Z"/>
<path fill="#C8C8C8" d="M403.95 185.68L403.99 185.66Q547.8 507.6 335.9 244.91L329.95 237.51L335.93 244.89Q547.8 507.6 403.95 185.68Z"/>
<path fill="#C8C8C8" d="M244.1 328.45L244.12 328.42Q547.8 507.6 526.91 170.75L526.34 161.26L526.95 170.74Q547.8 507.6 244.1 328.45Z"/>
<path fill="#C8C8C8" d="M444.71 170.41L444.75 170.39Q547.8 507.6 260.86 329.92L252.79 324.9L260.88 329.89Q547.8 507.6 444.71 170.41Z"/>
<path fill="#C8C8C8" d="M763.39 228.59L763.42 228.61Q547.8 507.6 861.65 383.48L870.49 380.01L861.66 383.52Q547.8 507.6 763.39 228.59Z"/>
<path fill="#C8C8C8" d="M853.59 332.05L853.61 332.08Q547.8 507.6 464.87 834.75L462.51 843.96L464.83 834.74Q547.8 507.6 853.59 332.05Z"/>
<path fill="#C8C8C8" d="M214.33 393.04L214.34 393Q547.8 507.6 662.32 825.08L665.52 834.02L662.28 825.09Q547.8 507.6 214.33 393.04Z"/>
<path fill="#C8C8C8" d="M493.26 159.24L493.3 159.24Q547.8 507.6 634.24 181.36L636.69 172.18L634.28 181.37Q547.8 507.6 493.26 159.24Z"/>
<path fill="#C8C8C8" d="M324.3 234.89L324.33 234.86Q547.8 507.6 879.13 443.37L888.46 441.59L879.14 443.41Q547.8 507.6 324.3 234.89Z"/>
<path fill="#C8C8C8" d="M237.43 674.92L237.41 674.89Q547.8 507.6 844.02 345.86L852.37 341.32L844.04 345.89Q547.8 507.6 237.43 674.92Z"/>
<path fill="#C8C8C8" d="M763.42 228.61L763.46 228.64Q547.8 507.6 497.52 173.87L496.13 164.47L497.56 173.86Q547.8 507.6 763.42 228.61Z"/>
<path fill="#C8C8C8" d="M558.47 155.16L558.51 155.16Q547.8 507.6 348.6 780.04L342.98 787.7L348.57 780.02Q547.8 507.6 558.47 155.16Z"/>
<path fill="#C8C8C8" d="M493.3 159.24L493.34 159.23Q547.8 507.6 824.34 314.13L832.14 308.7L824.36 314.16Q547.8 507.6 493.3 159.24Z"/>
<path fill="#C8C8C8" d="M558.51 155.16L558.55 155.16Q547.8 507.6 474.26 178.21L472.2 168.93L474.29 178.2Q547.8 507.6 558.51 155.16Z"/>
<path fill="#C8C8C8" d="M887.91 414.58L887.92 414.61Q547.8 507.6 231.13 390.85L222.23 387.55L231.15 390.82Q547.8 507.6 887.91 414.58Z"/>
<path fill="#C8C8C8" d="M685.68 832.13L685.64 832.14Q547.8 507.6 497.56 173.86L496.17 164.46L497.6 173.85Q547.8 507.6 685.68 832.13Z"/>
<path fill="#C8C8C8" d="M763.46 228.64L763.48 228.66Q547.8 507.6 596.74 841.53L598.1 850.93L596.71 841.54Q547.8 507.6 763.46 228.64Z"/>
<path fill="#C8C8C8" d="M872.18 369.39L872.2 369.42Q547.8 507.6 231.15 390.82L222.24 387.52L231.16 390.79Q547.8 507.6 872.18 369.39Z"/>
<path fill="#C8C8C8" d="M281.31 276.71L281.33 276.69Q547.8 507.6 861.66 383.52L870.5 380.04L861.68 383.55Q547.8 507.6 281.31 276.71Z"/>
<path fill="#C8C8C8" d="M872.2 369.42L872.21 369.46Q547.8 507.6 497.6 173.85L496.2 164.46L497.63 173.85Q547.8 507.6 872.2 369.42Z"/>
<path fill="#C8C8C8" d="M853.61 332.08L853.63 332.11Q547.8 507.6 584.98 172.15L586.04 162.71L585.01 172.16Q547.8 507.6 853.61 332.08Z"/>
<path fill="#C8C8C8" d="M244.12 328.42L244.14 328.39Q547.8 507.6 474.29 178.2L472.24 168.93L474.33 178.19Q547.8 507.6 244.12 328.42Z"/>
<path fill="#C8C8C8" d="M615.78 161.62L615.82 161.62Q547.8 507.6 474.33 178.19L472.27 168.92L474.36 178.19Q547.8 507.6 615.78 161.62Z"/>
<path fill="#C8C8C8" d="M244.14 328.39L244.16 328.35Q547.8 507.6 497.63 173.85L496.24 164.45L497.67 173.84Q547.8 507.6 244.14 328.39Z"/>
<path fill="#C8C8C8" d="M558.55 155.16L558.58 155.16Q547.8 507.6 497.67 173.84L496.27 164.45L497.7 173.84Q547.8 507.6 558.55 155.16Z"/>
<path fill="#C8C8C8" d="M444.75 170.39L444.79 170.38Q547.8 507.6 717.17 799.52L721.92 807.75L717.14 799.54Q547.8 507.6 444.75 170.39Z"/>
<path fill="#C8C8C8" d="M470.46 163.59L470.49 163.58Q547.8 507.6 424.21 193.54L420.75 184.7L424.24 193.53Q547.8 507.6 470.46 163.59Z"/>
<path fill="#C8C8C8" d="M685.64 832.14L685.61 832.15Q547.8 507.6 360.29 226.98L355.02 219.08L360.31 226.97Q547.8 507.6 685.64 832.14Z"/>
<path fill="#C8C8C8" d="M615.82 161.62L615.85 161.63Q547.8 507.6 245.55 657.77L237.04 661.99L245.54 657.75Q547.8 507.6 615.82 161.62Z"/>
<path fill="#C8C8C8" d="M793.64 254.84L793.66 254.86Q547.8 507.6 424.24 193.53L420.78 184.68L424.27 193.52Q547.8 507.6 793.64 254.84Z"/>
<path fill="#C8C8C8" d="M403.99 185.66L404.02 185.65Q547.8 507.6 379.65 214.97L374.93 206.73L379.68 214.96Q547.8 507.6 403.99 185.66Z"/>
<path fill="#C8C8C8" d="M493.34 159.23L493.37 159.23Q547.8 507.6 729.94 223.47L735.08 215.48L729.97 223.49Q547.8 507.6 493.34 159.23Z"/>
<path fill="#C8C8C8" d="M444.79 170.38L444.82 170.37Q547.8 507.6 474.36 178.19L472.31 168.91L474.39 178.18Q547.8 507.6 444.79 170.38Z"/>
<path fill="#C8C8C8" d="M872.21 369.46L872.23 369.49Q547.8 507.6 245.54 657.75L237.02 661.96L245.52 657.72Q547.8 507.6 872.21 369.46Z"/>
<path fill="#C8C8C8" d="M793.66 254.86L793.69 254.88Q547.8 507.6 861.68 383.55L870.52 380.07L861.69 383.58Q547.8 507.6 793.66 254.86Z"/>
<path fill="#C8C8C8" d="M853.63 332.11L853.64 332.14Q547.8 507.6 311.76 266.38L305.12 259.57L311.78 266.35Q547.8 507.6 853.63 332.11Z"/>
<path fill="#C8C8C8" d="M470.49 163.58L470.52 163.57Q547.8 507.6 286.16 720.8L278.79 726.79L286.14 720.77Q547.8 507.6 470.49 163.58Z"/>
<path fill="#C8C8C8" d="M685.61 832.15L685.58 832.17Q547.8 507.6 311.78 266.35L305.15 259.55L311.8 266.33Q547.8 507.6 685.61 832.15Z"/>
<path fill="#C8C8C8" d="M615.85 161.63L615.88 161.64Q547.8 507.6 785.95 268.45L792.66 261.73L785.97 268.47Q547.8 507.6 615.85 161.63Z"/>
<path fill="#C8C8C8" d="M520.99 156.02L521.03 156.02Q547.8 507.6 662.28 825.09L665.49 834.03L662.25 825.1Q547.8 507.6 520.99 156.02Z"/>
<path fill="#C8C8C8" d="M685.58 832.17L685.55 832.18Q547.8 507.6 763.56 248.08L769.65 240.78L763.59 248.1Q547.8 507.6 685.58 832.17Z"/>
<path fill="#C8C8C8" d="M324.33 234.86L324.35 234.84Q547.8 507.6 763.59 248.1L769.67 240.8L763.61 248.12Q547.8 507.6 324.33 234.86Z"/>
<path fill="#C8C8C8" d="M404.02 185.65L404.05 185.63Q547.8 507.6 844.04 345.89L852.38 341.35L844.05 345.92Q547.8 507.6 404.02 185.65Z"/>
<path fill="#C8C8C8" d="M558.58 155.16L558.61 155.17Q547.8 507.6 844.05 345.92L852.4 341.38L844.07 345.95Q547.8 507.6 558.58 155.16Z"/>
<path fill="#C8C8C8" d="M376 815.51L375.97 815.5Q547.8 507.6 497.7 173.84L496.3 164.44L497.73 173.84Q547.8 507.6 376 815.51Z"/>
<path fill="#C8C8C8" d="M608.5 854.94L608.46 854.94Q547.8 507.6 844.07 345.95L852.41 341.41L844.08 345.97Q547.8 507.6 608.5 854.94Z"/>
<path fill="#C8C8C8" d="M853.64 332.14L853.66 332.17Q547.8 507.6 286.14 720.77L278.77 726.76L286.13 720.75Q547.8 507.6 853.64 332.14Z"/>
<path fill="#C8C8C8" d="M821.54 285.35L821.56 285.37Q547.8 507.6 453.78 183.46L451.15 174.33L453.81 183.45Q547.8 507.6 821.54 285.35Z"/>
<path fill="#C8C8C8" d="M444.82 170.37L444.85 170.37Q547.8 507.6 245.52 657.72L237.01 661.93L245.51 657.69Q547.8 507.6 444.82 170.37Z"/>
<path fill="#C8C8C8" d="M225.47 364.67L225.48 364.64Q547.8 507.6 424.27 193.52L420.81 184.67L424.3 193.51Q547.8 507.6 225.47 364.67Z"/>
<path fill="#C8C8C8" d="M615.88 161.64L615.91 161.64Q547.8 507.6 497.73 173.84L496.33 164.44L497.76 173.83Q547.8 507.6 615.88 161.64Z"/>
<path fill="#C8C8C8" d="M763.48 228.66L763.51 228.68Q547.8 507.6 662.25 825.1L665.46 834.04L662.22 825.11Q547.8 507.6 763.48 228.66Z"/>
<path fill="#C8C8C8" d="M558.61 155.17L558.64 155.17Q547.8 507.6 245.51 657.69L236.99 661.9L245.5 657.67Q547.8 507.6 558.61 155.17Z"/>
<path fill="#C8C8C8" d="M521.03 156.02L521.06 156.02Q547.8 507.6 311.8 266.33L305.17 259.53L311.82 266.31Q547.8 507.6 521.03 156.02Z"/>
<path fill="#C8C8C8" d="M521.06 156.02L521.09 156.01Q547.8 507.6 335.93 244.89L329.98 237.48L335.95 244.87Q547.8 507.6 521.06 156.02Z"/>
<path fill="#C8C8C8" d="M493.37 159.23L493.4 159.22Q547.8 507.6 464.83 834.74L462.48 843.95L464.8 834.73Q547.8 507.6 493.37 159.23Z"/>
<path fill="#C8C8C8" d="M225.48 364.64L225.49 364.61Q547.8 507.6 286.13 720.75L278.75 726.74L286.11 720.73Q547.8 507.6 225.48 364.64Z"/>
<path fill="#C8C8C8" d="M615.91 161.64L615.94 161.65Q547.8 507.6 464.8 834.73L462.45 843.94L464.77 834.73Q547.8 507.6 615.91 161.64Z"/>
<path fill="#C8C8C8" d="M615.94 161.65L615.97 161.65Q547.8 507.6 360.31 226.97L355.05 219.06L360.34 226.95Q547.8 507.6 615.94 161.65Z"/>
<path fill="#C8C8C8" d="M348.47 216.75L348.5 216.73Q547.8 507.6 879.14 443.41L888.47 441.62L879.15 443.44Q547.8 507.6 348.47 216.75Z"/>
<path fill="#C8C8C8" d="M348.5 216.73L348.52 216.71Q547.8 507.6 875.86 586.85L885.1 589.09L875.86 586.87Q547.8 507.6 348.5 216.73Z"/>
<path fill="#C8C8C8" d="M763.51 228.68L763.53 228.7Q547.8 507.6 453.81 183.45L451.18 174.32L453.84 183.44Q547.8 507.6 763.51 228.68Z"/>
<path fill="#C8C8C8" d="M608.46 854.94L608.44 854.95Q547.8 507.6 360.34 226.95L355.07 219.04L360.36 226.94Q547.8 507.6 608.46 854.94Z"/>
<path fill="#C8C8C8" d="M853.66 332.17L853.67 332.19Q547.8 507.6 231.16 390.79L222.25 387.49L231.17 390.76Q547.8 507.6 853.66 332.17Z"/>
<path fill="#C8C8C8" d="M863.72 664.2L863.7 664.23Q547.8 507.6 497.76 173.83L496.36 164.43L497.78 173.83Q547.8 507.6 863.72 664.2Z"/>
<path fill="#C8C8C8" d="M470.52 163.57L470.55 163.57Q547.8 507.6 464.77 834.73L462.42 843.93L464.75 834.72Q547.8 507.6 470.52 163.57Z"/>
<path fill="#C8C8C8" d="M899.62 530.99L899.62 531.01Q547.8 507.6 526.95 170.74L526.38 161.26L526.97 170.74Q547.8 507.6 899.62 530.99Z"/>
<path fill="#C8C8C8" d="M244.16 328.35L244.17 328.33Q547.8 507.6 596.71 841.54L598.07 850.94L596.68 841.54Q547.8 507.6 244.16 328.35Z"/>
<path fill="#C8C8C8" d="M324.35 234.84L324.37 234.82Q547.8 507.6 526.97 170.74L526.4 161.26L527 170.74Q547.8 507.6 324.35 234.84Z"/>
<path fill="#C8C8C8" d="M558.64 155.17L558.67 155.17Q547.8 507.6 717.14 799.54L721.9 807.76L717.12 799.55Q547.8 507.6 558.64 155.17Z"/>
<path fill="#C8C8C8" d="M324.37 234.82L324.39 234.81Q547.8 507.6 379.68 214.96L374.96 206.71L379.7 214.94Q547.8 507.6 324.37 234.82Z"/>
<path fill="#C8C8C8" d="M521.09 156.01L521.11 156.01Q547.8 507.6 717.12 799.55L721.88 807.78L717.1 799.57Q547.8 507.6 521.09 156.01Z"/>
<path fill="#C8C8C8" d="M470.55 163.57L470.57 163.56Q547.8 507.6 348.57 780.02L342.95 787.68L348.55 780.01Q547.8 507.6 470.55 163.57Z"/>
<path fill="#C8C8C8" d="M793.69 254.88L793.71 254.9Q547.8 507.6 844.08 345.97L852.43 341.43L844.09 345.99Q547.8 507.6 793.69 254.88Z"/>
<path fill="#C8C8C8" d="M793.71 254.9L793.73 254.92Q547.8 507.6 286.11 720.73L278.73 726.72L286.09 720.71Q547.8 507.6 793.71 254.9Z"/>
<path fill="#C8C8C8" d="M371.57 202.2L371.59 202.19Q547.8 507.6 585.01 172.16L586.07 162.72L585.03 172.16Q547.8 507.6 371.57 202.2Z"/>
<path fill="#C8C8C8" d="M244.17 328.33L244.19 328.31Q547.8 507.6 844.09 345.99L852.44 341.46L844.1 346.02Q547.8 507.6 244.17 328.33Z"/>
<path fill="#C8C8C8" d="M821.56 285.37L821.57 285.39Q547.8 507.6 360.36 226.94L355.09 219.03L360.38 226.92Q547.8 507.6 821.56 285.37Z"/>
<path fill="#C8C8C8" d="M237.41 674.89L237.4 674.87Q547.8 507.6 527 170.74L526.43 161.26L527.02 170.74Q547.8 507.6 237.41 674.89Z"/>
<path fill="#C8C8C8" d="M793.73 254.92L793.74 254.94Q547.8 507.6 662.22 825.11L665.43 834.05L662.2 825.12Q547.8 507.6 793.73 254.92Z"/>
<path fill="#C8C8C8" d="M375.97 815.5L375.95 815.49Q547.8 507.6 474.39 178.18L472.34 168.91L474.41 178.18Q547.8 507.6 375.97 815.5Z"/>
<path fill="#C8C8C8" d="M404.05 185.63L404.07 185.62Q547.8 507.6 474.41 178.18L472.36 168.9L474.44 178.17Q547.8 507.6 404.05 185.63Z"/>
<path fill="#C8C8C8" d="M371.59 202.19L371.61 202.18Q547.8 507.6 634.28 181.37L636.72 172.19L634.3 181.37Q547.8 507.6 371.59 202.19Z"/>
<path fill="#C8C8C8" d="M371.61 202.18L371.63 202.16Q547.8 507.6 286.09 720.71L278.72 726.7L286.08 720.69Q547.8 507.6 371.61 202.18Z"/>
<path fill="#C8C8C8" d="M324.39 234.81L324.41 234.79Q547.8 507.6 875.86 586.87L885.09 589.12L875.85 586.9Q547.8 507.6 324.39 234.81Z"/>
<path fill="#C8C8C8" d="M821.57 285.39L821.59 285.41Q547.8 507.6 717.1 799.57L721.85 807.79L717.08 799.58Q547.8 507.6 821.57 285.39Z"/>
<path fill="#C8C8C8" d="M225.49 364.61L225.5 364.59Q547.8 507.6 824.36 314.16L832.15 308.72L824.37 314.18Q547.8 507.6 225.49 364.61Z"/>
<path fill="#C8C8C8" d="M348.52 216.71L348.54 216.7Q547.8 507.6 497.78 173.83L496.39 164.43L497.8 173.82Q547.8 507.6 348.52 216.71Z"/>
<path fill="#C8C8C8" d="M608.44 854.95L608.41 854.95Q547.8 507.6 260.88 329.89L252.81 324.87L260.89 329.87Q547.8 507.6 608.44 854.95Z"/>
<path fill="#C8C8C8" d="M348.54 216.7L348.56 216.69Q547.8 507.6 824.37 314.18L832.17 308.74L824.39 314.19Q547.8 507.6 348.54 216.7Z"/>
<path fill="#C8C8C8" d="M244.19 328.31L244.2 328.29Q547.8 507.6 379.7 214.94L374.98 206.7L379.72 214.93Q547.8 507.6 244.19 328.31Z"/>
<path fill="#C8C8C8" d="M615.97 161.65L615.99 161.66Q547.8 507.6 763.61 248.12L769.69 240.82L763.63 248.13Q547.8 507.6 615.97 161.65Z"/>
<path fill="#C8C8C8" d="M740.6 802.82L740.58 802.83Q547.8 507.6 379.72 214.93L375 206.69L379.74 214.92Q547.8 507.6 740.6 802.82Z"/>
<path fill="#C8C8C8" d="M237.4 674.87L237.39 674.85Q547.8 507.6 379.74 214.92L375.01 206.68L379.75 214.91Q547.8 507.6 237.4 674.87Z"/>
<path fill="#C8C8C8" d="M281.33 276.69L281.34 276.67Q547.8 507.6 474.44 178.17L472.38 168.89L474.46 178.17Q547.8 507.6 281.33 276.69Z"/>
<path fill="#C8C8C8" d="M225.5 364.59L225.51 364.57Q547.8 507.6 311.82 266.31L305.19 259.51L311.84 266.3Q547.8 507.6 225.5 364.59Z"/>
<path fill="#C8C8C8" d="M558.67 155.17L558.69 155.17Q547.8 507.6 785.97 268.47L792.68 261.75L785.98 268.49Q547.8 507.6 558.67 155.17Z"/>
<path fill="#C8C8C8" d="M521.11 156.01L521.13 156.01Q547.8 507.6 240.38 368.32L231.73 364.39L240.39 368.3Q547.8 507.6 521.11 156.01Z"/>
<path fill="#C8C8C8" d="M244.2 328.29L244.21 328.27Q547.8 507.6 879.15 443.44L888.47 441.64L879.15 443.46Q547.8 507.6 244.2 328.29Z"/>
<path fill="#C8C8C8" d="M615.99 161.66L616.01 161.66Q547.8 507.6 335.95 244.87L330 237.47L335.97 244.86Q547.8 507.6 615.99 161.66Z"/>
<path fill="#C8C8C8" d="M793.74 254.94L793.76 254.95Q547.8 507.6 311.84 266.3L305.2 259.5L311.85 266.28Q547.8 507.6 793.74 254.94Z"/>
<path fill="#C8C8C8" d="M616.01 161.66L616.03 161.66Q547.8 507.6 662.2 825.12L665.41 834.06L662.18 825.13Q547.8 507.6 616.01 161.66Z"/>
<path fill="#C8C8C8" d="M521.13 156.01L521.15 156.01Q547.8 507.6 360.38 226.92L355.11 219.02L360.4 226.91Q547.8 507.6 521.13 156.01Z"/>
<path fill="#C8C8C8" d="M444.85 170.37L444.87 170.36Q547.8 507.6 527.02 170.74L526.45 161.26L527.04 170.74Q547.8 507.6 444.85 170.37Z"/>
<path fill="#C8C8C8" d="M899.62 531.01L899.62 531.03Q547.8 507.6 379.75 214.91L375.03 206.67L379.77 214.9Q547.8 507.6 899.62 531.01Z"/>
<path fill="#C8C8C8" d="M225.51 364.57L225.52 364.55Q547.8 507.6 662.18 825.13L665.39 834.07L662.17 825.13Q547.8 507.6 225.51 364.57Z"/>
<path fill="#C8C8C8" d="M608.41 854.95L608.4 854.95Q547.8 507.6 785.98 268.49L792.7 261.76L786 268.5Q547.8 507.6 608.41 854.95Z"/>
<path fill="#C8C8C8" d="M853.67 332.19L853.68 332.21Q547.8 507.6 453.84 183.44L451.2 174.32L453.85 183.44Q547.8 507.6 853.67 332.19Z"/>
<path fill="#C8C8C8" d="M324.41 234.79L324.43 234.78Q547.8 507.6 240.39 368.3L231.74 364.37L240.4 368.28Q547.8 507.6 324.41 234.79Z"/>
<path fill="#C8C8C8" d="M763.53 228.7L763.55 228.71Q547.8 507.6 245.5 657.67L236.98 661.88L245.49 657.65Q547.8 507.6 763.53 228.7Z"/>
<path fill="#C8C8C8" d="M404.07 185.62L404.09 185.61Q547.8 507.6 596.68 841.54L598.05 850.94L596.66 841.54Q547.8 507.6 404.07 185.62Z"/>
<path fill="#C8C8C8" d="M371.63 202.16L371.65 202.16Q547.8 507.6 311.85 266.28L305.21 259.48L311.86 266.27Q547.8 507.6 371.63 202.16Z"/>
<path fill="#C8C8C8" d="M348.56 216.69L348.57 216.68Q547.8 507.6 662.17 825.13L665.38 834.07L662.15 825.14Q547.8 507.6 348.56 216.69Z"/>
<path fill="#C8C8C8" d="M899.62 531.03L899.62 531.05Q547.8 507.6 240.4 368.28L231.75 364.35L240.4 368.27Q547.8 507.6 899.62 531.03Z"/>
<path fill="#C8C8C8" d="M863.7 664.23L863.7 664.24Q547.8 507.6 453.85 183.44L451.22 174.31L453.87 183.43Q547.8 507.6 863.7 664.23Z"/>
<path fill="#C8C8C8" d="M371.65 202.16L371.66 202.15Q547.8 507.6 729.97 223.49L735.1 215.49L729.98 223.49Q547.8 507.6 371.65 202.16Z"/>
<path fill="#C8C8C8" d="M508.85 858.04L508.83 858.04Q547.8 507.6 335.97 244.86L330.01 237.46L335.98 244.85Q547.8 507.6 508.85 858.04Z"/>
<path fill="#C8C8C8" d="M608.4 854.95L608.38 854.96Q547.8 507.6 453.87 183.43L451.23 174.31L453.89 183.43Q547.8 507.6 608.4 854.95Z"/>
<path fill="#C8C8C8" d="M899.62 531.05L899.62 531.07Q547.8 507.6 497.8 173.82L496.41 164.43L497.82 173.82Q547.8 507.6 899.62 531.05Z"/>
<path fill="#C8C8C8" d="M863.7 664.24L863.69 664.26Q547.8 507.6 240.4 368.27L231.75 364.34L240.41 368.25Q547.8 507.6 863.7 664.24Z"/>
<path fill="#C8C8C8" d="M225.52 364.55L225.53 364.54Q547.8 507.6 348.55 780.01L342.93 787.67L348.53 780Q547.8 507.6 225.52 364.55Z"/>
<path fill="#C8C8C8" d="M324.43 234.78L324.44 234.77Q547.8 507.6 245.49 657.65L236.98 661.87L245.48 657.63Q547.8 507.6 324.43 234.78Z"/>
<path fill="#C8C8C8" d="M821.59 285.41L821.6 285.43Q547.8 507.6 245.48 657.63L236.97 661.85L245.47 657.62Q547.8 507.6 821.59 285.41Z"/>
<path fill="#C8C8C8" d="M521.15 156.01L521.17 156.01Q547.8 507.6 879.15 443.46L888.48 441.66L879.15 443.48Q547.8 507.6 521.15 156.01Z"/>
<path fill="#C8C8C8" d="M470.57 163.56L470.59 163.56Q547.8 507.6 311.86 266.27L305.23 259.47L311.87 266.26Q547.8 507.6 470.57 163.56Z"/>
<path fill="#C8C8C8" d="M281.34 276.67L281.36 276.66Q547.8 507.6 596.66 841.54L598.03 850.95L596.65 841.55Q547.8 507.6 281.34 276.67Z"/>
<path fill="#C8C8C8" d="M470.59 163.56L470.61 163.55Q547.8 507.6 245.47 657.62L236.96 661.83L245.47 657.6Q547.8 507.6 470.59 163.56Z"/>
<path fill="#C8C8C8" d="M793.76 254.95L793.77 254.96Q547.8 507.6 245.47 657.6L236.95 661.82L245.46 657.59Q547.8 507.6 793.76 254.95Z"/>
<path fill="#C8C8C8" d="M348.57 216.68L348.59 216.67Q547.8 507.6 585.03 172.16L586.09 162.72L585.05 172.16Q547.8 507.6 348.57 216.68Z"/>
<path fill="#C8C8C8" d="M521.17 156.01L521.19 156.01Q547.8 507.6 763.63 248.13L769.71 240.83L763.64 248.14Q547.8 507.6 521.17 156.01Z"/>
<path fill="#C8C8C8" d="M508.83 858.04L508.81 858.04Q547.8 507.6 474.46 178.17L472.4 168.89L474.47 178.16Q547.8 507.6 508.83 858.04Z"/>
<path fill="#C8C8C8" d="M201.87 575.85L201.87 575.84Q547.8 507.6 474.47 178.16L472.41 168.89L474.49 178.16Q547.8 507.6 201.87 575.85Z"/>
<path fill="#C8C8C8" d="M887.92 414.61L887.92 414.63Q547.8 507.6 497.82 173.82L496.42 164.42L497.84 173.82Q547.8 507.6 887.92 414.61Z"/>
<path fill="#C8C8C8" d="M616.03 161.66L616.04 161.67Q547.8 507.6 527.04 170.74L526.47 161.26L527.06 170.74Q547.8 507.6 616.03 161.66Z"/>
<path fill="#C8C8C8" d="M793.77 254.96L793.78 254.97Q547.8 507.6 497.84 173.82L496.44 164.42L497.85 173.82Q547.8 507.6 793.77 254.96Z"/>
<path fill="#C8C8C8" d="M853.68 332.21L853.69 332.22Q547.8 507.6 527.06 170.74L526.48 161.26L527.07 170.74Q547.8 507.6 853.68 332.21Z"/>
<path fill="#C8C8C8" d="M493.4 159.22L493.41 159.22Q547.8 507.6 424.3 193.51L420.83 184.66L424.31 193.5Q547.8 507.6 493.4 159.22Z"/>
<path fill="#C8C8C8" d="M444.87 170.36L444.88 170.35Q547.8 507.6 861.69 383.58L870.53 380.1L861.69 383.59Q547.8 507.6 444.87 170.36Z"/>
<path fill="#C8C8C8" d="M763.55 228.71L763.56 228.72Q547.8 507.6 360.4 226.91L355.13 219.01L360.41 226.9Q547.8 507.6 763.55 228.71Z"/>
<path fill="#C8C8C8" d="M371.66 202.15L371.67 202.14Q547.8 507.6 360.41 226.9L355.14 219L360.42 226.9Q547.8 507.6 371.66 202.15Z"/>
<path fill="#C8C8C8" d="M375.95 815.49L375.93 815.48Q547.8 507.6 379.77 214.9L375.05 206.66L379.78 214.89Q547.8 507.6 375.95 815.49Z"/>
<path fill="#C8C8C8" d="M324.44 234.77L324.45 234.76Q547.8 507.6 662.15 825.14L665.36 834.08L662.14 825.14Q547.8 507.6 324.44 234.77Z"/>
<path fill="#C8C8C8" d="M763.56 228.72L763.57 228.73Q547.8 507.6 335.98 244.85L330.02 237.45L335.99 244.84Q547.8 507.6 763.56 228.72Z"/>
<path fill="#C8C8C8" d="M853.69 332.22L853.7 332.24Q547.8 507.6 596.65 841.55L598.01 850.95L596.63 841.55Q547.8 507.6 853.69 332.22Z"/>
<path fill="#C8C8C8" d="M444.88 170.35L444.89 170.35Q547.8 507.6 240.41 368.25L231.76 364.32L240.42 368.24Q547.8 507.6 444.88 170.35Z"/>
<path fill="#C8C8C8" d="M821.6 285.43L821.61 285.44Q547.8 507.6 497.85 173.82L496.45 164.42L497.86 173.81Q547.8 507.6 821.6 285.43Z"/>
<path fill="#C8C8C8" d="M470.61 163.55L470.62 163.55Q547.8 507.6 260.89 329.87L252.82 324.86L260.9 329.86Q547.8 507.6 470.61 163.55Z"/>
<path fill="#C8C8C8" d="M371.67 202.14L371.69 202.13Q547.8 507.6 424.31 193.5L420.84 184.66L424.33 193.5Q547.8 507.6 371.67 202.14Z"/>
<path fill="#C8C8C8" d="M225.53 364.54L225.53 364.52Q547.8 507.6 585.05 172.16L586.11 162.72L585.06 172.16Q547.8 507.6 225.53 364.54Z"/>
<path fill="#C8C8C8" d="M371.69 202.13L371.7 202.13Q547.8 507.6 464.75 834.72L462.4 843.93L464.74 834.72Q547.8 507.6 371.69 202.13Z"/>
<path fill="#C8C8C8" d="M348.59 216.67L348.6 216.66Q547.8 507.6 861.69 383.59L870.53 380.11L861.7 383.61Q547.8 507.6 348.59 216.67Z"/>
<path fill="#C8C8C8" d="M404.09 185.61L404.1 185.61Q547.8 507.6 245.46 657.59L236.95 661.81L245.46 657.58Q547.8 507.6 404.09 185.61Z"/>
<path fill="#C8C8C8" d="M608.38 854.96L608.36 854.96Q547.8 507.6 497.86 173.81L496.47 164.42L497.88 173.81Q547.8 507.6 608.38 854.96Z"/>
<path fill="#C8C8C8" d="M493.41 159.22L493.43 159.22Q547.8 507.6 527.07 170.74L526.5 161.25L527.09 170.74Q547.8 507.6 493.41 159.22Z"/>
<path fill="#C8C8C8" d="M470.62 163.55L470.63 163.55Q547.8 507.6 824.39 314.19L832.18 308.76L824.39 314.2Q547.8 507.6 470.62 163.55Z"/>
<path fill="#C8C8C8" d="M521.19 156.01L521.2 156Q547.8 507.6 497.88 173.81L496.48 164.42L497.89 173.81Q547.8 507.6 521.19 156.01Z"/>
<path fill="#C8C8C8" d="M872.23 369.49L872.23 369.5Q547.8 507.6 527.09 170.74L526.51 161.25L527.1 170.74Q547.8 507.6 872.23 369.49Z"/>
<path fill="#C8C8C8" d="M685.55 832.18L685.54 832.18Q547.8 507.6 786 268.5L792.71 261.78L786.01 268.51Q547.8 507.6 685.55 832.18Z"/>
<path fill="#C8C8C8" d="M872.23 369.5L872.24 369.51Q547.8 507.6 260.9 329.86L252.82 324.85L260.9 329.85Q547.8 507.6 872.23 369.5Z"/>
<path fill="#C8C8C8" d="M521.2 156L521.21 156Q547.8 507.6 474.49 178.16L472.43 168.88L474.5 178.16Q547.8 507.6 521.2 156Z"/>
<path fill="#C8C8C8" d="M493.43 159.22L493.44 159.22Q547.8 507.6 260.9 329.85L252.83 324.84L260.91 329.84Q547.8 507.6 493.43 159.22Z"/>
<path fill="#C8C8C8" d="M493.44 159.22L493.45 159.21Q547.8 507.6 335.99 244.84L330.03 237.44L336 244.83Q547.8 507.6 493.44 159.22Z"/>
<path fill="#C8C8C8" d="M793.78 254.97L793.79 254.98Q547.8 507.6 464.74 834.72L462.39 843.92L464.72 834.72Q547.8 507.6 793.78 254.97Z"/>
<path fill="#C8C8C8" d="M899.62 531.07L899.62 531.08Q547.8 507.6 336 244.83L330.04 237.43L336.01 244.82Q547.8 507.6 899.62 531.07Z"/>
<path fill="#C8C8C8" d="M214.34 393L214.35 392.99Q547.8 507.6 844.1 346.02L852.45 341.47L844.11 346.03Q547.8 507.6 214.34 393Z"/>
<path fill="#C8C8C8" d="M493.45 159.21L493.46 159.21Q547.8 507.6 286.08 720.69L278.71 726.68L286.07 720.68Q547.8 507.6 493.45 159.21Z"/>
<path fill="#C8C8C8" d="M872.24 369.51L872.24 369.52Q547.8 507.6 596.63 841.55L598 850.95L596.62 841.55Q547.8 507.6 872.24 369.51Z"/>
<path fill="#C8C8C8" d="M214.35 392.99L214.35 392.98Q547.8 507.6 474.5 178.16L472.44 168.88L474.51 178.15Q547.8 507.6 214.35 392.99Z"/>
<path fill="#C8C8C8" d="M521.21 156L521.22 156Q547.8 507.6 260.91 329.84L252.84 324.83L260.92 329.83Q547.8 507.6 521.21 156Z"/>
<path fill="#C8C8C8" d="M371.7 202.13L371.71 202.12Q547.8 507.6 260.92 329.83L252.84 324.82L260.92 329.82Q547.8 507.6 371.7 202.13Z"/>
<path fill="#C8C8C8" d="M493.46 159.21L493.48 159.21Q547.8 507.6 717.08 799.58L721.84 807.8L717.07 799.58Q547.8 507.6 493.46 159.21Z"/>
<path fill="#C8C8C8" d="M470.63 163.55L470.64 163.55Q547.8 507.6 453.89 183.43L451.25 174.3L453.9 183.43Q547.8 507.6 470.63 163.55Z"/>
<path fill="#C8C8C8" d="M821.61 285.44L821.61 285.45Q547.8 507.6 474.51 178.15L472.45 168.88L474.52 178.15Q547.8 507.6 821.61 285.44Z"/>
<path fill="#C8C8C8" d="M558.69 155.17L558.7 155.17Q547.8 507.6 453.9 183.43L451.26 174.3L453.91 183.42Q547.8 507.6 558.69 155.17Z"/>
<path fill="#C8C8C8" d="M444.89 170.35L444.9 170.35Q547.8 507.6 786.01 268.51L792.71 261.78L786.01 268.52Q547.8 507.6 444.89 170.35Z"/>
<path fill="#C8C8C8" d="M616.04 161.67L616.06 161.67Q547.8 507.6 240.42 368.24L231.77 364.31L240.42 368.23Q547.8 507.6 616.04 161.67Z"/>
<path fill="#C8C8C8" d="M608.36 854.96L608.35 854.96Q547.8 507.6 474.52 178.15L472.46 168.88L474.53 178.15Q547.8 507.6 608.36 854.96Z"/>
<path fill="#C8C8C8" d="M371.71 202.12L371.72 202.11Q547.8 507.6 348.53 780L342.92 787.66L348.53 779.99Q547.8 507.6 371.71 202.12Z"/>
<path fill="#C8C8C8" d="M493.48 159.21L493.49 159.21Q547.8 507.6 348.53 779.99L342.91 787.65L348.52 779.98Q547.8 507.6 493.48 159.21Z"/>
<path fill="#C8C8C8" d="M763.57 228.73L763.58 228.73Q547.8 507.6 240.42 368.23L231.77 364.3L240.43 368.22Q547.8 507.6 763.57 228.73Z"/>
<path fill="#C8C8C8" d="M863.69 664.26L863.68 664.27Q547.8 507.6 336.01 244.82L330.05 237.42L336.02 244.82Q547.8 507.6 863.69 664.26Z"/>
<path fill="#C8C8C8" d="M281.36 276.66L281.36 276.65Q547.8 507.6 763.64 248.14L769.72 240.84L763.65 248.14Q547.8 507.6 281.36 276.66Z"/>
<path fill="#C8C8C8" d="M444.9 170.35L444.91 170.34Q547.8 507.6 497.89 173.81L496.49 164.41L497.9 173.81Q547.8 507.6 444.9 170.35Z"/>
<path fill="#C8C8C8" d="M348.6 216.66L348.61 216.66Q547.8 507.6 527.1 170.74L526.52 161.25L527.11 170.73Q547.8 507.6 348.6 216.66Z"/>
<path fill="#C8C8C8" d="M685.54 832.18L685.53 832.19Q547.8 507.6 527.11 170.73L526.53 161.25L527.12 170.73Q547.8 507.6 685.54 832.18Z"/>
<path fill="#C8C8C8" d="M493.49 159.21L493.5 159.21Q547.8 507.6 662.14 825.14L665.35 834.08L662.13 825.15Q547.8 507.6 493.49 159.21Z"/>
<path fill="#C8C8C8" d="M763.58 228.73L763.58 228.74Q547.8 507.6 260.92 329.82L252.85 324.81L260.93 329.81Q547.8 507.6 763.58 228.73Z"/>
<path fill="#C8C8C8" d="M521.22 156L521.23 156Q547.8 507.6 231.17 390.76L222.26 387.47L231.17 390.75Q547.8 507.6 521.22 156Z"/>
<path fill="#C8C8C8" d="M863.68 664.27L863.68 664.28Q547.8 507.6 474.53 178.15L472.47 168.87L474.54 178.15Q547.8 507.6 863.68 664.27Z"/>
<path fill="#C8C8C8" d="M348.61 216.66L348.61 216.65Q547.8 507.6 786.01 268.52L792.72 261.79L786.02 268.52Q547.8 507.6 348.61 216.66Z"/>
<path fill="#C8C8C8" d="M521.23 156L521.24 156Q547.8 507.6 245.46 657.58L236.94 661.8L245.45 657.57Q547.8 507.6 521.23 156Z"/>
<path fill="#C8C8C8" d="M853.7 332.24L853.7 332.24Q547.8 507.6 336.02 244.82L330.06 237.42L336.02 244.81Q547.8 507.6 853.7 332.24Z"/>
<path fill="#C8C8C8" d="M608.35 854.96L608.34 854.96Q547.8 507.6 240.43 368.22L231.77 364.29L240.43 368.21Q547.8 507.6 608.35 854.96Z"/>
<path fill="#C8C8C8" d="M685.53 832.19L685.52 832.19Q547.8 507.6 240.43 368.21L231.78 364.29L240.43 368.21Q547.8 507.6 685.53 832.19Z"/>
<path fill="#C8C8C8" d="M872.24 369.52L872.24 369.53Q547.8 507.6 336.02 244.81L330.07 237.41L336.03 244.81Q547.8 507.6 872.24 369.52Z"/>
<path fill="#C8C8C8" d="M371.72 202.11L371.72 202.11Q547.8 507.6 824.39 314.2L832.18 308.76L824.4 314.21Q547.8 507.6 371.72 202.11Z"/>
<path fill="#C8C8C8" d="M853.7 332.24L853.71 332.25Q547.8 507.6 497.9 173.81L496.5 164.41L497.91 173.81Q547.8 507.6 853.7 332.24Z"/>
<path fill="#C8C8C8" d="M348.61 216.65L348.62 216.65Q547.8 507.6 240.43 368.21L231.78 364.28L240.43 368.2Q547.8 507.6 348.61 216.65Z"/>
<path fill="#C8C8C8" d="M348.62 216.65L348.63 216.64Q547.8 507.6 474.54 178.15L472.48 168.87L474.55 178.15Q547.8 507.6 348.62 216.65Z"/>
<path fill="#C8C8C8" d="M521.24 156L521.25 156Q547.8 507.6 596.62 841.55L597.99 850.95L596.61 841.55Q547.8 507.6 521.24 156Z"/>
<path fill="#C8C8C8" d="M324.45 234.76L324.46 234.75Q547.8 507.6 596.61 841.55L597.98 850.95L596.61 841.55Q547.8 507.6 324.45 234.76Z"/>
<path fill="#C8C8C8" d="M225.53 364.52L225.54 364.52Q547.8 507.6 453.91 183.42L451.27 174.3L453.91 183.42Q547.8 507.6 225.53 364.52Z"/>
<path fill="#C8C8C8" d="M793.79 254.98L793.79 254.99Q547.8 507.6 260.93 329.81L252.85 324.8L260.93 329.8Q547.8 507.6 793.79 254.98Z"/>
<path fill="#C8C8C8" d="M558.7 155.17L558.71 155.17Q547.8 507.6 861.7 383.61L870.53 380.12L861.7 383.61Q547.8 507.6 558.7 155.17Z"/>
<path fill="#C8C8C8" d="M470.64 163.55L470.65 163.54Q547.8 507.6 585.06 172.16L586.12 162.72L585.07 172.16Q547.8 507.6 470.64 163.55Z"/>
<path fill="#C8C8C8" d="M853.71 332.25L853.71 332.26Q547.8 507.6 245.45 657.57L236.94 661.79L245.45 657.57Q547.8 507.6 853.71 332.25Z"/>
<path fill="#C8C8C8" d="M444.91 170.34L444.92 170.34Q547.8 507.6 844.11 346.03L852.45 341.48L844.11 346.03Q547.8 507.6 444.91 170.34Z"/>
<path fill="#C8C8C8" d="M887.92 414.63L887.92 414.63Q547.8 507.6 240.43 368.2L231.78 364.27L240.44 368.19Q547.8 507.6 887.92 414.63Z"/>
<path fill="#C8C8C8" d="M853.71 332.26L853.71 332.26Q547.8 507.6 240.44 368.19L231.79 364.27L240.44 368.19Q547.8 507.6 853.71 332.26Z"/>
<path fill="#C8C8C8" d="M324.46 234.75L324.46 234.75Q547.8 507.6 786.02 268.52L792.73 261.8L786.02 268.53Q547.8 507.6 324.46 234.75Z"/>
<path fill="#C8C8C8" d="M793.79 254.99L793.8 254.99Q547.8 507.6 360.42 226.9L355.15 218.99L360.42 226.89Q547.8 507.6 793.79 254.99Z"/>
<path fill="#C8C8C8" d="M558.71 155.17L558.72 155.17Q547.8 507.6 231.17 390.75L222.26 387.46L231.17 390.75Q547.8 507.6 558.71 155.17Z"/>
<path fill="#C8C8C8" d="M558.72 155.17L558.72 155.17Q547.8 507.6 596.61 841.55L597.98 850.95L596.6 841.55Q547.8 507.6 558.72 155.17Z"/>
<path fill="#C8C8C8" d="M853.71 332.26L853.72 332.27Q547.8 507.6 474.55 178.15L472.49 168.87L474.55 178.14Q547.8 507.6 853.71 332.26Z"/>
<path fill="#C8C8C8" d="M493.5 159.21L493.5 159.21Q547.8 507.6 879.15 443.48L888.48 441.67L879.15 443.48Q547.8 507.6 493.5 159.21Z"/>
<path fill="#C8C8C8" d="M470.65 163.54L470.66 163.54Q547.8 507.6 879.15 443.48L888.48 441.68L879.15 443.49Q547.8 507.6 470.65 163.54Z"/>
<path fill="#C8C8C8" d="M225.54 364.52L225.54 364.51Q547.8 507.6 360.42 226.89L355.15 218.99L360.43 226.89Q547.8 507.6 225.54 364.52Z"/>
<path fill="#C8C8C8" d="M685.52 832.19L685.52 832.19Q547.8 507.6 474.55 178.14L472.49 168.87L474.56 178.14Q547.8 507.6 685.52 832.19Z"/>
<path fill="#C8C8C8" d="M608.34 854.96L608.34 854.96Q547.8 507.6 336.03 244.81L330.07 237.41L336.03 244.8Q547.8 507.6 608.34 854.96Z"/>
<path fill="#C8C8C8" d="M685.52 832.19L685.51 832.2Q547.8 507.6 379.78 214.89L375.06 206.65L379.79 214.89Q547.8 507.6 685.52 832.19Z"/>
<path fill="#C8C8C8" d="M887.92 414.63L887.92 414.64Q547.8 507.6 527.12 170.73L526.54 161.25L527.12 170.73Q547.8 507.6 887.92 414.63Z"/>
<path fill="#C8C8C8" d="M493.5 159.21L493.51 159.21Q547.8 507.6 453.91 183.42L451.27 174.3L453.92 183.42Q547.8 507.6 493.5 159.21Z"/>
<path fill="#C8C8C8" d="M371.72 202.11L371.73 202.11Q547.8 507.6 791.72 740.85L798.59 747.42L791.72 740.86Q547.8 507.6 371.72 202.11Z"/>
<path fill="#C8C8C8" d="M853.72 332.27L853.72 332.27Q547.8 507.6 360.43 226.89L355.16 218.99L360.43 226.89Q547.8 507.6 853.72 332.27Z"/>
<path fill="#C8C8C8" d="M214.35 392.98L214.35 392.97Q547.8 507.6 596.6 841.55L597.97 850.95L596.6 841.55Q547.8 507.6 214.35 392.98Z"/>
<path fill="#C8C8C8" d="M470.66 163.54L470.66 163.54Q547.8 507.6 763.65 248.14L769.72 240.84L763.65 248.15Q547.8 507.6 470.66 163.54Z"/>
<path fill="#C8C8C8" d="M214.35 392.97L214.35 392.97Q547.8 507.6 379.79 214.89L375.06 206.65L379.79 214.89Q547.8 507.6 214.35 392.97Z"/>
<path fill="#C8C8C8" d="M740.58 802.83L740.57 802.84Q547.8 507.6 474.56 178.14L472.5 168.87L474.56 178.14Q547.8 507.6 740.58 802.83Z"/>
<path fill="#C8C8C8" d="M821.61 285.45L821.62 285.45Q547.8 507.6 231.17 390.75L222.26 387.46L231.18 390.74Q547.8 507.6 821.61 285.45Z"/>
<path fill="#C8C8C8" d="M493.51 159.21L493.51 159.2Q547.8 507.6 844.11 346.03L852.46 341.49L844.12 346.04Q547.8 507.6 493.51 159.21Z"/>
<path fill="#C8C8C8" d="M872.24 369.53L872.25 369.54Q547.8 507.6 379.79 214.89L375.06 206.65L379.8 214.89Q547.8 507.6 872.24 369.53Z"/>
<path fill="#C8C8C8" d="M821.62 285.45L821.62 285.45Q547.8 507.6 527.12 170.73L526.54 161.25L527.13 170.73Q547.8 507.6 821.62 285.45Z"/>
<path fill="#C8C8C8" d="M493.51 159.2L493.52 159.2Q547.8 507.6 360.43 226.89L355.16 218.98L360.44 226.88Q547.8 507.6 493.51 159.2Z"/>
<path fill="#C8C8C8" d="M225.54 364.51L225.54 364.51Q547.8 507.6 717.07 799.58L721.83 807.8L717.07 799.58Q547.8 507.6 225.54 364.51Z"/>
<path fill="#C8C8C8" d="M521.25 156L521.25 156Q547.8 507.6 861.7 383.61L870.54 380.12L861.7 383.62Q547.8 507.6 521.25 156Z"/>
<path fill="#C8C8C8" d="M470.66 163.54L470.67 163.54Q547.8 507.6 360.44 226.88L355.16 218.98L360.44 226.88Q547.8 507.6 470.66 163.54Z"/>
<path fill="#C8C8C8" d="M493.52 159.2L493.52 159.2Q547.8 507.6 861.7 383.62L870.54 380.13L861.7 383.62Q547.8 507.6 493.52 159.2Z"/>
<path fill="#C8C8C8" d="M444.92 170.34L444.92 170.34Q547.8 507.6 231.18 390.74L222.26 387.45L231.18 390.74Q547.8 507.6 444.92 170.34Z"/>
<path fill="#C8C8C8" d="M444.92 170.34L444.93 170.34Q547.8 507.6 379.8 214.89L375.07 206.65L379.8 214.88Q547.8 507.6 444.92 170.34Z"/>
<path fill="#C8C8C8" d="M521.25 156L521.26 156Q547.8 507.6 844.12 346.04L852.46 341.49L844.12 346.04Q547.8 507.6 521.25 156Z"/>
<path fill="#C8C8C8" d="M470.67 163.54L470.67 163.54Q547.8 507.6 527.13 170.73L526.55 161.25L527.13 170.73Q547.8 507.6 470.67 163.54Z"/>
<path fill="#C8C8C8" d="M887.92 414.64L887.93 414.64Q547.8 507.6 474.56 178.14L472.5 168.87L474.57 178.14Q547.8 507.6 887.92 414.64Z"/>
<path fill="#C8C8C8" d="M225.54 364.51L225.54 364.5Q547.8 507.6 527.13 170.73L526.55 161.25L527.13 170.73Q547.8 507.6 225.54 364.51Z"/>
<path fill="#C8C8C8" d="M793.8 254.99L793.8 254.99Q547.8 507.6 717.07 799.58L721.83 807.8L717.06 799.59Q547.8 507.6 793.8 254.99Z"/>
<path fill="#C8C8C8" d="M493.52 159.2L493.52 159.2Q547.8 507.6 763.65 248.15L769.73 240.85L763.65 248.15Q547.8 507.6 493.52 159.2Z"/>
<path fill="#C8C8C8" d="M821.62 285.45L821.62 285.46Q547.8 507.6 240.44 368.19L231.79 364.26L240.44 368.18Q547.8 507.6 821.62 285.45Z"/>
<path fill="#C8C8C8" d="M371.73 202.11L371.73 202.11Q547.8 507.6 527.13 170.73L526.55 161.25L527.14 170.73Q547.8 507.6 371.73 202.11Z"/>
<path fill="#C8C8C8" d="M324.46 234.75L324.47 234.75Q547.8 507.6 861.7 383.62L870.54 380.13L861.7 383.62Q547.8 507.6 324.46 234.75Z"/>
<path fill="#C8C8C8" d="M225.54 364.5L225.54 364.5Q547.8 507.6 245.45 657.57L236.94 661.79L245.45 657.56Q547.8 507.6 225.54 364.5Z"/>
<path fill="#C8C8C8" d="M493.52 159.2L493.53 159.2Q547.8 507.6 875.85 586.9L885.09 589.13L875.85 586.9Q547.8 507.6 493.52 159.2Z"/>
<path fill="#C8C8C8" d="M493.53 159.2L493.53 159.2Q547.8 507.6 231.18 390.74L222.27 387.45L231.18 390.74Q547.8 507.6 493.53 159.2Z"/>
<path fill="#C8C8C8" d="M371.73 202.11L371.74 202.1Q547.8 507.6 875.85 586.9L885.09 589.13L875.85 586.9Q547.8 507.6 371.73 202.11Z"/>
<path fill="#C8C8C8" d="M371.74 202.1L371.74 202.1Q547.8 507.6 763.65 248.15L769.73 240.85L763.65 248.15Q547.8 507.6 371.74 202.1Z"/>
<path fill="#C8C8C8" d="M821.62 285.46L821.63 285.46Q547.8 507.6 596.6 841.55L597.97 850.95L596.59 841.55Q547.8 507.6 821.62 285.46Z"/>
<path fill="#C8C8C8" d="M872.25 369.54L872.25 369.54Q547.8 507.6 240.44 368.18L231.79 364.26L240.44 368.18Q547.8 507.6 872.25 369.54Z"/>
<path fill="#C8C8C8" d="M348.63 216.64L348.63 216.64Q547.8 507.6 596.59 841.55L597.96 850.95L596.59 841.55Q547.8 507.6 348.63 216.64Z"/>
<path fill="#C8C8C8" d="M225.54 364.5L225.54 364.5Q547.8 507.6 786.02 268.53L792.73 261.8L786.03 268.53Q547.8 507.6 225.54 364.5Z"/>
<path fill="#C8C8C8" d="M225.54 364.5L225.55 364.49Q547.8 507.6 336.03 244.8L330.08 237.41L336.04 244.8Q547.8 507.6 225.54 364.5Z"/>
<path fill="#C8C8C8" d="M371.74 202.1L371.74 202.1Q547.8 507.6 861.7 383.62L870.54 380.14L861.71 383.63Q547.8 507.6 371.74 202.1Z"/>
<path fill="#C8C8C8" d="M470.67 163.54L470.67 163.54Q547.8 507.6 497.91 173.81L496.5 164.41L497.91 173.81Q547.8 507.6 470.67 163.54Z"/>
<path fill="#C8C8C8" d="M225.55 364.49L225.55 364.49Q547.8 507.6 861.71 383.63L870.54 380.14L861.71 383.63Q547.8 507.6 225.55 364.49Z"/>
<path fill="#C8C8C8" d="M371.74 202.1L371.74 202.1Q547.8 507.6 245.45 657.56L236.94 661.78L245.45 657.56Q547.8 507.6 371.74 202.1Z"/>
<path fill="#C8C8C8" d="M324.47 234.75L324.47 234.75Q547.8 507.6 474.57 178.14L472.51 168.87L474.57 178.14Q547.8 507.6 324.47 234.75Z"/>
<path fill="#C8C8C8" d="M444.93 170.34L444.93 170.34Q547.8 507.6 596.59 841.55L597.96 850.96L596.59 841.56Q547.8 507.6 444.93 170.34Z"/>
<path fill="#C8C8C8" d="M763.58 228.74L763.59 228.74Q547.8 507.6 474.57 178.14L472.51 168.87L474.57 178.14Q547.8 507.6 763.58 228.74Z"/>
<path fill="#C8C8C8" d="M470.67 163.54L470.68 163.54Q547.8 507.6 336.04 244.8L330.08 237.4L336.04 244.8Q547.8 507.6 470.67 163.54Z"/>
<path fill="#C8C8C8" d="M793.8 254.99L793.8 255Q547.8 507.6 453.92 183.42L451.28 174.29L453.92 183.42Q547.8 507.6 793.8 254.99Z"/>
<path fill="#C8C8C8" d="M371.74 202.1L371.75 202.1Q547.8 507.6 497.91 173.81L496.51 164.41L497.91 173.81Q547.8 507.6 371.74 202.1Z"/>
<path fill="#C8C8C8" d="M470.68 163.54L470.68 163.54Q547.8 507.6 596.59 841.56L597.96 850.96L596.58 841.56Q547.8 507.6 470.68 163.54Z"/>
<path fill="#C8C8C8" d="M371.75 202.1L371.75 202.1Q547.8 507.6 336.04 244.8L330.08 237.4L336.04 244.8Q547.8 507.6 371.75 202.1Z"/>
<path fill="#C8C8C8" d="M493.53 159.2L493.54 159.2Q547.8 507.6 786.03 268.53L792.73 261.8L786.03 268.53Q547.8 507.6 493.53 159.2Z"/>
<path fill="#C8C8C8" d="M371.75 202.1L371.75 202.09Q547.8 507.6 786.03 268.53L792.74 261.8L786.03 268.53Q547.8 507.6 371.75 202.1Z"/>
<path fill="#C8C8C8" d="M821.63 285.46L821.63 285.46Q547.8 507.6 336.04 244.8L330.08 237.4L336.04 244.8Q547.8 507.6 821.63 285.46Z"/>
<path fill="#C8C8C8" d="M470.68 163.54L470.68 163.54Q547.8 507.6 662.13 825.15L665.34 834.08L662.12 825.15Q547.8 507.6 470.68 163.54Z"/>
<path fill="#C8C8C8" d="M793.8 255L793.81 255Q547.8 507.6 336.04 244.8L330.08 237.4L336.05 244.8Q547.8 507.6 793.8 255Z"/>
<path fill="#C8C8C8" d="M348.63 216.64L348.63 216.64Q547.8 507.6 379.8 214.88L375.07 206.64L379.8 214.88Q547.8 507.6 348.63 216.64Z"/>
<path fill="#C8C8C8" d="M371.75 202.09L371.75 202.09Q547.8 507.6 231.18 390.74L222.27 387.45L231.18 390.73Q547.8 507.6 371.75 202.09Z"/>
<path fill="#C8C8C8" d="M793.81 255L793.81 255Q547.8 507.6 231.18 390.73L222.27 387.44L231.18 390.73Q547.8 507.6 793.81 255Z"/>
<path fill="#C8C8C8" d="M872.25 369.54L872.25 369.54Q547.8 507.6 360.44 226.88L355.17 218.98L360.44 226.88Q547.8 507.6 872.25 369.54Z"/>
<path fill="#C8C8C8" d="M470.68 163.54L470.68 163.54Q547.8 507.6 861.71 383.63L870.54 380.14L861.71 383.63Q547.8 507.6 470.68 163.54Z"/>
<path fill="#C8C8C8" d="M470.68 163.54L470.69 163.54Q547.8 507.6 231.18 390.73L222.27 387.44L231.18 390.73Q547.8 507.6 470.68 163.54Z"/>
<path fill="#C8C8C8" d="M371.75 202.09L371.76 202.09Q547.8 507.6 879.15 443.49L888.48 441.68L879.15 443.49Q547.8 507.6 371.75 202.09Z"/>
<path fill="#C8C8C8" d="M225.55 364.49L225.55 364.49Q547.8 507.6 497.91 173.81L496.51 164.41L497.91 173.81Q547.8 507.6 225.55 364.49Z"/>
<path fill="#C8C8C8" d="M493.54 159.2L493.54 159.2Q547.8 507.6 474.57 178.14L472.51 168.87L474.57 178.14Q547.8 507.6 493.54 159.2Z"/>
<path fill="#C8C8C8" d="M225.55 364.49L225.55 364.49Q547.8 507.6 879.15 443.49L888.48 441.69L879.16 443.49Q547.8 507.6 225.55 364.49Z"/>
<path fill="#C8C8C8" d="M470.69 163.54L470.69 163.54Q547.8 507.6 379.8 214.88L375.07 206.64L379.8 214.88Q547.8 507.6 470.69 163.54Z"/>
<path fill="#C8C8C8" d="M793.81 255L793.81 255Q547.8 507.6 474.57 178.14L472.51 168.87L474.58 178.14Q547.8 507.6 793.81 255Z"/>
<path fill="#C8C8C8" d="M470.69 163.54L470.69 163.53Q547.8 507.6 786.03 268.53L792.74 261.81L786.03 268.54Q547.8 507.6 470.69 163.54Z"/>
<path fill="#C8C8C8" d="M616.06 161.67L616.06 161.67Q547.8 507.6 596.58 841.56L597.96 850.96L596.58 841.56Q547.8 507.6 616.06 161.67Z"/>
<path fill="#C8C8C8" d="M470.69 163.53L470.69 163.53Q547.8 507.6 717.06 799.59L721.83 807.81L717.06 799.59Q547.8 507.6 470.69 163.53Z"/>
<path fill="#C8C8C8" d="M371.76 202.09L371.76 202.09Q547.8 507.6 453.92 183.42L451.28 174.29L453.92 183.42Q547.8 507.6 371.76 202.09Z"/>
<path fill="#C8C8C8" d="M371.76 202.09L371.76 202.09Q547.8 507.6 717.06 799.59L721.82 807.81L717.06 799.59Q547.8 507.6 371.76 202.09Z"/>
<path fill="#C8C8C8" d="M887.93 414.64L887.93 414.64Q547.8 507.6 379.8 214.88L375.08 206.64L379.8 214.88Q547.8 507.6 887.93 414.64Z"/>
<path fill="#C8C8C8" d="M225.55 364.49L225.55 364.49Q547.8 507.6 474.58 178.14L472.51 168.87L474.58 178.14Q547.8 507.6 225.55 364.49Z"/>
<path fill="#C8C8C8" d="M608.34 854.96L608.34 854.96Q547.8 507.6 379.8 214.88L375.08 206.64L379.81 214.88Q547.8 507.6 608.34 854.96Z"/>
<path fill="#C8C8C8" d="M521.26 156L521.26 156Q547.8 507.6 379.81 214.88L375.08 206.64L379.81 214.88Q547.8 507.6 521.26 156Z"/>
<path fill="#C8C8C8" d="M558.72 155.17L558.72 155.17Q547.8 507.6 379.81 214.88L375.08 206.64L379.81 214.88Q547.8 507.6 558.72 155.17Z"/>
<path fill="#C8C8C8" d="M863.68 664.28L863.68 664.28Q547.8 507.6 379.81 214.88L375.08 206.64L379.81 214.88Q547.8 507.6 863.68 664.28Z"/>
<path fill="#C8C8C8" d="M763.59 228.74L763.59 228.74Q547.8 507.6 379.81 214.88L375.08 206.64L379.81 214.88Q547.8 507.6 763.59 228.74Z"/>
<path fill="#C8C8C8" d="M225.55 364.49L225.55 364.48Q547.8 507.6 596.58 841.56L597.95 850.96L596.58 841.56Q547.8 507.6 225.55 364.49Z"/>
<path fill="#C8C8C8" d="M225.55 364.48L225.55 364.48Q547.8 507.6 379.81 214.88L375.08 206.64L379.81 214.88Q547.8 507.6 225.55 364.48Z"/>
<path fill="#C8C8C8" d="M793.81 255L793.81 255Q547.8 507.6 596.58 841.56L597.95 850.96L596.58 841.56Q547.8 507.6 793.81 255Z"/>
<path fill="#C8C8C8" d="M371.76 202.09L371.76 202.09Q547.8 507.6 474.58 178.14L472.52 168.87L474.58 178.14Q547.8 507.6 371.76 202.09Z"/>
<path fill="#C8C8C8" d="M470.69 163.53L470.69 163.53Q547.8 507.6 844.12 346.04L852.46 341.49L844.12 346.04Q547.8 507.6 470.69 163.53Z"/>
<path fill="#C8C8C8" d="M853.72 332.27L853.72 332.27Q547.8 507.6 379.81 214.88L375.08 206.64L379.81 214.88Q547.8 507.6 853.72 332.27Z"/>
<path fill="#C8C8C8" d="M225.55 364.48L225.55 364.48Q547.8 507.6 763.65 248.15L769.73 240.85L763.66 248.15Q547.8 507.6 225.55 364.48Z"/>
<path fill="#C8C8C8" d="M616.06 161.67L616.06 161.67Q547.8 507.6 379.81 214.88L375.09 206.64L379.81 214.88Q547.8 507.6 616.06 161.67Z"/>
<path fill="#C8C8C8" d="M872.25 369.54L872.25 369.54Q547.8 507.6 474.58 178.14L472.52 168.86L474.58 178.14Q547.8 507.6 872.25 369.54Z"/>
<path fill="#C8C8C8" d="M493.54 159.2L493.54 159.2Q547.8 507.6 240.44 368.18L231.79 364.26L240.44 368.18Q547.8 507.6 493.54 159.2Z"/>
<path fill="#C8C8C8" d="M821.63 285.46L821.63 285.46Q547.8 507.6 379.81 214.88L375.09 206.64L379.82 214.88Q547.8 507.6 821.63 285.46Z"/>
<path fill="#C8C8C8" d="M493.54 159.2L493.54 159.2Q547.8 507.6 245.45 657.56L236.93 661.78L245.44 657.56Q547.8 507.6 493.54 159.2Z"/>
<path fill="#C8C8C8" d="M225.55 364.48L225.55 364.48Q547.8 507.6 844.12 346.04L852.46 341.49L844.12 346.04Q547.8 507.6 225.55 364.48Z"/>
<path fill="#C8C8C8" d="M371.76 202.09L371.76 202.09Q547.8 507.6 240.44 368.18L231.79 364.25L240.44 368.18Q547.8 507.6 371.76 202.09Z"/>
<path fill="#C8C8C8" d="M793.81 255L793.81 255Q547.8 507.6 240.44 368.18L231.79 364.25L240.44 368.18Q547.8 507.6 793.81 255Z"/>
<path fill="#C8C8C8" d="M371.76 202.09L371.76 202.09Q547.8 507.6 662.12 825.15L665.34 834.09L662.12 825.15Q547.8 507.6 371.76 202.09Z"/>
<path fill="#C8C8C8" d="M493.54 159.2L493.54 159.2Q547.8 507.6 596.58 841.56L597.95 850.96L596.58 841.56Q547.8 507.6 493.54 159.2Z"/>
<path fill="#C8C8C8" d="M371.76 202.09L371.76 202.09Q547.8 507.6 844.12 346.04L852.46 341.49L844.12 346.04Q547.8 507.6 371.76 202.09Z"/>
<path fill="#C8C8C8" d="M470.69 163.53L470.69 163.53Q547.8 507.6 240.44 368.18L231.79 364.25L240.44 368.18Q547.8 507.6 470.69 163.53Z"/>
<path fill="#C8C8C8" d="M493.54 159.2L493.54 159.2Q547.8 507.6 379.82 214.88L375.09 206.64L379.82 214.88Q547.8 507.6 493.54 159.2Z"/>
<path fill="#C8C8C8" d="M371.76 202.09L371.76 202.09Q547.8 507.6 596.58 841.56L597.95 850.96L596.58 841.56Q547.8 507.6 371.76 202.09Z"/>
<path fill="#C8C8C8" d="M793.81 255L793.81 255Q547.8 507.6 379.82 214.88L375.09 206.64L379.82 214.88Q547.8 507.6 793.81 255Z"/>
</g>
<g stroke="#808080" stroke-width="1.8" stroke-linejoin="miter">
<path fill="#F0B1CD" d="M547.8 135.9 A371.7 371.7 0 0 1 588.85 138.17 L586.89 155.77 A354 354 0 0 0 547.8 153.6 Z"/>
<path fill="#E6627B" d="M611.58 141.41 A371.7 371.7 0 0 1 643.06 148.31 L638.53 165.42 A354 354 0 0 0 608.54 158.85 Z"/>
<path fill="#C2E0B4" d="M665.13 154.9 A371.7 371.7 0 0 1 748.44 194.71 L738.89 209.61 A354 354 0 0 0 659.54 171.7 Z"/>
<path fill="#57BE74" d="M769.16 209 A371.7 371.7 0 0 1 785.53 221.86 L774.21 235.47 A354 354 0 0 0 758.62 223.22 Z"/>
<path fill="#F6CCA3" d="M804.84 239.1 A371.7 371.7 0 0 1 810.17 244.31 L797.68 256.85 A354 354 0 0 0 792.6 251.88 Z"/>
<path fill="#F5A65B" d="M827.39 262.67 A371.7 371.7 0 0 1 852.43 294.61 L837.92 304.76 A354 354 0 0 0 814.07 274.33 Z"/>
<path fill="#C6C7E5" d="M866.07 315.6 A371.7 371.7 0 0 1 874.15 329.67 L858.61 338.14 A354 354 0 0 0 850.92 324.75 Z"/>
<path fill="#7C84C6" d="M885.95 353.28 A371.7 371.7 0 0 1 893.52 371.07 L877.05 377.57 A354 354 0 0 0 869.85 360.63 Z"/>
<path fill="#F8EEA7" d="M901.61 393.66 A371.7 371.7 0 0 1 912.73 436.99 L895.35 440.36 A354 354 0 0 0 884.76 399.09 Z"/>
<path fill="#FBE66C" d="M916.63 461.46 A371.7 371.7 0 0 1 909.09 594.94 L891.89 590.78 A354 354 0 0 0 899.06 463.66 Z"/>
<path fill="#B1DDF6" d="M903.05 616.96 A371.7 371.7 0 0 1 816.44 764.49 L803.64 752.26 A354 354 0 0 0 886.13 611.75 Z"/>
<path fill="#3BB5E7" d="M799.92 780.72 A371.7 371.7 0 0 1 734.21 829.18 L725.33 813.86 A354 354 0 0 0 787.91 767.72 Z"/>
<path fill="#F0B1CD" d="M713.88 840.13 A371.7 371.7 0 0 1 673.71 857.33 L667.71 840.67 A354 354 0 0 0 705.98 824.3 Z"/>
<path fill="#E6627B" d="M650.88 864.72 A371.7 371.7 0 0 1 601.52 875.4 L598.96 857.88 A354 354 0 0 0 645.97 847.72 Z"/>
<path fill="#C2E0B4" d="M577.61 878.1 A371.7 371.7 0 0 1 456.3 867.86 L460.66 850.71 A354 354 0 0 0 576.19 860.46 Z"/>
<path fill="#57BE74" d="M434.61 861.65 A371.7 371.7 0 0 1 328.32 807.59 L338.78 793.3 A354 354 0 0 0 440 844.79 Z"/>
<path fill="#F6CCA3" d="M309.12 792.55 A371.7 371.7 0 0 1 259.55 742.27 L273.27 731.1 A354 354 0 0 0 320.49 778.98 Z"/>
<path fill="#F5A65B" d="M244.14 721.97 A371.7 371.7 0 0 1 214.81 672.75 L230.66 664.89 A354 354 0 0 0 258.6 711.76 Z"/>
<path fill="#C6C7E5" d="M204.64 650.44 A371.7 371.7 0 0 1 185.14 426.14 L202.41 430.02 A354 354 0 0 0 220.98 643.64 Z"/>
<path fill="#7C84C6" d="M190.88 403.84 A371.7 371.7 0 0 1 199.1 378.89 L215.7 385.02 A354 354 0 0 0 207.87 408.78 Z"/>
<path fill="#F8EEA7" d="M207.58 357.9 A371.7 371.7 0 0 1 209.3 354.05 L225.42 361.36 A354 354 0 0 0 223.78 365.03 Z"/>
<path fill="#FBE66C" d="M220.83 330.81 A371.7 371.7 0 0 1 231.86 311.79 L246.91 321.11 A354 354 0 0 0 236.4 339.23 Z"/>
<path fill="#B1DDF6" d="M246.29 290.22 A371.7 371.7 0 0 1 287.97 241.8 L300.34 254.46 A354 354 0 0 0 260.65 300.58 Z"/>
<path fill="#3BB5E7" d="M305.02 226.14 A371.7 371.7 0 0 1 314.59 218.16 L325.69 231.95 A354 354 0 0 0 316.58 239.54 Z"/>
<path fill="#F0B1CD" d="M333.12 204.17 A371.7 371.7 0 0 1 341.46 198.43 L351.28 213.16 A354 354 0 0 0 343.34 218.62 Z"/>
<path fill="#E6627B" d="M361.95 185.7 A371.7 371.7 0 0 1 362.79 185.21 L371.6 200.56 A354 354 0 0 0 370.8 201.03 Z"/>
<path fill="#C2E0B4" d="M383.58 174.15 A371.7 371.7 0 0 1 411.81 161.67 L418.29 178.14 A354 354 0 0 0 391.4 190.03 Z"/>
<path fill="#57BE74" d="M433.86 153.79 A371.7 371.7 0 0 1 444.41 150.57 L449.33 167.57 A354 354 0 0 0 439.29 170.64 Z"/>
<path fill="#F6CCA3" d="M465.89 145.04 A371.7 371.7 0 0 1 467.16 144.75 L471 162.03 A354 354 0 0 0 469.79 162.3 Z"/>
<path fill="#F5A65B" d="M489.65 140.48 A371.7 371.7 0 0 1 492.86 139.98 L495.48 157.49 A354 354 0 0 0 492.42 157.96 Z"/>
<path fill="#C6C7E5" d="M516.63 137.21 A371.7 371.7 0 0 1 525.04 136.6 L526.13 154.26 A354 354 0 0 0 518.12 154.85 Z"/>
</g>
<g stroke="#808080" fill="none" stroke-linecap="round">
<path stroke-width="3.6" stroke-linecap="butt" d="M547.8 135.9 A371.7 371.7 0 0 1 588.85 138.17"/>
<path stroke-width="2.6" d="M547.8 135.9 L547.8 130.1M563.69 136.24 L563.81 133.44M579.55 137.26 L579.79 134.47"/>
<path stroke-width="3.6" stroke-linecap="butt" d="M611.58 141.41 A371.7 371.7 0 0 1 643.06 148.31"/>
<path stroke-width="2.6" d="M611.58 141.41 L612.57 135.7M627.17 144.47 L627.77 141.74M642.62 148.2 L643.34 145.49"/>
<path stroke-width="3.6" stroke-linecap="butt" d="M665.13 154.9 A371.7 371.7 0 0 1 748.44 194.71"/>
<path stroke-width="2.6" d="M665.13 154.9 L666.96 149.4M680.1 160.24 L681.09 157.62M694.82 166.21 L695.93 163.64M709.28 172.81 L710.5 170.29M723.45 180.02 L726.19 174.91M737.29 187.83 L738.72 185.42"/>
<path stroke-width="3.6" stroke-linecap="butt" d="M769.16 209 A371.7 371.7 0 0 1 785.53 221.86"/>
<path stroke-width="2.6" d="M769.16 209 L772.61 204.34M781.72 218.73 L783.48 216.56"/>
<path stroke-width="3.6" stroke-linecap="butt" d="M804.84 239.1 A371.7 371.7 0 0 1 810.17 244.31"/>
<path stroke-width="2.6" d="M804.84 239.1 L808.85 234.91"/>
<path stroke-width="3.6" stroke-linecap="butt" d="M827.39 262.67 A371.7 371.7 0 0 1 852.43 294.61"/>
<path stroke-width="2.6" d="M827.39 262.67 L831.75 258.85M837.6 274.84 L839.78 273.09M847.29 287.44 L849.54 285.79"/>
<path stroke-width="3.6" stroke-linecap="butt" d="M866.07 315.6 A371.7 371.7 0 0 1 874.15 329.67"/>
<path stroke-width="2.6" d="M866.07 315.6 L871.04 312.61M873.99 329.39 L876.45 328.04"/>
<path stroke-width="3.6" stroke-linecap="butt" d="M885.95 353.28 A371.7 371.7 0 0 1 893.52 371.07"/>
<path stroke-width="2.6" d="M885.95 353.28 L891.23 350.87M892.24 367.88 L894.83 366.83"/>
<path stroke-width="3.6" stroke-linecap="butt" d="M901.61 393.66 A371.7 371.7 0 0 1 912.73 436.99"/>
<path stroke-width="2.6" d="M901.61 393.66 L907.13 391.89M906.15 408.89 L908.85 408.15M910.05 424.3 L912.77 423.67"/>
<path stroke-width="3.6" stroke-linecap="butt" d="M916.63 461.46 A371.7 371.7 0 0 1 909.09 594.94"/>
<path stroke-width="2.6" d="M916.63 461.46 L922.38 460.74M918.26 477.27 L921.05 477.04M919.22 493.14 L922.02 493.03M919.5 509.03 L922.3 509.04M919.1 524.92 L924.89 525.19M918.02 540.77 L920.81 541.02M916.26 556.57 L919.04 556.94M913.83 572.27 L916.59 572.76M910.73 587.86 L916.39 589.11"/>
<path stroke-width="3.6" stroke-linecap="butt" d="M903.05 616.96 A371.7 371.7 0 0 1 816.44 764.49"/>
<path stroke-width="2.6" d="M903.05 616.96 L908.59 618.66M898.05 632.04 L900.69 632.98M892.41 646.9 L895.01 647.95M886.14 661.51 L888.69 662.66M879.25 675.83 L884.42 678.45M871.76 689.84 L874.2 691.22M863.67 703.52 L866.05 705M855.01 716.85 L857.32 718.42M845.78 729.79 L850.43 733.26M836.01 742.32 L838.18 744.09M825.71 754.43 L827.81 756.29"/>
<path stroke-width="3.6" stroke-linecap="butt" d="M799.92 780.72 A371.7 371.7 0 0 1 734.21 829.18"/>
<path stroke-width="2.6" d="M799.92 780.72 L803.85 784.99M788.01 791.25 L789.82 793.39M775.67 801.26 L777.39 803.47M762.91 810.73 L764.53 813.02M749.75 819.65 L752.9 824.52M736.23 828 L737.65 830.41"/>
<path stroke-width="3.6" stroke-linecap="butt" d="M713.88 840.13 A371.7 371.7 0 0 1 673.71 857.33"/>
<path stroke-width="2.6" d="M713.88 840.13 L716.48 845.32M699.52 846.93 L700.66 849.48M684.87 853.1 L685.91 855.7"/>
<path stroke-width="3.6" stroke-linecap="butt" d="M650.88 864.72 A371.7 371.7 0 0 1 601.52 875.4"/>
<path stroke-width="2.6" d="M650.88 864.72 L652.49 870.29M635.52 868.8 L636.18 871.52M620 872.22 L620.54 874.97M604.34 874.97 L604.77 877.74"/>
<path stroke-width="3.6" stroke-linecap="butt" d="M577.61 878.1 A371.7 371.7 0 0 1 456.3 867.86"/>
<path stroke-width="2.6" d="M577.61 878.1 L578.08 883.88M561.74 879.04 L561.85 881.84M545.85 879.29 L545.84 882.09M529.97 878.87 L529.83 881.67M514.11 877.77 L513.59 883.55M498.32 875.99 L497.95 878.77M482.62 873.54 L482.13 876.3M467.03 870.42 L466.42 873.15"/>
<path stroke-width="3.6" stroke-linecap="butt" d="M434.61 861.65 A371.7 371.7 0 0 1 328.32 807.59"/>
<path stroke-width="2.6" d="M434.61 861.65 L432.84 867.17M419.57 856.48 L418.61 859.11M404.78 850.68 L403.7 853.27M390.24 844.25 L389.06 846.79M376 837.21 L373.31 842.36M362.06 829.57 L360.66 831.99M348.47 821.33 L346.97 823.7M335.24 812.52 L333.64 814.82"/>
<path stroke-width="3.6" stroke-linecap="butt" d="M309.12 792.55 A371.7 371.7 0 0 1 259.55 742.27"/>
<path stroke-width="2.6" d="M309.12 792.55 L305.4 796.99M297.16 782.08 L295.27 784.15M285.66 771.12 L283.68 773.1M274.63 759.67 L272.57 761.57M264.11 747.76 L259.68 751.51"/>
<path stroke-width="3.6" stroke-linecap="butt" d="M244.14 721.97 A371.7 371.7 0 0 1 214.81 672.75"/>
<path stroke-width="2.6" d="M244.14 721.97 L239.4 725.31M235.26 708.79 L232.9 710.3M226.94 695.24 L224.52 696.66M219.21 681.36 L216.74 682.67"/>
<path stroke-width="3.6" stroke-linecap="butt" d="M204.64 650.44 A371.7 371.7 0 0 1 185.14 426.14"/>
<path stroke-width="2.6" d="M204.64 650.44 L199.29 652.67M198.85 635.64 L196.22 636.61M193.7 620.61 L191.03 621.46M189.19 605.37 L186.49 606.11M185.34 589.95 L179.68 591.23M182.15 574.38 L179.39 574.88M179.63 558.69 L176.85 559.07M177.78 542.9 L174.99 543.17M176.61 527.05 L170.82 527.36M176.12 511.17 L173.32 511.19M176.3 495.28 L173.51 495.18M177.17 479.41 L174.38 479.19M178.71 463.59 L172.96 462.9M180.93 447.85 L178.17 447.4M183.82 432.22 L181.08 431.66"/>
<path stroke-width="3.6" stroke-linecap="butt" d="M190.88 403.84 A371.7 371.7 0 0 1 199.1 378.89"/>
<path stroke-width="2.6" d="M190.88 403.84 L185.31 402.22M195.64 388.67 L192.99 387.78"/>
<path stroke-width="3.6" stroke-linecap="butt" d="M207.58 357.9 A371.7 371.7 0 0 1 209.3 354.05"/>
<path stroke-width="2.6" d="M207.58 357.9 L202.27 355.56"/>
<path stroke-width="3.6" stroke-linecap="butt" d="M220.83 330.81 A371.7 371.7 0 0 1 231.86 311.79"/>
<path stroke-width="2.6" d="M220.83 330.81 L215.73 328.05M228.69 317 L226.29 315.56"/>
<path stroke-width="3.6" stroke-linecap="butt" d="M246.29 290.22 A371.7 371.7 0 0 1 287.97 241.8"/>
<path stroke-width="2.6" d="M246.29 290.22 L241.58 286.83M255.86 277.53 L253.66 275.8M265.96 265.26 L263.84 263.44M276.58 253.44 L274.53 251.52M287.69 242.08 L283.63 237.93"/>
<path stroke-width="3.6" stroke-linecap="butt" d="M305.02 226.14 A371.7 371.7 0 0 1 314.59 218.16"/>
<path stroke-width="2.6" d="M305.02 226.14 L301.23 221.75"/>
<path stroke-width="3.6" stroke-linecap="butt" d="M333.12 204.17 A371.7 371.7 0 0 1 341.46 198.43"/>
<path stroke-width="2.6" d="M333.12 204.17 L329.77 199.43"/>
<path stroke-width="3.6" stroke-linecap="butt" d="M361.95 185.7 A371.7 371.7 0 0 1 362.79 185.21"/>
<path stroke-width="2.6" d="M361.95 185.7 L359.05 180.68"/>
<path stroke-width="3.6" stroke-linecap="butt" d="M383.58 174.15 A371.7 371.7 0 0 1 411.81 161.67"/>
<path stroke-width="2.6" d="M383.58 174.15 L381.01 168.94M397.98 167.43 L396.85 164.87"/>
<path stroke-width="3.6" stroke-linecap="butt" d="M433.86 153.79 A371.7 371.7 0 0 1 444.41 150.57"/>
<path stroke-width="2.6" d="M433.86 153.79 L432.09 148.27"/>
<path stroke-width="3.6" stroke-linecap="butt" d="M465.89 145.04 A371.7 371.7 0 0 1 467.16 144.75"/>
<path stroke-width="2.6" d="M465.89 145.04 L464.62 139.38"/>
<path stroke-width="3.6" stroke-linecap="butt" d="M489.65 140.48 A371.7 371.7 0 0 1 492.86 139.98"/>
<path stroke-width="2.6" d="M489.65 140.48 L488.75 134.75"/>
<path stroke-width="3.6" stroke-linecap="butt" d="M516.63 137.21 A371.7 371.7 0 0 1 525.04 136.6"/>
<path stroke-width="2.6" d="M516.63 137.21 L516.15 131.43"/>
</g>
<g font-family="'Liberation Sans', Arial, sans-serif" fill="#000" stroke="#000" stroke-width="0.45">
<g font-size="21">
<text transform="translate(547.8 113.1) rotate(0)" text-anchor="middle" dy="0.36em">0</text>
<text transform="translate(615.49 118.95) rotate(9.88)" text-anchor="middle" dy="0.36em">0</text>
<text transform="translate(672.32 133.27) rotate(18.4)" text-anchor="middle" dy="0.36em">0</text>
<text transform="translate(734.22 159.93) rotate(28.2)" text-anchor="middle" dy="0.36em">400</text>
<text transform="translate(782.73 190.68) rotate(36.55)" text-anchor="middle" dy="0.36em">0</text>
<text transform="translate(820.6 222.63) rotate(43.75)" text-anchor="middle" dy="0.36em">0</text>
<text transform="translate(844.54 247.64) rotate(48.78)" text-anchor="middle" dy="0.36em">0</text>
<text transform="translate(885.6 303.83) rotate(58.9)" text-anchor="middle" dy="0.36em">0</text>
<text transform="translate(906.69 343.82) rotate(65.47)" text-anchor="middle" dy="0.36em">0</text>
<text transform="translate(923.31 386.68) rotate(72.15)" text-anchor="middle" dy="0.36em">0</text>
<text transform="translate(939.25 458.63) rotate(82.87)" text-anchor="middle" dy="0.36em">0</text>
<text transform="translate(941.87 525.98) rotate(-87.33)" text-anchor="middle" dy="0.36em">400</text>
<text transform="translate(932.99 592.78) rotate(-77.53)" text-anchor="middle" dy="0.36em">800</text>
<text transform="translate(924.84 623.66) rotate(-72.89)" text-anchor="middle" dy="0.36em">0</text>
<text transform="translate(899.58 686.15) rotate(-63.09)" text-anchor="middle" dy="0.36em">400</text>
<text transform="translate(864.06 743.42) rotate(-53.29)" text-anchor="middle" dy="0.36em">800</text>
<text transform="translate(815.38 797.48) rotate(-42.71)" text-anchor="middle" dy="0.36em">0</text>
<text transform="translate(762.14 838.79) rotate(-32.91)" text-anchor="middle" dy="0.36em">400</text>
<text transform="translate(724.07 860.53) rotate(-26.54)" text-anchor="middle" dy="0.36em">0</text>
<text transform="translate(657.2 886.63) rotate(-16.1)" text-anchor="middle" dy="0.36em">0</text>
<text transform="translate(579.44 900.83) rotate(-4.6)" text-anchor="middle" dy="0.36em">0</text>
<text transform="translate(512.05 900.48) rotate(5.2)" text-anchor="middle" dy="0.36em">400</text>
<text transform="translate(427.66 883.36) rotate(17.73)" text-anchor="middle" dy="0.36em">0</text>
<text transform="translate(365.46 857.43) rotate(27.53)" text-anchor="middle" dy="0.36em">400</text>
<text transform="translate(294.48 810.03) rotate(39.95)" text-anchor="middle" dy="0.36em">0</text>
<text transform="translate(246.7 762.5) rotate(49.75)" text-anchor="middle" dy="0.36em">400</text>
<text transform="translate(225.52 735.12) rotate(54.78)" text-anchor="middle" dy="0.36em">0</text>
<text transform="translate(183.59 659.2) rotate(67.4)" text-anchor="middle" dy="0.36em">0</text>
<text transform="translate(163.1 595) rotate(77.2)" text-anchor="middle" dy="0.36em">400</text>
<text transform="translate(153.84 528.25) rotate(87)" text-anchor="middle" dy="0.36em">800</text>
<text transform="translate(156.08 460.89) rotate(-83.2)" text-anchor="middle" dy="0.36em">1200</text>
<text transform="translate(168.98 397.47) rotate(-73.79)" text-anchor="middle" dy="0.36em">0</text>
<text transform="translate(186.71 348.72) rotate(-66.25)" text-anchor="middle" dy="0.36em">0</text>
<text transform="translate(200.78 319.97) rotate(-61.6)" text-anchor="middle" dy="0.36em">0</text>
<text transform="translate(227.8 276.89) rotate(-54.21)" text-anchor="middle" dy="0.36em">0</text>
<text transform="translate(267.83 229.67) rotate(-45.21)" text-anchor="middle" dy="0.36em">400</text>
<text transform="translate(290.13 208.88) rotate(-40.78)" text-anchor="middle" dy="0.36em">0</text>
<text transform="translate(319.95 185.55) rotate(-35.28)" text-anchor="middle" dy="0.36em">0</text>
<text transform="translate(350.55 165.95) rotate(-30)" text-anchor="middle" dy="0.36em">0</text>
<text transform="translate(373.5 153.69) rotate(-26.22)" text-anchor="middle" dy="0.36em">0</text>
<text transform="translate(426.88 132.09) rotate(-17.85)" text-anchor="middle" dy="0.36em">0</text>
<text transform="translate(460.87 122.8) rotate(-12.73)" text-anchor="middle" dy="0.36em">0</text>
<text transform="translate(486.09 117.96) rotate(-9)" text-anchor="middle" dy="0.36em">0</text>
<text transform="translate(514.72 114.49) rotate(-4.81)" text-anchor="middle" dy="0.36em">0</text>
</g>
<g font-size="24.2">
<text transform="translate(570.9 90.44) rotate(-86.83)" text-anchor="start" dy="0.35em">Beijing</text>
<text transform="translate(637.27 99.49) rotate(-77.64)" text-anchor="start" dy="0.35em">Tianjin</text>
<text transform="translate(727.9 130.61) rotate(-64.47)" text-anchor="start" dy="0.35em">Hebei</text>
<text transform="translate(805.91 179.07) rotate(-51.84)" text-anchor="start" dy="0.35em">Shanxi</text>
<text transform="translate(839.73 208.71) rotate(-45.67)" text-anchor="start" dy="0.35em">Inner Mongolia</text>
<text transform="translate(876.63 249.86) rotate(-38.09)" text-anchor="start" dy="0.35em">Liaoning</text>
<text transform="translate(910.17 299.65) rotate(-29.85)" text-anchor="start" dy="0.35em">Jilin</text>
<text transform="translate(932.27 344.08) rotate(-23.04)" text-anchor="start" dy="0.35em">Heilongjiang</text>
<text transform="translate(952.47 403.7) rotate(-14.4)" text-anchor="start" dy="0.35em">Shanghai</text>
<text transform="translate(964.94 531.14) rotate(3.23)" text-anchor="start" dy="0.35em">Jiangsu</text>
<text transform="translate(908.1 719.12) rotate(30.41)" text-anchor="start" dy="0.35em">Zhejiang</text>
<text transform="translate(795.76 843.86) rotate(53.59)" text-anchor="start" dy="0.35em">Anhui</text>
<text transform="translate(712.19 891.7) rotate(66.83)" text-anchor="start" dy="0.35em">Fujian</text>
<text transform="translate(636.13 915.96) rotate(77.8)" text-anchor="start" dy="0.35em">Jiangxi</text>
<text transform="translate(512.29 928.32) rotate(274.82)" text-anchor="end" dy="0.35em">Shandong</text>
<text transform="translate(357.27 882.19) rotate(296.96)" text-anchor="end" dy="0.35em">Henan</text>
<text transform="translate(248.85 802.41) rotate(315.4)" text-anchor="end" dy="0.35em">Hubei</text>
<text transform="translate(186.81 722.79) rotate(329.2)" text-anchor="end" dy="0.35em">Hunan</text>
<text transform="translate(126.37 544.25) rotate(355.03)" text-anchor="end" dy="0.35em">Guangdong</text>
<text transform="translate(147.75 375.8) rotate(378.24)" text-anchor="end" dy="0.35em">Guangxi</text>
<text transform="translate(163.85 336.05) rotate(384.07)" text-anchor="end" dy="0.35em">Hainan</text>
<text transform="translate(182.21 295.72) rotate(390.1)" text-anchor="end" dy="0.35em">Chongqing</text>
<text transform="translate(228.67 232.91) rotate(400.72)" text-anchor="end" dy="0.35em">Sichuan</text>
<text transform="translate(278.07 184.09) rotate(410.18)" text-anchor="end" dy="0.35em">Guizhou</text>
<text transform="translate(309.45 160.8) rotate(415.5)" text-anchor="end" dy="0.35em">Yunnan</text>
<text transform="translate(338.6 144.16) rotate(420.07)" text-anchor="end" dy="0.35em">Tibet</text>
<text transform="translate(377.61 122.46) rotate(426.16)" text-anchor="end" dy="0.35em">Shaanxi</text>
<text transform="translate(424.93 105.7) rotate(433)" text-anchor="end" dy="0.35em">Gansu</text>
<text transform="translate(455.78 96.92) rotate(437.37)" text-anchor="end" dy="0.35em">Qinghai</text>
<text transform="translate(483.8 91.76) rotate(441.25)" text-anchor="end" dy="0.35em">Ningxia</text>
<text transform="translate(517.26 87.71) rotate(445.84)" text-anchor="end" dy="0.35em">Xinjiang</text>
</g>
</g>
</svg>
</body></html>
